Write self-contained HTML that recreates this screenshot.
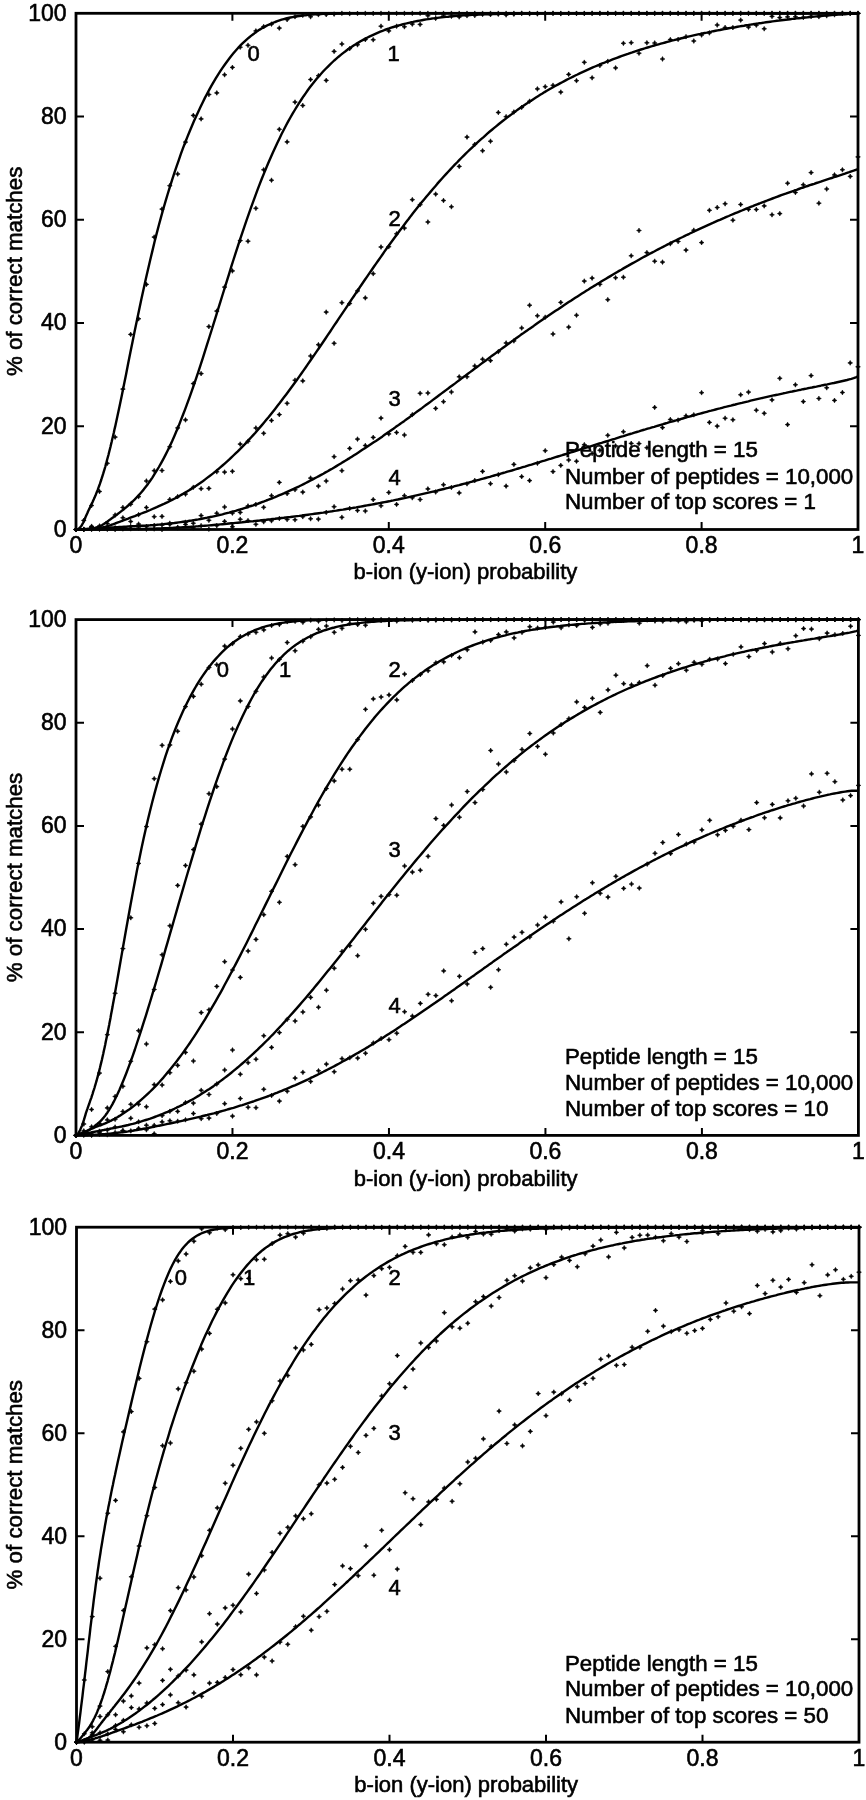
<!DOCTYPE html>
<html><head><meta charset="utf-8"><style>
html,body{margin:0;padding:0;background:#fff;width:866px;height:1800px;overflow:hidden;position:relative}
svg text{font-family:"Liberation Sans", sans-serif;font-size:22px;fill:#000;stroke:#000;stroke-width:0.6px}
svg text.t{font-size:23px}
svg text.l,svg text.r{font-size:22.3px}
</style></head><body>
<svg width="866" height="1800" viewBox="0 0 866 1800" style="position:absolute;left:0;top:0;will-change:transform"><g><rect x="76" y="13.3" width="782.00" height="516.20" fill="none" stroke="#000" stroke-width="2.8"/><path d="M232.40 13.3v7.5M232.40 529.5v-7.5M76 426.26h8M858 426.26h-8M388.80 13.3v7.5M388.80 529.5v-7.5M76 323.02h8M858 323.02h-8M545.20 13.3v7.5M545.20 529.5v-7.5M76 219.78h8M858 219.78h-8M701.60 13.3v7.5M701.60 529.5v-7.5M76 116.54h8M858 116.54h-8" stroke="#000" stroke-width="2" fill="none"/><text class="t" x="66.5" y="536.80" text-anchor="end">0</text><text class="t" x="66.5" y="433.56" text-anchor="end">20</text><text class="t" x="66.5" y="330.32" text-anchor="end">40</text><text class="t" x="66.5" y="227.08" text-anchor="end">60</text><text class="t" x="66.5" y="123.84" text-anchor="end">80</text><text class="t" x="66.5" y="20.60" text-anchor="end">100</text><text class="t" x="76.00" y="553.00" text-anchor="middle">0</text><text class="t" x="232.40" y="553.00" text-anchor="middle">0.2</text><text class="t" x="388.80" y="553.00" text-anchor="middle">0.4</text><text class="t" x="545.20" y="553.00" text-anchor="middle">0.6</text><text class="t" x="701.60" y="553.00" text-anchor="middle">0.8</text><text class="t" x="858.00" y="553.00" text-anchor="middle">1</text><text x="465.50" y="578.50" text-anchor="middle">b-ion (y-ion) probability</text><text class="r" transform="translate(22.4 271.40) rotate(-90)" text-anchor="middle">% of correct matches</text><text class="l" x="565" y="456.80">Peptide length = 15</text><text class="l" x="565" y="483.60">Number of peptides = 10,000</text><text class="l" x="565" y="509.40">Number of top scores = 1</text><path d="M76.0 529.5 L76.7 529.5 L77.3 529.3 L78.0 529.1 L78.7 528.7 L79.3 528.2 L80.0 527.6 L80.6 526.8 L81.3 526.0 L82.0 524.9 L82.6 523.8 L83.3 522.5 L84.0 521.1 L84.6 519.5 L85.3 517.8 L85.9 516.2 L86.6 514.7 L87.3 513.2 L87.9 511.7 L88.6 510.3 L89.3 508.9 L89.9 507.6 L90.6 506.2 L91.2 504.8 L91.9 503.4 L92.6 502.0 L93.2 500.5 L93.9 499.1 L94.6 497.6 L95.2 496.0 L95.9 494.4 L96.5 492.8 L97.2 491.1 L97.9 489.4 L98.5 487.6 L99.2 485.8 L99.9 483.9 L100.5 482.0 L101.2 480.0 L101.8 478.0 L102.5 475.9 L103.2 473.7 L103.8 471.6 L104.5 469.3 L105.2 467.0 L105.8 464.7 L106.5 462.3 L107.1 459.8 L107.8 457.3 L108.5 454.8 L109.1 452.2 L109.8 449.5 L110.5 446.8 L111.1 444.1 L111.8 441.3 L112.4 438.5 L113.1 435.7 L113.8 432.8 L114.4 429.8 L115.1 426.9 L117.3 416.8 L119.5 406.5 L121.7 395.9 L123.9 385.1 L126.1 374.2 L128.2 363.3 L130.4 352.3 L132.6 341.4 L134.8 330.6 L137.0 319.9 L139.2 309.4 L141.4 299.1 L143.6 289.0 L145.8 279.1 L148.0 269.4 L150.2 260.0 L152.4 250.9 L154.5 242.0 L156.7 233.4 L158.9 225.0 L161.1 216.9 L163.3 209.0 L165.5 201.4 L167.7 194.0 L169.9 186.8 L172.1 179.9 L174.3 173.1 L176.5 166.6 L178.7 160.3 L180.8 154.2 L183.0 148.2 L185.2 142.5 L187.4 136.9 L189.6 131.5 L191.8 126.2 L194.0 121.1 L196.2 116.2 L198.4 111.4 L200.6 106.7 L202.8 102.2 L204.9 97.9 L207.1 93.7 L209.3 89.6 L211.5 85.7 L213.7 81.8 L215.9 78.2 L218.1 74.6 L220.3 71.2 L222.5 67.9 L224.7 64.7 L226.9 61.7 L229.1 58.8 L231.2 56.0 L233.4 53.3 L235.6 50.7 L237.8 48.3 L240.0 45.9 L242.2 43.7 L244.4 41.6 L246.6 39.6 L248.8 37.7 L251.0 35.9 L253.2 34.2 L255.4 32.6 L257.5 31.1 L259.7 29.6 L261.9 28.3 L264.1 27.1 L266.3 25.9 L268.5 24.8 L270.7 23.8 L272.9 22.9 L275.1 22.0 L277.3 21.2 L279.5 20.4 L281.6 19.7 L283.8 19.1 L286.0 18.5 L288.2 18.0 L290.4 17.5 L292.6 17.1 L294.8 16.7 L297.0 16.3 L299.2 16.0 L301.4 15.7 L303.6 15.4 L305.8 15.2 L307.9 14.9 L310.1 14.7 L312.3 14.6 L314.5 14.4 L316.7 14.3 L318.9 14.1 L321.1 14.0 L323.3 13.9 L325.5 13.9 L327.7 13.8 L329.9 13.7 L332.1 13.7 L334.2 13.6 L336.4 13.6 L338.6 13.5 L340.8 13.5 L343.0 13.5 L345.2 13.4 L347.4 13.4 L349.6 13.4 L351.8 13.4 L354.0 13.4 L356.2 13.4 L358.4 13.3 L360.5 13.3 L362.7 13.3 L364.9 13.3 L367.1 13.3 L369.3 13.3 L371.5 13.3 L373.7 13.3 L375.9 13.3 L378.1 13.3 L380.3 13.3 L382.5 13.3 L384.6 13.3 L386.8 13.3 L389.0 13.3 L391.2 13.3 L393.4 13.3 L395.6 13.3 L397.8 13.3 L400.0 13.3 L402.2 13.3 L404.4 13.3 L406.6 13.3 L408.8 13.3 L410.9 13.3 L413.1 13.3 L415.3 13.3 L417.5 13.3 L419.7 13.3 L421.9 13.3 L424.1 13.3 L426.3 13.3 L428.5 13.3 L430.7 13.3 L432.9 13.3 L435.1 13.3 L437.2 13.3 L439.4 13.3 L441.6 13.3 L443.8 13.3 L446.0 13.3 L448.2 13.3 L450.4 13.3 L452.6 13.3 L454.8 13.3 L457.0 13.3 L459.2 13.3 L461.3 13.3 L463.5 13.3 L465.7 13.3 L467.9 13.3 L470.1 13.3 L472.3 13.3 L474.5 13.3 L476.7 13.3 L478.9 13.3 L481.1 13.3 L483.3 13.3 L485.5 13.3 L487.6 13.3 L489.8 13.3 L492.0 13.3 L494.2 13.3 L496.4 13.3 L498.6 13.3 L500.8 13.3 L503.0 13.3 L505.2 13.3 L507.4 13.3 L509.6 13.3 L511.8 13.3 L513.9 13.3 L516.1 13.3 L518.3 13.3 L520.5 13.3 L522.7 13.3 L524.9 13.3 L527.1 13.3 L529.3 13.3 L531.5 13.3 L533.7 13.3 L535.9 13.3 L538.0 13.3 L540.2 13.3 L542.4 13.3 L544.6 13.3 L546.8 13.3 L549.0 13.3 L551.2 13.3 L553.4 13.3 L555.6 13.3 L557.8 13.3 L560.0 13.3 L562.2 13.3 L564.3 13.3 L566.5 13.3 L568.7 13.3 L570.9 13.3 L573.1 13.3 L575.3 13.3 L577.5 13.3 L579.7 13.3 L581.9 13.3 L584.1 13.3 L586.3 13.3 L588.5 13.3 L590.6 13.3 L592.8 13.3 L595.0 13.3 L597.2 13.3 L599.4 13.3 L601.6 13.3 L603.8 13.3 L606.0 13.3 L608.2 13.3 L610.4 13.3 L612.6 13.3 L614.7 13.3 L616.9 13.3 L619.1 13.3 L621.3 13.3 L623.5 13.3 L625.7 13.3 L627.9 13.3 L630.1 13.3 L632.3 13.3 L634.5 13.3 L636.7 13.3 L638.9 13.3 L641.0 13.3 L643.2 13.3 L645.4 13.3 L647.6 13.3 L649.8 13.3 L652.0 13.3 L654.2 13.3 L656.4 13.3 L658.6 13.3 L660.8 13.3 L663.0 13.3 L665.2 13.3 L667.3 13.3 L669.5 13.3 L671.7 13.3 L673.9 13.3 L676.1 13.3 L678.3 13.3 L680.5 13.3 L682.7 13.3 L684.9 13.3 L687.1 13.3 L689.3 13.3 L691.5 13.3 L693.6 13.3 L695.8 13.3 L698.0 13.3 L700.2 13.3 L702.4 13.3 L704.6 13.3 L706.8 13.3 L709.0 13.3 L711.2 13.3 L713.4 13.3 L715.6 13.3 L717.7 13.3 L719.9 13.3 L722.1 13.3 L724.3 13.3 L726.5 13.3 L728.7 13.3 L730.9 13.3 L733.1 13.3 L735.3 13.3 L737.5 13.3 L739.7 13.3 L741.9 13.3 L744.0 13.3 L746.2 13.3 L748.4 13.3 L750.6 13.3 L752.8 13.3 L755.0 13.3 L757.2 13.3 L759.4 13.3 L761.6 13.3 L763.8 13.3 L766.0 13.3 L768.2 13.3 L770.3 13.3 L772.5 13.3 L774.7 13.3 L776.9 13.3 L779.1 13.3 L781.3 13.3 L783.5 13.3 L785.7 13.3 L787.9 13.3 L790.1 13.3 L792.3 13.3 L794.4 13.3 L796.6 13.3 L798.8 13.3 L801.0 13.3 L803.2 13.3 L805.4 13.3 L807.6 13.3 L809.8 13.3 L812.0 13.3 L814.2 13.3 L816.4 13.3 L818.6 13.3 L820.7 13.3 L822.9 13.3 L825.1 13.3 L827.3 13.3 L829.5 13.3 L831.7 13.3 L833.9 13.3 L836.1 13.3 L838.3 13.3 L840.5 13.3 L842.7 13.3 L844.9 13.3 L847.0 13.3 L849.2 13.3 L851.4 13.3 L853.6 13.3 L855.8 13.3 L858.0 13.3" fill="none" stroke="#000" stroke-width="2.4" stroke-linejoin="round"/><path d="M76.0 529.5 L76.7 529.5 L77.3 529.5 L78.0 529.5 L78.7 529.5 L79.3 529.5 L80.0 529.5 L80.6 529.5 L81.3 529.5 L82.0 529.5 L82.6 529.4 L83.3 529.4 L84.0 529.4 L84.6 529.4 L85.3 529.3 L85.9 529.3 L86.6 529.3 L87.3 529.2 L87.9 529.2 L88.6 529.1 L89.3 529.0 L89.9 528.9 L90.6 528.8 L91.2 528.7 L91.9 528.6 L92.6 528.5 L93.2 528.3 L93.9 528.2 L94.6 528.0 L95.2 527.8 L95.9 527.7 L96.5 527.4 L97.2 527.2 L97.9 527.0 L98.5 526.7 L99.2 526.5 L99.9 526.2 L100.5 525.9 L101.2 525.5 L101.8 525.2 L102.5 524.8 L103.2 524.4 L103.8 524.0 L104.5 523.5 L105.2 523.1 L105.8 522.6 L106.5 522.1 L107.1 521.7 L107.8 521.2 L108.5 520.7 L109.1 520.2 L109.8 519.8 L110.5 519.3 L111.1 518.8 L111.8 518.3 L112.4 517.8 L113.1 517.4 L113.8 516.9 L114.4 516.4 L115.1 515.9 L117.3 514.3 L119.5 512.6 L121.7 510.9 L123.9 509.2 L126.1 507.3 L128.2 505.5 L130.4 503.5 L132.6 501.5 L134.8 499.3 L137.0 497.0 L139.2 494.7 L141.4 492.2 L143.6 489.6 L145.8 486.8 L148.0 483.9 L150.2 480.8 L152.4 477.6 L154.5 474.2 L156.7 470.7 L158.9 467.0 L161.1 463.1 L163.3 459.1 L165.5 454.9 L167.7 450.5 L169.9 445.9 L172.1 441.2 L174.3 436.2 L176.5 431.1 L178.7 425.9 L180.8 420.4 L183.0 414.8 L185.2 409.1 L187.4 403.2 L189.6 397.1 L191.8 390.9 L194.0 384.6 L196.2 378.1 L198.4 371.6 L200.6 364.9 L202.8 358.2 L204.9 351.3 L207.1 344.4 L209.3 337.5 L211.5 330.5 L213.7 323.4 L215.9 316.3 L218.1 309.2 L220.3 302.1 L222.5 295.0 L224.7 288.0 L226.9 280.9 L229.1 273.9 L231.2 266.9 L233.4 260.0 L235.6 253.2 L237.8 246.4 L240.0 239.7 L242.2 233.1 L244.4 226.6 L246.6 220.2 L248.8 213.9 L251.0 207.7 L253.2 201.7 L255.4 195.7 L257.5 189.9 L259.7 184.1 L261.9 178.5 L264.1 173.1 L266.3 167.7 L268.5 162.5 L270.7 157.4 L272.9 152.5 L275.1 147.7 L277.3 143.0 L279.5 138.4 L281.6 134.0 L283.8 129.7 L286.0 125.5 L288.2 121.4 L290.4 117.5 L292.6 113.7 L294.8 110.0 L297.0 106.4 L299.2 102.9 L301.4 99.5 L303.6 96.2 L305.8 93.1 L307.9 90.0 L310.1 87.1 L312.3 84.2 L314.5 81.5 L316.7 78.8 L318.9 76.2 L321.1 73.7 L323.3 71.3 L325.5 69.0 L327.7 66.8 L329.9 64.6 L332.1 62.5 L334.2 60.5 L336.4 58.6 L338.6 56.7 L340.8 54.9 L343.0 53.1 L345.2 51.5 L347.4 49.8 L349.6 48.3 L351.8 46.8 L354.0 45.3 L356.2 43.9 L358.4 42.6 L360.5 41.3 L362.7 40.1 L364.9 38.9 L367.1 37.7 L369.3 36.6 L371.5 35.6 L373.7 34.6 L375.9 33.6 L378.1 32.6 L380.3 31.7 L382.5 30.9 L384.6 30.0 L386.8 29.2 L389.0 28.5 L391.2 27.7 L393.4 27.0 L395.6 26.3 L397.8 25.7 L400.0 25.1 L402.2 24.5 L404.4 23.9 L406.6 23.4 L408.8 22.8 L410.9 22.3 L413.1 21.9 L415.3 21.4 L417.5 21.0 L419.7 20.6 L421.9 20.2 L424.1 19.8 L426.3 19.4 L428.5 19.1 L430.7 18.8 L432.9 18.4 L435.1 18.2 L437.2 17.9 L439.4 17.6 L441.6 17.3 L443.8 17.1 L446.0 16.9 L448.2 16.7 L450.4 16.4 L452.6 16.3 L454.8 16.1 L457.0 15.9 L459.2 15.7 L461.3 15.6 L463.5 15.4 L465.7 15.3 L467.9 15.1 L470.1 15.0 L472.3 14.9 L474.5 14.8 L476.7 14.7 L478.9 14.6 L481.1 14.5 L483.3 14.4 L485.5 14.3 L487.6 14.3 L489.8 14.2 L492.0 14.1 L494.2 14.1 L496.4 14.0 L498.6 13.9 L500.8 13.9 L503.0 13.8 L505.2 13.8 L507.4 13.8 L509.6 13.7 L511.8 13.7 L513.9 13.7 L516.1 13.6 L518.3 13.6 L520.5 13.6 L522.7 13.5 L524.9 13.5 L527.1 13.5 L529.3 13.5 L531.5 13.5 L533.7 13.5 L535.9 13.4 L538.0 13.4 L540.2 13.4 L542.4 13.4 L544.6 13.4 L546.8 13.4 L549.0 13.4 L551.2 13.4 L553.4 13.4 L555.6 13.4 L557.8 13.3 L560.0 13.3 L562.2 13.3 L564.3 13.3 L566.5 13.3 L568.7 13.3 L570.9 13.3 L573.1 13.3 L575.3 13.3 L577.5 13.3 L579.7 13.3 L581.9 13.3 L584.1 13.3 L586.3 13.3 L588.5 13.3 L590.6 13.3 L592.8 13.3 L595.0 13.3 L597.2 13.3 L599.4 13.3 L601.6 13.3 L603.8 13.3 L606.0 13.3 L608.2 13.3 L610.4 13.3 L612.6 13.3 L614.7 13.3 L616.9 13.3 L619.1 13.3 L621.3 13.3 L623.5 13.3 L625.7 13.3 L627.9 13.3 L630.1 13.3 L632.3 13.3 L634.5 13.3 L636.7 13.3 L638.9 13.3 L641.0 13.3 L643.2 13.3 L645.4 13.3 L647.6 13.3 L649.8 13.3 L652.0 13.3 L654.2 13.3 L656.4 13.3 L658.6 13.3 L660.8 13.3 L663.0 13.3 L665.2 13.3 L667.3 13.3 L669.5 13.3 L671.7 13.3 L673.9 13.3 L676.1 13.3 L678.3 13.3 L680.5 13.3 L682.7 13.3 L684.9 13.3 L687.1 13.3 L689.3 13.3 L691.5 13.3 L693.6 13.3 L695.8 13.3 L698.0 13.3 L700.2 13.3 L702.4 13.3 L704.6 13.3 L706.8 13.3 L709.0 13.3 L711.2 13.3 L713.4 13.3 L715.6 13.3 L717.7 13.3 L719.9 13.3 L722.1 13.3 L724.3 13.3 L726.5 13.3 L728.7 13.3 L730.9 13.3 L733.1 13.3 L735.3 13.3 L737.5 13.3 L739.7 13.3 L741.9 13.3 L744.0 13.3 L746.2 13.3 L748.4 13.3 L750.6 13.3 L752.8 13.3 L755.0 13.3 L757.2 13.3 L759.4 13.3 L761.6 13.3 L763.8 13.3 L766.0 13.3 L768.2 13.3 L770.3 13.3 L772.5 13.3 L774.7 13.3 L776.9 13.3 L779.1 13.3 L781.3 13.3 L783.5 13.3 L785.7 13.3 L787.9 13.3 L790.1 13.3 L792.3 13.3 L794.4 13.3 L796.6 13.3 L798.8 13.3 L801.0 13.3 L803.2 13.3 L805.4 13.3 L807.6 13.3 L809.8 13.3 L812.0 13.3 L814.2 13.3 L816.4 13.3 L818.6 13.3 L820.7 13.3 L822.9 13.3 L825.1 13.3 L827.3 13.3 L829.5 13.3 L831.7 13.3 L833.9 13.3 L836.1 13.3 L838.3 13.3 L840.5 13.3 L842.7 13.3 L844.9 13.3 L847.0 13.3 L849.2 13.3 L851.4 13.3 L853.6 13.3 L855.8 13.3 L858.0 13.3" fill="none" stroke="#000" stroke-width="2.4" stroke-linejoin="round"/><path d="M76.0 529.5 L76.7 529.5 L77.3 529.5 L78.0 529.5 L78.7 529.5 L79.3 529.5 L80.0 529.5 L80.6 529.5 L81.3 529.5 L82.0 529.5 L82.6 529.5 L83.3 529.4 L84.0 529.4 L84.6 529.4 L85.3 529.4 L85.9 529.4 L86.6 529.3 L87.3 529.3 L87.9 529.3 L88.6 529.2 L89.3 529.2 L89.9 529.1 L90.6 529.1 L91.2 529.0 L91.9 529.0 L92.6 528.9 L93.2 528.9 L93.9 528.8 L94.6 528.7 L95.2 528.6 L95.9 528.6 L96.5 528.5 L97.2 528.4 L97.9 528.3 L98.5 528.2 L99.2 528.1 L99.9 527.9 L100.5 527.8 L101.2 527.7 L101.8 527.6 L102.5 527.4 L103.2 527.3 L103.8 527.1 L104.5 527.0 L105.2 526.8 L105.8 526.6 L106.5 526.4 L107.1 526.3 L107.8 526.1 L108.5 525.9 L109.1 525.7 L109.8 525.4 L110.5 525.2 L111.1 525.0 L111.8 524.7 L112.4 524.5 L113.1 524.3 L113.8 524.0 L114.4 523.8 L115.1 523.5 L117.3 522.7 L119.5 521.9 L121.7 521.0 L123.9 520.2 L126.1 519.4 L128.2 518.6 L130.4 517.7 L132.6 516.9 L134.8 516.1 L137.0 515.2 L139.2 514.4 L141.4 513.5 L143.6 512.6 L145.8 511.8 L148.0 510.9 L150.2 510.0 L152.4 509.0 L154.5 508.1 L156.7 507.2 L158.9 506.2 L161.1 505.2 L163.3 504.2 L165.5 503.1 L167.7 502.1 L169.9 501.0 L172.1 499.9 L174.3 498.7 L176.5 497.6 L178.7 496.4 L180.8 495.1 L183.0 493.9 L185.2 492.6 L187.4 491.3 L189.6 489.9 L191.8 488.6 L194.0 487.1 L196.2 485.7 L198.4 484.2 L200.6 482.7 L202.8 481.2 L204.9 479.6 L207.1 477.9 L209.3 476.3 L211.5 474.6 L213.7 472.9 L215.9 471.1 L218.1 469.3 L220.3 467.4 L222.5 465.5 L224.7 463.6 L226.9 461.7 L229.1 459.7 L231.2 457.6 L233.4 455.5 L235.6 453.4 L237.8 451.3 L240.0 449.1 L242.2 446.8 L244.4 444.6 L246.6 442.3 L248.8 439.9 L251.0 437.5 L253.2 435.1 L255.4 432.7 L257.5 430.2 L259.7 427.6 L261.9 425.1 L264.1 422.5 L266.3 419.8 L268.5 417.2 L270.7 414.4 L272.9 411.7 L275.1 408.9 L277.3 406.1 L279.5 403.3 L281.6 400.5 L283.8 397.6 L286.0 394.7 L288.2 391.7 L290.4 388.7 L292.6 385.7 L294.8 382.7 L297.0 379.7 L299.2 376.6 L301.4 373.5 L303.6 370.4 L305.8 367.3 L307.9 364.2 L310.1 361.0 L312.3 357.8 L314.5 354.6 L316.7 351.4 L318.9 348.2 L321.1 345.0 L323.3 341.8 L325.5 338.5 L327.7 335.2 L329.9 332.0 L332.1 328.7 L334.2 325.4 L336.4 322.2 L338.6 318.9 L340.8 315.6 L343.0 312.3 L345.2 309.1 L347.4 305.8 L349.6 302.5 L351.8 299.2 L354.0 296.0 L356.2 292.7 L358.4 289.5 L360.5 286.2 L362.7 283.0 L364.9 279.8 L367.1 276.6 L369.3 273.4 L371.5 270.2 L373.7 267.0 L375.9 263.9 L378.1 260.7 L380.3 257.6 L382.5 254.5 L384.6 251.4 L386.8 248.3 L389.0 245.3 L391.2 242.3 L393.4 239.2 L395.6 236.2 L397.8 233.3 L400.0 230.3 L402.2 227.4 L404.4 224.5 L406.6 221.6 L408.8 218.8 L410.9 215.9 L413.1 213.1 L415.3 210.3 L417.5 207.6 L419.7 204.8 L421.9 202.1 L424.1 199.5 L426.3 196.8 L428.5 194.2 L430.7 191.6 L432.9 189.0 L435.1 186.5 L437.2 183.9 L439.4 181.4 L441.6 179.0 L443.8 176.5 L446.0 174.1 L448.2 171.7 L450.4 169.4 L452.6 167.0 L454.8 164.7 L457.0 162.5 L459.2 160.2 L461.3 158.0 L463.5 155.8 L465.7 153.6 L467.9 151.5 L470.1 149.4 L472.3 147.3 L474.5 145.2 L476.7 143.2 L478.9 141.2 L481.1 139.2 L483.3 137.3 L485.5 135.3 L487.6 133.4 L489.8 131.5 L492.0 129.7 L494.2 127.9 L496.4 126.1 L498.6 124.3 L500.8 122.5 L503.0 120.8 L505.2 119.1 L507.4 117.4 L509.6 115.7 L511.8 114.1 L513.9 112.5 L516.1 110.9 L518.3 109.3 L520.5 107.8 L522.7 106.2 L524.9 104.7 L527.1 103.3 L529.3 101.8 L531.5 100.4 L533.7 98.9 L535.9 97.5 L538.0 96.2 L540.2 94.8 L542.4 93.5 L544.6 92.1 L546.8 90.8 L549.0 89.5 L551.2 88.3 L553.4 87.0 L555.6 85.8 L557.8 84.6 L560.0 83.4 L562.2 82.2 L564.3 81.1 L566.5 79.9 L568.7 78.8 L570.9 77.7 L573.1 76.6 L575.3 75.5 L577.5 74.5 L579.7 73.4 L581.9 72.4 L584.1 71.4 L586.3 70.4 L588.5 69.4 L590.6 68.4 L592.8 67.4 L595.0 66.5 L597.2 65.6 L599.4 64.7 L601.6 63.7 L603.8 62.9 L606.0 62.0 L608.2 61.1 L610.4 60.3 L612.6 59.4 L614.7 58.6 L616.9 57.8 L619.1 57.0 L621.3 56.2 L623.5 55.4 L625.7 54.6 L627.9 53.9 L630.1 53.1 L632.3 52.4 L634.5 51.6 L636.7 50.9 L638.9 50.2 L641.0 49.5 L643.2 48.8 L645.4 48.2 L647.6 47.5 L649.8 46.8 L652.0 46.2 L654.2 45.5 L656.4 44.9 L658.6 44.3 L660.8 43.7 L663.0 43.1 L665.2 42.5 L667.3 41.9 L669.5 41.3 L671.7 40.7 L673.9 40.2 L676.1 39.6 L678.3 39.1 L680.5 38.5 L682.7 38.0 L684.9 37.5 L687.1 36.9 L689.3 36.4 L691.5 35.9 L693.6 35.4 L695.8 34.9 L698.0 34.4 L700.2 34.0 L702.4 33.5 L704.6 33.0 L706.8 32.6 L709.0 32.1 L711.2 31.7 L713.4 31.2 L715.6 30.8 L717.7 30.4 L719.9 30.0 L722.1 29.5 L724.3 29.1 L726.5 28.7 L728.7 28.3 L730.9 27.9 L733.1 27.5 L735.3 27.2 L737.5 26.8 L739.7 26.4 L741.9 26.0 L744.0 25.7 L746.2 25.3 L748.4 25.0 L750.6 24.6 L752.8 24.3 L755.0 23.9 L757.2 23.6 L759.4 23.3 L761.6 23.0 L763.8 22.6 L766.0 22.3 L768.2 22.0 L770.3 21.7 L772.5 21.4 L774.7 21.1 L776.9 20.8 L779.1 20.6 L781.3 20.3 L783.5 20.0 L785.7 19.7 L787.9 19.5 L790.1 19.2 L792.3 18.9 L794.4 18.7 L796.6 18.4 L798.8 18.2 L801.0 18.0 L803.2 17.7 L805.4 17.5 L807.6 17.3 L809.8 17.0 L812.0 16.8 L814.2 16.6 L816.4 16.4 L818.6 16.2 L820.7 16.0 L822.9 15.8 L825.1 15.6 L827.3 15.4 L829.5 15.3 L831.7 15.1 L833.9 14.9 L836.1 14.8 L838.3 14.6 L840.5 14.5 L842.7 14.3 L844.9 14.2 L847.0 14.0 L849.2 13.9 L851.4 13.8 L853.6 13.7 L855.8 13.6 L858.0 13.5" fill="none" stroke="#000" stroke-width="2.4" stroke-linejoin="round"/><path d="M76.0 529.5 L76.7 529.5 L77.3 529.4 L78.0 529.4 L78.7 529.3 L79.3 529.3 L80.0 529.3 L80.6 529.2 L81.3 529.2 L82.0 529.2 L82.6 529.1 L83.3 529.1 L84.0 529.0 L84.6 529.0 L85.3 529.0 L85.9 528.9 L86.6 528.9 L87.3 528.9 L87.9 528.8 L88.6 528.8 L89.3 528.7 L89.9 528.7 L90.6 528.7 L91.2 528.6 L91.9 528.6 L92.6 528.6 L93.2 528.5 L93.9 528.5 L94.6 528.4 L95.2 528.4 L95.9 528.4 L96.5 528.3 L97.2 528.3 L97.9 528.3 L98.5 528.2 L99.2 528.2 L99.9 528.1 L100.5 528.1 L101.2 528.1 L101.8 528.0 L102.5 528.0 L103.2 528.0 L103.8 527.9 L104.5 527.9 L105.2 527.8 L105.8 527.8 L106.5 527.8 L107.1 527.7 L107.8 527.7 L108.5 527.7 L109.1 527.6 L109.8 527.6 L110.5 527.5 L111.1 527.5 L111.8 527.5 L112.4 527.4 L113.1 527.4 L113.8 527.4 L114.4 527.3 L115.1 527.3 L117.3 527.2 L119.5 527.0 L121.7 526.9 L123.9 526.8 L126.1 526.7 L128.2 526.5 L130.4 526.4 L132.6 526.3 L134.8 526.2 L137.0 526.0 L139.2 525.9 L141.4 525.8 L143.6 525.7 L145.8 525.6 L148.0 525.4 L150.2 525.3 L152.4 525.1 L154.5 524.9 L156.7 524.8 L158.9 524.6 L161.1 524.4 L163.3 524.2 L165.5 523.9 L167.7 523.7 L169.9 523.5 L172.1 523.2 L174.3 523.0 L176.5 522.7 L178.7 522.4 L180.8 522.1 L183.0 521.8 L185.2 521.5 L187.4 521.2 L189.6 520.8 L191.8 520.5 L194.0 520.1 L196.2 519.7 L198.4 519.4 L200.6 519.0 L202.8 518.5 L204.9 518.1 L207.1 517.7 L209.3 517.2 L211.5 516.8 L213.7 516.3 L215.9 515.8 L218.1 515.3 L220.3 514.8 L222.5 514.3 L224.7 513.7 L226.9 513.1 L229.1 512.6 L231.2 512.0 L233.4 511.4 L235.6 510.8 L237.8 510.1 L240.0 509.5 L242.2 508.8 L244.4 508.1 L246.6 507.5 L248.8 506.7 L251.0 506.0 L253.2 505.3 L255.4 504.5 L257.5 503.8 L259.7 503.0 L261.9 502.2 L264.1 501.4 L266.3 500.5 L268.5 499.7 L270.7 498.8 L272.9 498.0 L275.1 497.1 L277.3 496.2 L279.5 495.2 L281.6 494.3 L283.8 493.4 L286.0 492.4 L288.2 491.4 L290.4 490.4 L292.6 489.4 L294.8 488.4 L297.0 487.3 L299.2 486.3 L301.4 485.2 L303.6 484.1 L305.8 483.0 L307.9 481.9 L310.1 480.7 L312.3 479.6 L314.5 478.4 L316.7 477.3 L318.9 476.1 L321.1 474.9 L323.3 473.7 L325.5 472.4 L327.7 471.2 L329.9 469.9 L332.1 468.7 L334.2 467.4 L336.4 466.1 L338.6 464.8 L340.8 463.5 L343.0 462.1 L345.2 460.8 L347.4 459.4 L349.6 458.1 L351.8 456.7 L354.0 455.3 L356.2 453.9 L358.4 452.5 L360.5 451.1 L362.7 449.6 L364.9 448.2 L367.1 446.8 L369.3 445.3 L371.5 443.8 L373.7 442.3 L375.9 440.9 L378.1 439.4 L380.3 437.9 L382.5 436.4 L384.6 434.8 L386.8 433.3 L389.0 431.8 L391.2 430.2 L393.4 428.7 L395.6 427.1 L397.8 425.6 L400.0 424.0 L402.2 422.4 L404.4 420.9 L406.6 419.3 L408.8 417.7 L410.9 416.1 L413.1 414.5 L415.3 412.9 L417.5 411.3 L419.7 409.7 L421.9 408.1 L424.1 406.4 L426.3 404.8 L428.5 403.2 L430.7 401.6 L432.9 399.9 L435.1 398.3 L437.2 396.7 L439.4 395.0 L441.6 393.4 L443.8 391.8 L446.0 390.1 L448.2 388.5 L450.4 386.8 L452.6 385.2 L454.8 383.6 L457.0 381.9 L459.2 380.3 L461.3 378.6 L463.5 377.0 L465.7 375.4 L467.9 373.7 L470.1 372.1 L472.3 370.5 L474.5 368.8 L476.7 367.2 L478.9 365.6 L481.1 363.9 L483.3 362.3 L485.5 360.7 L487.6 359.1 L489.8 357.4 L492.0 355.8 L494.2 354.2 L496.4 352.6 L498.6 351.0 L500.8 349.4 L503.0 347.8 L505.2 346.2 L507.4 344.6 L509.6 343.0 L511.8 341.4 L513.9 339.9 L516.1 338.3 L518.3 336.7 L520.5 335.1 L522.7 333.6 L524.9 332.0 L527.1 330.5 L529.3 328.9 L531.5 327.4 L533.7 325.9 L535.9 324.3 L538.0 322.8 L540.2 321.3 L542.4 319.8 L544.6 318.3 L546.8 316.8 L549.0 315.3 L551.2 313.8 L553.4 312.3 L555.6 310.8 L557.8 309.4 L560.0 307.9 L562.2 306.4 L564.3 305.0 L566.5 303.5 L568.7 302.1 L570.9 300.7 L573.1 299.2 L575.3 297.8 L577.5 296.4 L579.7 295.0 L581.9 293.6 L584.1 292.2 L586.3 290.8 L588.5 289.5 L590.6 288.1 L592.8 286.7 L595.0 285.4 L597.2 284.0 L599.4 282.7 L601.6 281.3 L603.8 280.0 L606.0 278.7 L608.2 277.4 L610.4 276.1 L612.6 274.8 L614.7 273.5 L616.9 272.2 L619.1 270.9 L621.3 269.7 L623.5 268.4 L625.7 267.1 L627.9 265.9 L630.1 264.6 L632.3 263.4 L634.5 262.2 L636.7 261.0 L638.9 259.7 L641.0 258.5 L643.2 257.3 L645.4 256.1 L647.6 255.0 L649.8 253.8 L652.0 252.6 L654.2 251.5 L656.4 250.3 L658.6 249.1 L660.8 248.0 L663.0 246.9 L665.2 245.7 L667.3 244.6 L669.5 243.5 L671.7 242.4 L673.9 241.3 L676.1 240.2 L678.3 239.1 L680.5 238.0 L682.7 237.0 L684.9 235.9 L687.1 234.8 L689.3 233.8 L691.5 232.7 L693.6 231.7 L695.8 230.7 L698.0 229.6 L700.2 228.6 L702.4 227.6 L704.6 226.6 L706.8 225.6 L709.0 224.6 L711.2 223.6 L713.4 222.7 L715.6 221.7 L717.7 220.7 L719.9 219.8 L722.1 218.8 L724.3 217.9 L726.5 216.9 L728.7 216.0 L730.9 215.0 L733.1 214.1 L735.3 213.2 L737.5 212.3 L739.7 211.4 L741.9 210.5 L744.0 209.6 L746.2 208.7 L748.4 207.8 L750.6 206.9 L752.8 206.1 L755.0 205.2 L757.2 204.3 L759.4 203.5 L761.6 202.6 L763.8 201.8 L766.0 201.0 L768.2 200.1 L770.3 199.3 L772.5 198.5 L774.7 197.7 L776.9 196.8 L779.1 196.0 L781.3 195.2 L783.5 194.4 L785.7 193.7 L787.9 192.9 L790.1 192.1 L792.3 191.3 L794.4 190.5 L796.6 189.8 L798.8 189.0 L801.0 188.2 L803.2 187.5 L805.4 186.7 L807.6 186.0 L809.8 185.2 L812.0 184.5 L814.2 183.8 L816.4 183.0 L818.6 182.3 L820.7 181.6 L822.9 180.8 L825.1 180.1 L827.3 179.4 L829.5 178.7 L831.7 178.0 L833.9 177.2 L836.1 176.5 L838.3 175.8 L840.5 175.1 L842.7 174.4 L844.9 173.7 L847.0 172.9 L849.2 172.2 L851.4 171.4 L853.6 170.7 L855.8 169.9 L858.0 169.1" fill="none" stroke="#000" stroke-width="2.4" stroke-linejoin="round"/><path d="M76.0 529.5 L76.7 529.5 L77.3 529.5 L78.0 529.5 L78.7 529.5 L79.3 529.5 L80.0 529.5 L80.6 529.5 L81.3 529.5 L82.0 529.5 L82.6 529.5 L83.3 529.5 L84.0 529.5 L84.6 529.5 L85.3 529.5 L85.9 529.5 L86.6 529.5 L87.3 529.5 L87.9 529.5 L88.6 529.5 L89.3 529.5 L89.9 529.5 L90.6 529.5 L91.2 529.5 L91.9 529.5 L92.6 529.5 L93.2 529.5 L93.9 529.5 L94.6 529.5 L95.2 529.5 L95.9 529.5 L96.5 529.5 L97.2 529.5 L97.9 529.5 L98.5 529.5 L99.2 529.5 L99.9 529.5 L100.5 529.5 L101.2 529.5 L101.8 529.5 L102.5 529.5 L103.2 529.5 L103.8 529.5 L104.5 529.5 L105.2 529.4 L105.8 529.4 L106.5 529.4 L107.1 529.4 L107.8 529.4 L108.5 529.4 L109.1 529.4 L109.8 529.4 L110.5 529.4 L111.1 529.4 L111.8 529.4 L112.4 529.4 L113.1 529.4 L113.8 529.4 L114.4 529.4 L115.1 529.4 L117.3 529.4 L119.5 529.3 L121.7 529.3 L123.9 529.3 L126.1 529.2 L128.2 529.2 L130.4 529.2 L132.6 529.1 L134.8 529.1 L137.0 529.1 L139.2 529.0 L141.4 529.0 L143.6 528.9 L145.8 528.9 L148.0 528.8 L150.2 528.7 L152.4 528.7 L154.5 528.6 L156.7 528.5 L158.9 528.4 L161.1 528.4 L163.3 528.3 L165.5 528.2 L167.7 528.1 L169.9 528.0 L172.1 527.9 L174.3 527.8 L176.5 527.7 L178.7 527.5 L180.8 527.4 L183.0 527.3 L185.2 527.2 L187.4 527.0 L189.6 526.9 L191.8 526.7 L194.0 526.6 L196.2 526.4 L198.4 526.3 L200.6 526.1 L202.8 525.9 L204.9 525.7 L207.1 525.6 L209.3 525.4 L211.5 525.2 L213.7 525.0 L215.9 524.8 L218.1 524.6 L220.3 524.4 L222.5 524.2 L224.7 524.0 L226.9 523.8 L229.1 523.5 L231.2 523.3 L233.4 523.1 L235.6 522.9 L237.8 522.7 L240.0 522.5 L242.2 522.3 L244.4 522.0 L246.6 521.8 L248.8 521.6 L251.0 521.4 L253.2 521.2 L255.4 520.9 L257.5 520.7 L259.7 520.5 L261.9 520.2 L264.1 520.0 L266.3 519.8 L268.5 519.5 L270.7 519.3 L272.9 519.0 L275.1 518.8 L277.3 518.5 L279.5 518.3 L281.6 518.0 L283.8 517.8 L286.0 517.5 L288.2 517.2 L290.4 517.0 L292.6 516.7 L294.8 516.4 L297.0 516.1 L299.2 515.9 L301.4 515.6 L303.6 515.3 L305.8 515.0 L307.9 514.7 L310.1 514.4 L312.3 514.1 L314.5 513.8 L316.7 513.5 L318.9 513.2 L321.1 512.9 L323.3 512.6 L325.5 512.2 L327.7 511.9 L329.9 511.6 L332.1 511.3 L334.2 510.9 L336.4 510.6 L338.6 510.2 L340.8 509.9 L343.0 509.6 L345.2 509.2 L347.4 508.8 L349.6 508.5 L351.8 508.1 L354.0 507.7 L356.2 507.4 L358.4 507.0 L360.5 506.6 L362.7 506.2 L364.9 505.8 L367.1 505.4 L369.3 505.0 L371.5 504.6 L373.7 504.2 L375.9 503.8 L378.1 503.4 L380.3 503.0 L382.5 502.5 L384.6 502.1 L386.8 501.7 L389.0 501.3 L391.2 500.8 L393.4 500.4 L395.6 499.9 L397.8 499.5 L400.0 499.0 L402.2 498.5 L404.4 498.1 L406.6 497.6 L408.8 497.1 L410.9 496.6 L413.1 496.2 L415.3 495.7 L417.5 495.2 L419.7 494.7 L421.9 494.2 L424.1 493.7 L426.3 493.2 L428.5 492.7 L430.7 492.1 L432.9 491.6 L435.1 491.1 L437.2 490.6 L439.4 490.0 L441.6 489.5 L443.8 489.0 L446.0 488.4 L448.2 487.9 L450.4 487.3 L452.6 486.8 L454.8 486.2 L457.0 485.6 L459.2 485.1 L461.3 484.5 L463.5 483.9 L465.7 483.3 L467.9 482.8 L470.1 482.2 L472.3 481.6 L474.5 481.0 L476.7 480.4 L478.9 479.8 L481.1 479.2 L483.3 478.6 L485.5 478.0 L487.6 477.4 L489.8 476.8 L492.0 476.1 L494.2 475.5 L496.4 474.9 L498.6 474.3 L500.8 473.6 L503.0 473.0 L505.2 472.4 L507.4 471.7 L509.6 471.1 L511.8 470.5 L513.9 469.8 L516.1 469.2 L518.3 468.5 L520.5 467.9 L522.7 467.2 L524.9 466.6 L527.1 465.9 L529.3 465.2 L531.5 464.6 L533.7 463.9 L535.9 463.2 L538.0 462.6 L540.2 461.9 L542.4 461.2 L544.6 460.6 L546.8 459.9 L549.0 459.2 L551.2 458.6 L553.4 457.9 L555.6 457.2 L557.8 456.5 L560.0 455.8 L562.2 455.2 L564.3 454.5 L566.5 453.8 L568.7 453.1 L570.9 452.4 L573.1 451.8 L575.3 451.1 L577.5 450.4 L579.7 449.7 L581.9 449.0 L584.1 448.3 L586.3 447.6 L588.5 447.0 L590.6 446.3 L592.8 445.6 L595.0 444.9 L597.2 444.2 L599.4 443.5 L601.6 442.9 L603.8 442.2 L606.0 441.5 L608.2 440.8 L610.4 440.1 L612.6 439.4 L614.7 438.8 L616.9 438.1 L619.1 437.4 L621.3 436.7 L623.5 436.1 L625.7 435.4 L627.9 434.7 L630.1 434.0 L632.3 433.4 L634.5 432.7 L636.7 432.0 L638.9 431.4 L641.0 430.7 L643.2 430.0 L645.4 429.4 L647.6 428.7 L649.8 428.1 L652.0 427.4 L654.2 426.8 L656.4 426.1 L658.6 425.5 L660.8 424.8 L663.0 424.2 L665.2 423.5 L667.3 422.9 L669.5 422.2 L671.7 421.6 L673.9 421.0 L676.1 420.4 L678.3 419.7 L680.5 419.1 L682.7 418.5 L684.9 417.9 L687.1 417.2 L689.3 416.6 L691.5 416.0 L693.6 415.4 L695.8 414.8 L698.0 414.2 L700.2 413.6 L702.4 413.0 L704.6 412.4 L706.8 411.8 L709.0 411.2 L711.2 410.7 L713.4 410.1 L715.6 409.5 L717.7 408.9 L719.9 408.4 L722.1 407.8 L724.3 407.2 L726.5 406.7 L728.7 406.1 L730.9 405.6 L733.1 405.0 L735.3 404.5 L737.5 403.9 L739.7 403.4 L741.9 402.9 L744.0 402.3 L746.2 401.8 L748.4 401.3 L750.6 400.7 L752.8 400.2 L755.0 399.7 L757.2 399.2 L759.4 398.7 L761.6 398.2 L763.8 397.7 L766.0 397.2 L768.2 396.7 L770.3 396.2 L772.5 395.7 L774.7 395.2 L776.9 394.8 L779.1 394.3 L781.3 393.8 L783.5 393.3 L785.7 392.9 L787.9 392.4 L790.1 391.9 L792.3 391.5 L794.4 391.0 L796.6 390.6 L798.8 390.1 L801.0 389.7 L803.2 389.2 L805.4 388.8 L807.6 388.3 L809.8 387.9 L812.0 387.5 L814.2 387.0 L816.4 386.6 L818.6 386.1 L820.7 385.7 L822.9 385.2 L825.1 384.8 L827.3 384.4 L829.5 383.9 L831.7 383.4 L833.9 383.0 L836.1 382.5 L838.3 382.0 L840.5 381.5 L842.7 381.0 L844.9 380.5 L847.0 380.0 L849.2 379.4 L851.4 378.8 L853.6 378.1 L855.8 377.3 L858.0 376.4" fill="none" stroke="#000" stroke-width="2.4" stroke-linejoin="round"/><path d="M73.6 529.5L75.2 528.7L76.0 527.1L76.8 528.7L78.4 529.5L76.8 530.3L76.0 531.9L75.2 530.3ZM81.4 520.4L83.0 519.6L83.8 518.0L84.6 519.6L86.2 520.4L84.6 521.2L83.8 522.8L83.0 521.2ZM89.2 505.5L90.8 504.7L91.6 503.1L92.4 504.7L94.0 505.5L92.4 506.3L91.6 507.9L90.8 506.3ZM97.1 491.5L98.7 490.7L99.5 489.1L100.3 490.7L101.9 491.5L100.3 492.3L99.5 493.9L98.7 492.3ZM104.9 463.3L106.5 462.5L107.3 460.9L108.1 462.5L109.7 463.3L108.1 464.1L107.3 465.7L106.5 464.1ZM112.7 437.1L114.3 436.3L115.1 434.7L115.9 436.3L117.5 437.1L115.9 437.9L115.1 439.5L114.3 437.9ZM120.5 389.1L122.1 388.3L122.9 386.7L123.7 388.3L125.3 389.1L123.7 389.9L122.9 391.5L122.1 389.9ZM128.3 334.4L129.9 333.6L130.7 332.0L131.5 333.6L133.1 334.4L131.5 335.2L130.7 336.8L129.9 335.2ZM136.2 318.8L137.8 318.0L138.6 316.4L139.4 318.0L141.0 318.8L139.4 319.6L138.6 321.2L137.8 319.6ZM144.0 284.4L145.6 283.6L146.4 282.0L147.2 283.6L148.8 284.4L147.2 285.2L146.4 286.8L145.6 285.2ZM151.8 237.1L153.4 236.3L154.2 234.7L155.0 236.3L156.6 237.1L155.0 237.9L154.2 239.5L153.4 237.9ZM159.6 209.1L161.2 208.3L162.0 206.7L162.8 208.3L164.4 209.1L162.8 209.9L162.0 211.5L161.2 209.9ZM167.4 185.7L169.0 184.9L169.8 183.3L170.6 184.9L172.2 185.7L170.6 186.5L169.8 188.1L169.0 186.5ZM175.3 174.0L176.9 173.2L177.7 171.6L178.5 173.2L180.1 174.0L178.5 174.8L177.7 176.4L176.9 174.8ZM183.1 142.1L184.7 141.3L185.5 139.7L186.3 141.3L187.9 142.1L186.3 142.9L185.5 144.5L184.7 142.9ZM190.9 115.4L192.5 114.6L193.3 113.0L194.1 114.6L195.7 115.4L194.1 116.2L193.3 117.8L192.5 116.2ZM198.7 118.9L200.3 118.1L201.1 116.5L201.9 118.1L203.5 118.9L201.9 119.7L201.1 121.3L200.3 119.7ZM206.5 94.5L208.1 93.7L208.9 92.1L209.7 93.7L211.3 94.5L209.7 95.3L208.9 96.9L208.1 95.3ZM214.4 92.9L216.0 92.1L216.8 90.5L217.6 92.1L219.2 92.9L217.6 93.7L216.8 95.3L216.0 93.7ZM222.2 74.8L223.8 74.0L224.6 72.4L225.4 74.0L227.0 74.8L225.4 75.6L224.6 77.2L223.8 75.6ZM230.0 67.4L231.6 66.6L232.4 65.0L233.2 66.6L234.8 67.4L233.2 68.2L232.4 69.8L231.6 68.2ZM237.8 47.2L239.4 46.4L240.2 44.8L241.0 46.4L242.6 47.2L241.0 48.0L240.2 49.6L239.4 48.0ZM245.6 45.3L247.2 44.5L248.0 42.9L248.8 44.5L250.4 45.3L248.8 46.1L248.0 47.7L247.2 46.1ZM253.5 30.9L255.1 30.1L255.9 28.5L256.7 30.1L258.3 30.9L256.7 31.7L255.9 33.3L255.1 31.7ZM261.3 26.6L262.9 25.8L263.7 24.2L264.5 25.8L266.1 26.6L264.5 27.4L263.7 29.0L262.9 27.4ZM269.1 24.1L270.7 23.3L271.5 21.7L272.3 23.3L273.9 24.1L272.3 24.9L271.5 26.5L270.7 24.9ZM276.9 28.1L278.5 27.3L279.3 25.7L280.1 27.3L281.7 28.1L280.1 28.9L279.3 30.5L278.5 28.9ZM284.7 19.6L286.3 18.8L287.1 17.2L287.9 18.8L289.5 19.6L287.9 20.4L287.1 22.0L286.3 20.4ZM292.6 16.7L294.2 15.9L295.0 14.3L295.8 15.9L297.4 16.7L295.8 17.5L295.0 19.1L294.2 17.5ZM300.4 15.3L302.0 14.5L302.8 12.9L303.6 14.5L305.2 15.3L303.6 16.1L302.8 17.7L302.0 16.1ZM308.2 16.8L309.8 16.0L310.6 14.4L311.4 16.0L313.0 16.8L311.4 17.6L310.6 19.2L309.8 17.6ZM316.0 14.7L317.6 13.9L318.4 12.3L319.2 13.9L320.8 14.7L319.2 15.5L318.4 17.1L317.6 15.5ZM323.8 14.6L325.4 13.8L326.2 12.2L327.0 13.8L328.6 14.6L327.0 15.4L326.2 17.0L325.4 15.4ZM331.7 14.1L333.3 13.3L334.1 11.7L334.9 13.3L336.5 14.1L334.9 14.9L334.1 16.5L333.3 14.9ZM339.5 13.3L341.1 12.5L341.9 10.9L342.7 12.5L344.3 13.3L342.7 14.1L341.9 15.7L341.1 14.1ZM347.3 13.7L348.9 12.9L349.7 11.3L350.5 12.9L352.1 13.7L350.5 14.5L349.7 16.1L348.9 14.5ZM355.1 13.4L356.7 12.6L357.5 11.0L358.3 12.6L359.9 13.4L358.3 14.2L357.5 15.8L356.7 14.2ZM362.9 13.3L364.5 12.5L365.3 10.9L366.1 12.5L367.7 13.3L366.1 14.1L365.3 15.7L364.5 14.1ZM370.8 13.4L372.4 12.6L373.2 11.0L374.0 12.6L375.6 13.4L374.0 14.2L373.2 15.8L372.4 14.2ZM378.6 13.3L380.2 12.5L381.0 10.9L381.8 12.5L383.4 13.3L381.8 14.1L381.0 15.7L380.2 14.1ZM386.4 13.3L388.0 12.5L388.8 10.9L389.6 12.5L391.2 13.3L389.6 14.1L388.8 15.7L388.0 14.1ZM394.2 13.3L395.8 12.5L396.6 10.9L397.4 12.5L399.0 13.3L397.4 14.1L396.6 15.7L395.8 14.1ZM402.0 13.3L403.6 12.5L404.4 10.9L405.2 12.5L406.8 13.3L405.2 14.1L404.4 15.7L403.6 14.1ZM409.9 13.3L411.5 12.5L412.3 10.9L413.1 12.5L414.7 13.3L413.1 14.1L412.3 15.7L411.5 14.1ZM417.7 13.3L419.3 12.5L420.1 10.9L420.9 12.5L422.5 13.3L420.9 14.1L420.1 15.7L419.3 14.1ZM425.5 13.3L427.1 12.5L427.9 10.9L428.7 12.5L430.3 13.3L428.7 14.1L427.9 15.7L427.1 14.1ZM433.3 13.3L434.9 12.5L435.7 10.9L436.5 12.5L438.1 13.3L436.5 14.1L435.7 15.7L434.9 14.1ZM441.1 13.3L442.7 12.5L443.5 10.9L444.3 12.5L445.9 13.3L444.3 14.1L443.5 15.7L442.7 14.1ZM449.0 13.3L450.6 12.5L451.4 10.9L452.2 12.5L453.8 13.3L452.2 14.1L451.4 15.7L450.6 14.1ZM456.8 13.3L458.4 12.5L459.2 10.9L460.0 12.5L461.6 13.3L460.0 14.1L459.2 15.7L458.4 14.1ZM464.6 13.3L466.2 12.5L467.0 10.9L467.8 12.5L469.4 13.3L467.8 14.1L467.0 15.7L466.2 14.1ZM472.4 13.3L474.0 12.5L474.8 10.9L475.6 12.5L477.2 13.3L475.6 14.1L474.8 15.7L474.0 14.1ZM480.2 13.3L481.8 12.5L482.6 10.9L483.4 12.5L485.0 13.3L483.4 14.1L482.6 15.7L481.8 14.1ZM488.1 13.3L489.7 12.5L490.5 10.9L491.3 12.5L492.9 13.3L491.3 14.1L490.5 15.7L489.7 14.1ZM495.9 13.3L497.5 12.5L498.3 10.9L499.1 12.5L500.7 13.3L499.1 14.1L498.3 15.7L497.5 14.1ZM503.7 13.3L505.3 12.5L506.1 10.9L506.9 12.5L508.5 13.3L506.9 14.1L506.1 15.7L505.3 14.1ZM511.5 13.3L513.1 12.5L513.9 10.9L514.7 12.5L516.3 13.3L514.7 14.1L513.9 15.7L513.1 14.1ZM519.3 13.3L520.9 12.5L521.7 10.9L522.5 12.5L524.1 13.3L522.5 14.1L521.7 15.7L520.9 14.1ZM527.2 13.3L528.8 12.5L529.6 10.9L530.4 12.5L532.0 13.3L530.4 14.1L529.6 15.7L528.8 14.1ZM535.0 13.3L536.6 12.5L537.4 10.9L538.2 12.5L539.8 13.3L538.2 14.1L537.4 15.7L536.6 14.1ZM542.8 13.3L544.4 12.5L545.2 10.9L546.0 12.5L547.6 13.3L546.0 14.1L545.2 15.7L544.4 14.1ZM550.6 13.3L552.2 12.5L553.0 10.9L553.8 12.5L555.4 13.3L553.8 14.1L553.0 15.7L552.2 14.1ZM558.4 13.3L560.0 12.5L560.8 10.9L561.6 12.5L563.2 13.3L561.6 14.1L560.8 15.7L560.0 14.1ZM566.3 13.3L567.9 12.5L568.7 10.9L569.5 12.5L571.1 13.3L569.5 14.1L568.7 15.7L567.9 14.1ZM574.1 13.3L575.7 12.5L576.5 10.9L577.3 12.5L578.9 13.3L577.3 14.1L576.5 15.7L575.7 14.1ZM581.9 13.3L583.5 12.5L584.3 10.9L585.1 12.5L586.7 13.3L585.1 14.1L584.3 15.7L583.5 14.1ZM589.7 13.3L591.3 12.5L592.1 10.9L592.9 12.5L594.5 13.3L592.9 14.1L592.1 15.7L591.3 14.1ZM597.5 13.3L599.1 12.5L599.9 10.9L600.7 12.5L602.3 13.3L600.7 14.1L599.9 15.7L599.1 14.1ZM605.4 13.3L607.0 12.5L607.8 10.9L608.6 12.5L610.2 13.3L608.6 14.1L607.8 15.7L607.0 14.1ZM613.2 13.3L614.8 12.5L615.6 10.9L616.4 12.5L618.0 13.3L616.4 14.1L615.6 15.7L614.8 14.1ZM621.0 13.3L622.6 12.5L623.4 10.9L624.2 12.5L625.8 13.3L624.2 14.1L623.4 15.7L622.6 14.1ZM628.8 13.3L630.4 12.5L631.2 10.9L632.0 12.5L633.6 13.3L632.0 14.1L631.2 15.7L630.4 14.1ZM636.6 13.3L638.2 12.5L639.0 10.9L639.8 12.5L641.4 13.3L639.8 14.1L639.0 15.7L638.2 14.1ZM644.5 13.3L646.1 12.5L646.9 10.9L647.7 12.5L649.3 13.3L647.7 14.1L646.9 15.7L646.1 14.1ZM652.3 13.3L653.9 12.5L654.7 10.9L655.5 12.5L657.1 13.3L655.5 14.1L654.7 15.7L653.9 14.1ZM660.1 13.3L661.7 12.5L662.5 10.9L663.3 12.5L664.9 13.3L663.3 14.1L662.5 15.7L661.7 14.1ZM667.9 13.3L669.5 12.5L670.3 10.9L671.1 12.5L672.7 13.3L671.1 14.1L670.3 15.7L669.5 14.1ZM675.7 13.3L677.3 12.5L678.1 10.9L678.9 12.5L680.5 13.3L678.9 14.1L678.1 15.7L677.3 14.1ZM683.6 13.3L685.2 12.5L686.0 10.9L686.8 12.5L688.4 13.3L686.8 14.1L686.0 15.7L685.2 14.1ZM691.4 13.3L693.0 12.5L693.8 10.9L694.6 12.5L696.2 13.3L694.6 14.1L693.8 15.7L693.0 14.1ZM699.2 13.3L700.8 12.5L701.6 10.9L702.4 12.5L704.0 13.3L702.4 14.1L701.6 15.7L700.8 14.1ZM707.0 13.3L708.6 12.5L709.4 10.9L710.2 12.5L711.8 13.3L710.2 14.1L709.4 15.7L708.6 14.1ZM714.8 13.3L716.4 12.5L717.2 10.9L718.0 12.5L719.6 13.3L718.0 14.1L717.2 15.7L716.4 14.1ZM722.7 13.3L724.3 12.5L725.1 10.9L725.9 12.5L727.5 13.3L725.9 14.1L725.1 15.7L724.3 14.1ZM730.5 13.3L732.1 12.5L732.9 10.9L733.7 12.5L735.3 13.3L733.7 14.1L732.9 15.7L732.1 14.1ZM738.3 13.3L739.9 12.5L740.7 10.9L741.5 12.5L743.1 13.3L741.5 14.1L740.7 15.7L739.9 14.1ZM746.1 13.3L747.7 12.5L748.5 10.9L749.3 12.5L750.9 13.3L749.3 14.1L748.5 15.7L747.7 14.1ZM753.9 13.3L755.5 12.5L756.3 10.9L757.1 12.5L758.7 13.3L757.1 14.1L756.3 15.7L755.5 14.1ZM761.8 13.3L763.4 12.5L764.2 10.9L765.0 12.5L766.6 13.3L765.0 14.1L764.2 15.7L763.4 14.1ZM769.6 13.3L771.2 12.5L772.0 10.9L772.8 12.5L774.4 13.3L772.8 14.1L772.0 15.7L771.2 14.1ZM777.4 13.3L779.0 12.5L779.8 10.9L780.6 12.5L782.2 13.3L780.6 14.1L779.8 15.7L779.0 14.1ZM785.2 13.3L786.8 12.5L787.6 10.9L788.4 12.5L790.0 13.3L788.4 14.1L787.6 15.7L786.8 14.1ZM793.0 13.3L794.6 12.5L795.4 10.9L796.2 12.5L797.8 13.3L796.2 14.1L795.4 15.7L794.6 14.1ZM800.9 13.3L802.5 12.5L803.3 10.9L804.1 12.5L805.7 13.3L804.1 14.1L803.3 15.7L802.5 14.1ZM808.7 13.3L810.3 12.5L811.1 10.9L811.9 12.5L813.5 13.3L811.9 14.1L811.1 15.7L810.3 14.1ZM816.5 13.3L818.1 12.5L818.9 10.9L819.7 12.5L821.3 13.3L819.7 14.1L818.9 15.7L818.1 14.1ZM824.3 13.3L825.9 12.5L826.7 10.9L827.5 12.5L829.1 13.3L827.5 14.1L826.7 15.7L825.9 14.1ZM832.1 13.3L833.7 12.5L834.5 10.9L835.3 12.5L836.9 13.3L835.3 14.1L834.5 15.7L833.7 14.1ZM840.0 13.3L841.6 12.5L842.4 10.9L843.2 12.5L844.8 13.3L843.2 14.1L842.4 15.7L841.6 14.1ZM847.8 13.3L849.4 12.5L850.2 10.9L851.0 12.5L852.6 13.3L851.0 14.1L850.2 15.7L849.4 14.1ZM855.6 13.3L857.2 12.5L858.0 10.9L858.8 12.5L860.4 13.3L858.8 14.1L858.0 15.7L857.2 14.1ZM73.6 529.5L75.2 528.7L76.0 527.1L76.8 528.7L78.4 529.5L76.8 530.3L76.0 531.9L75.2 530.3ZM81.4 529.4L83.0 528.6L83.8 527.0L84.6 528.6L86.2 529.4L84.6 530.2L83.8 531.8L83.0 530.2ZM89.2 526.3L90.8 525.5L91.6 523.9L92.4 525.5L94.0 526.3L92.4 527.1L91.6 528.7L90.8 527.1ZM97.1 528.0L98.7 527.2L99.5 525.6L100.3 527.2L101.9 528.0L100.3 528.8L99.5 530.4L98.7 528.8ZM104.9 523.5L106.5 522.7L107.3 521.1L108.1 522.7L109.7 523.5L108.1 524.3L107.3 525.9L106.5 524.3ZM112.7 515.0L114.3 514.2L115.1 512.6L115.9 514.2L117.5 515.0L115.9 515.8L115.1 517.4L114.3 515.8ZM120.5 507.5L122.1 506.7L122.9 505.1L123.7 506.7L125.3 507.5L123.7 508.3L122.9 509.9L122.1 508.3ZM128.3 504.2L129.9 503.4L130.7 501.8L131.5 503.4L133.1 504.2L131.5 505.0L130.7 506.6L129.9 505.0ZM136.2 496.7L137.8 495.9L138.6 494.3L139.4 495.9L141.0 496.7L139.4 497.5L138.6 499.1L137.8 497.5ZM144.0 481.0L145.6 480.2L146.4 478.6L147.2 480.2L148.8 481.0L147.2 481.8L146.4 483.4L145.6 481.8ZM151.8 470.7L153.4 469.9L154.2 468.3L155.0 469.9L156.6 470.7L155.0 471.5L154.2 473.1L153.4 471.5ZM159.6 470.5L161.2 469.7L162.0 468.1L162.8 469.7L164.4 470.5L162.8 471.3L162.0 472.9L161.2 471.3ZM167.4 446.8L169.0 446.0L169.8 444.4L170.6 446.0L172.2 446.8L170.6 447.6L169.8 449.2L169.0 447.6ZM175.3 427.9L176.9 427.1L177.7 425.5L178.5 427.1L180.1 427.9L178.5 428.7L177.7 430.3L176.9 428.7ZM183.1 419.9L184.7 419.1L185.5 417.5L186.3 419.1L187.9 419.9L186.3 420.7L185.5 422.3L184.7 420.7ZM190.9 383.6L192.5 382.8L193.3 381.2L194.1 382.8L195.7 383.6L194.1 384.4L193.3 386.0L192.5 384.4ZM198.7 373.6L200.3 372.8L201.1 371.2L201.9 372.8L203.5 373.6L201.9 374.4L201.1 376.0L200.3 374.4ZM206.5 326.6L208.1 325.8L208.9 324.2L209.7 325.8L211.3 326.6L209.7 327.4L208.9 329.0L208.1 327.4ZM214.4 311.1L216.0 310.3L216.8 308.7L217.6 310.3L219.2 311.1L217.6 311.9L216.8 313.5L216.0 311.9ZM222.2 287.1L223.8 286.3L224.6 284.7L225.4 286.3L227.0 287.1L225.4 287.9L224.6 289.5L223.8 287.9ZM230.0 270.9L231.6 270.1L232.4 268.5L233.2 270.1L234.8 270.9L233.2 271.7L232.4 273.3L231.6 271.7ZM237.8 240.6L239.4 239.8L240.2 238.2L241.0 239.8L242.6 240.6L241.0 241.4L240.2 243.0L239.4 241.4ZM245.6 241.2L247.2 240.4L248.0 238.8L248.8 240.4L250.4 241.2L248.8 242.0L248.0 243.6L247.2 242.0ZM253.5 208.3L255.1 207.5L255.9 205.9L256.7 207.5L258.3 208.3L256.7 209.1L255.9 210.7L255.1 209.1ZM261.3 169.8L262.9 169.0L263.7 167.4L264.5 169.0L266.1 169.8L264.5 170.6L263.7 172.2L262.9 170.6ZM269.1 180.2L270.7 179.4L271.5 177.8L272.3 179.4L273.9 180.2L272.3 181.0L271.5 182.6L270.7 181.0ZM276.9 129.3L278.5 128.5L279.3 126.9L280.1 128.5L281.7 129.3L280.1 130.1L279.3 131.7L278.5 130.1ZM284.7 141.9L286.3 141.1L287.1 139.5L287.9 141.1L289.5 141.9L287.9 142.7L287.1 144.3L286.3 142.7ZM292.6 102.1L294.2 101.3L295.0 99.7L295.8 101.3L297.4 102.1L295.8 102.9L295.0 104.5L294.2 102.9ZM300.4 105.5L302.0 104.7L302.8 103.1L303.6 104.7L305.2 105.5L303.6 106.3L302.8 107.9L302.0 106.3ZM308.2 79.5L309.8 78.7L310.6 77.1L311.4 78.7L313.0 79.5L311.4 80.3L310.6 81.9L309.8 80.3ZM316.0 75.7L317.6 74.9L318.4 73.3L319.2 74.9L320.8 75.7L319.2 76.5L318.4 78.1L317.6 76.5ZM323.8 80.4L325.4 79.6L326.2 78.0L327.0 79.6L328.6 80.4L327.0 81.2L326.2 82.8L325.4 81.2ZM331.7 51.4L333.3 50.6L334.1 49.0L334.9 50.6L336.5 51.4L334.9 52.2L334.1 53.8L333.3 52.2ZM339.5 44.0L341.1 43.2L341.9 41.6L342.7 43.2L344.3 44.0L342.7 44.8L341.9 46.4L341.1 44.8ZM347.3 48.6L348.9 47.8L349.7 46.2L350.5 47.8L352.1 48.6L350.5 49.4L349.7 51.0L348.9 49.4ZM355.1 44.8L356.7 44.0L357.5 42.4L358.3 44.0L359.9 44.8L358.3 45.6L357.5 47.2L356.7 45.6ZM362.9 39.6L364.5 38.8L365.3 37.2L366.1 38.8L367.7 39.6L366.1 40.4L365.3 42.0L364.5 40.4ZM370.8 39.8L372.4 39.0L373.2 37.4L374.0 39.0L375.6 39.8L374.0 40.6L373.2 42.2L372.4 40.6ZM378.6 26.2L380.2 25.4L381.0 23.8L381.8 25.4L383.4 26.2L381.8 27.0L381.0 28.6L380.2 27.0ZM386.4 30.9L388.0 30.1L388.8 28.5L389.6 30.1L391.2 30.9L389.6 31.7L388.8 33.3L388.0 31.7ZM394.2 26.2L395.8 25.4L396.6 23.8L397.4 25.4L399.0 26.2L397.4 27.0L396.6 28.6L395.8 27.0ZM402.0 26.8L403.6 26.0L404.4 24.4L405.2 26.0L406.8 26.8L405.2 27.6L404.4 29.2L403.6 27.6ZM409.9 24.1L411.5 23.3L412.3 21.7L413.1 23.3L414.7 24.1L413.1 24.9L412.3 26.5L411.5 24.9ZM417.7 24.4L419.3 23.6L420.1 22.0L420.9 23.6L422.5 24.4L420.9 25.2L420.1 26.8L419.3 25.2ZM425.5 15.7L427.1 14.9L427.9 13.3L428.7 14.9L430.3 15.7L428.7 16.5L427.9 18.1L427.1 16.5ZM433.3 18.4L434.9 17.6L435.7 16.0L436.5 17.6L438.1 18.4L436.5 19.2L435.7 20.8L434.9 19.2ZM441.1 15.0L442.7 14.2L443.5 12.6L444.3 14.2L445.9 15.0L444.3 15.8L443.5 17.4L442.7 15.8ZM449.0 16.3L450.6 15.5L451.4 13.9L452.2 15.5L453.8 16.3L452.2 17.1L451.4 18.7L450.6 17.1ZM456.8 16.9L458.4 16.1L459.2 14.5L460.0 16.1L461.6 16.9L460.0 17.7L459.2 19.3L458.4 17.7ZM464.6 15.7L466.2 14.9L467.0 13.3L467.8 14.9L469.4 15.7L467.8 16.5L467.0 18.1L466.2 16.5ZM472.4 15.5L474.0 14.7L474.8 13.1L475.6 14.7L477.2 15.5L475.6 16.3L474.8 17.9L474.0 16.3ZM480.2 14.4L481.8 13.6L482.6 12.0L483.4 13.6L485.0 14.4L483.4 15.2L482.6 16.8L481.8 15.2ZM488.1 14.6L489.7 13.8L490.5 12.2L491.3 13.8L492.9 14.6L491.3 15.4L490.5 17.0L489.7 15.4ZM495.9 14.2L497.5 13.4L498.3 11.8L499.1 13.4L500.7 14.2L499.1 15.0L498.3 16.6L497.5 15.0ZM503.7 14.9L505.3 14.1L506.1 12.5L506.9 14.1L508.5 14.9L506.9 15.7L506.1 17.3L505.3 15.7ZM511.5 14.2L513.1 13.4L513.9 11.8L514.7 13.4L516.3 14.2L514.7 15.0L513.9 16.6L513.1 15.0ZM519.3 13.3L520.9 12.5L521.7 10.9L522.5 12.5L524.1 13.3L522.5 14.1L521.7 15.7L520.9 14.1ZM527.2 13.8L528.8 13.0L529.6 11.4L530.4 13.0L532.0 13.8L530.4 14.6L529.6 16.2L528.8 14.6ZM535.0 13.9L536.6 13.1L537.4 11.5L538.2 13.1L539.8 13.9L538.2 14.7L537.4 16.3L536.6 14.7ZM542.8 13.3L544.4 12.5L545.2 10.9L546.0 12.5L547.6 13.3L546.0 14.1L545.2 15.7L544.4 14.1ZM550.6 13.3L552.2 12.5L553.0 10.9L553.8 12.5L555.4 13.3L553.8 14.1L553.0 15.7L552.2 14.1ZM558.4 13.7L560.0 12.9L560.8 11.3L561.6 12.9L563.2 13.7L561.6 14.5L560.8 16.1L560.0 14.5ZM566.3 13.4L567.9 12.6L568.7 11.0L569.5 12.6L571.1 13.4L569.5 14.2L568.7 15.8L567.9 14.2ZM574.1 13.4L575.7 12.6L576.5 11.0L577.3 12.6L578.9 13.4L577.3 14.2L576.5 15.8L575.7 14.2ZM581.9 13.5L583.5 12.7L584.3 11.1L585.1 12.7L586.7 13.5L585.1 14.3L584.3 15.9L583.5 14.3ZM589.7 13.3L591.3 12.5L592.1 10.9L592.9 12.5L594.5 13.3L592.9 14.1L592.1 15.7L591.3 14.1ZM597.5 13.3L599.1 12.5L599.9 10.9L600.7 12.5L602.3 13.3L600.7 14.1L599.9 15.7L599.1 14.1ZM605.4 13.3L607.0 12.5L607.8 10.9L608.6 12.5L610.2 13.3L608.6 14.1L607.8 15.7L607.0 14.1ZM613.2 13.3L614.8 12.5L615.6 10.9L616.4 12.5L618.0 13.3L616.4 14.1L615.6 15.7L614.8 14.1ZM621.0 13.3L622.6 12.5L623.4 10.9L624.2 12.5L625.8 13.3L624.2 14.1L623.4 15.7L622.6 14.1ZM628.8 13.3L630.4 12.5L631.2 10.9L632.0 12.5L633.6 13.3L632.0 14.1L631.2 15.7L630.4 14.1ZM636.6 13.3L638.2 12.5L639.0 10.9L639.8 12.5L641.4 13.3L639.8 14.1L639.0 15.7L638.2 14.1ZM644.5 13.3L646.1 12.5L646.9 10.9L647.7 12.5L649.3 13.3L647.7 14.1L646.9 15.7L646.1 14.1ZM652.3 13.3L653.9 12.5L654.7 10.9L655.5 12.5L657.1 13.3L655.5 14.1L654.7 15.7L653.9 14.1ZM660.1 13.3L661.7 12.5L662.5 10.9L663.3 12.5L664.9 13.3L663.3 14.1L662.5 15.7L661.7 14.1ZM667.9 13.3L669.5 12.5L670.3 10.9L671.1 12.5L672.7 13.3L671.1 14.1L670.3 15.7L669.5 14.1ZM675.7 13.3L677.3 12.5L678.1 10.9L678.9 12.5L680.5 13.3L678.9 14.1L678.1 15.7L677.3 14.1ZM683.6 13.3L685.2 12.5L686.0 10.9L686.8 12.5L688.4 13.3L686.8 14.1L686.0 15.7L685.2 14.1ZM691.4 13.3L693.0 12.5L693.8 10.9L694.6 12.5L696.2 13.3L694.6 14.1L693.8 15.7L693.0 14.1ZM699.2 13.3L700.8 12.5L701.6 10.9L702.4 12.5L704.0 13.3L702.4 14.1L701.6 15.7L700.8 14.1ZM707.0 13.3L708.6 12.5L709.4 10.9L710.2 12.5L711.8 13.3L710.2 14.1L709.4 15.7L708.6 14.1ZM714.8 13.3L716.4 12.5L717.2 10.9L718.0 12.5L719.6 13.3L718.0 14.1L717.2 15.7L716.4 14.1ZM722.7 13.3L724.3 12.5L725.1 10.9L725.9 12.5L727.5 13.3L725.9 14.1L725.1 15.7L724.3 14.1ZM730.5 13.3L732.1 12.5L732.9 10.9L733.7 12.5L735.3 13.3L733.7 14.1L732.9 15.7L732.1 14.1ZM738.3 13.3L739.9 12.5L740.7 10.9L741.5 12.5L743.1 13.3L741.5 14.1L740.7 15.7L739.9 14.1ZM746.1 13.3L747.7 12.5L748.5 10.9L749.3 12.5L750.9 13.3L749.3 14.1L748.5 15.7L747.7 14.1ZM753.9 13.3L755.5 12.5L756.3 10.9L757.1 12.5L758.7 13.3L757.1 14.1L756.3 15.7L755.5 14.1ZM761.8 13.3L763.4 12.5L764.2 10.9L765.0 12.5L766.6 13.3L765.0 14.1L764.2 15.7L763.4 14.1ZM769.6 13.3L771.2 12.5L772.0 10.9L772.8 12.5L774.4 13.3L772.8 14.1L772.0 15.7L771.2 14.1ZM777.4 13.3L779.0 12.5L779.8 10.9L780.6 12.5L782.2 13.3L780.6 14.1L779.8 15.7L779.0 14.1ZM785.2 13.3L786.8 12.5L787.6 10.9L788.4 12.5L790.0 13.3L788.4 14.1L787.6 15.7L786.8 14.1ZM793.0 13.3L794.6 12.5L795.4 10.9L796.2 12.5L797.8 13.3L796.2 14.1L795.4 15.7L794.6 14.1ZM800.9 13.3L802.5 12.5L803.3 10.9L804.1 12.5L805.7 13.3L804.1 14.1L803.3 15.7L802.5 14.1ZM808.7 13.3L810.3 12.5L811.1 10.9L811.9 12.5L813.5 13.3L811.9 14.1L811.1 15.7L810.3 14.1ZM816.5 13.3L818.1 12.5L818.9 10.9L819.7 12.5L821.3 13.3L819.7 14.1L818.9 15.7L818.1 14.1ZM824.3 13.3L825.9 12.5L826.7 10.9L827.5 12.5L829.1 13.3L827.5 14.1L826.7 15.7L825.9 14.1ZM832.1 13.3L833.7 12.5L834.5 10.9L835.3 12.5L836.9 13.3L835.3 14.1L834.5 15.7L833.7 14.1ZM840.0 13.3L841.6 12.5L842.4 10.9L843.2 12.5L844.8 13.3L843.2 14.1L842.4 15.7L841.6 14.1ZM847.8 13.3L849.4 12.5L850.2 10.9L851.0 12.5L852.6 13.3L851.0 14.1L850.2 15.7L849.4 14.1ZM855.6 13.3L857.2 12.5L858.0 10.9L858.8 12.5L860.4 13.3L858.8 14.1L858.0 15.7L857.2 14.1ZM73.6 529.5L75.2 528.7L76.0 527.1L76.8 528.7L78.4 529.5L76.8 530.3L76.0 531.9L75.2 530.3ZM81.4 529.2L83.0 528.4L83.8 526.8L84.6 528.4L86.2 529.2L84.6 530.0L83.8 531.6L83.0 530.0ZM89.2 527.5L90.8 526.7L91.6 525.1L92.4 526.7L94.0 527.5L92.4 528.3L91.6 529.9L90.8 528.3ZM97.1 526.0L98.7 525.2L99.5 523.6L100.3 525.2L101.9 526.0L100.3 526.8L99.5 528.4L98.7 526.8ZM104.9 528.6L106.5 527.8L107.3 526.2L108.1 527.8L109.7 528.6L108.1 529.4L107.3 531.0L106.5 529.4ZM112.7 528.2L114.3 527.4L115.1 525.8L115.9 527.4L117.5 528.2L115.9 529.0L115.1 530.6L114.3 529.0ZM120.5 517.8L122.1 517.0L122.9 515.4L123.7 517.0L125.3 517.8L123.7 518.6L122.9 520.2L122.1 518.6ZM128.3 521.5L129.9 520.7L130.7 519.1L131.5 520.7L133.1 521.5L131.5 522.3L130.7 523.9L129.9 522.3ZM136.2 514.7L137.8 513.9L138.6 512.3L139.4 513.9L141.0 514.7L139.4 515.5L138.6 517.1L137.8 515.5ZM144.0 507.5L145.6 506.7L146.4 505.1L147.2 506.7L148.8 507.5L147.2 508.3L146.4 509.9L145.6 508.3ZM151.8 516.7L153.4 515.9L154.2 514.3L155.0 515.9L156.6 516.7L155.0 517.5L154.2 519.1L153.4 517.5ZM159.6 516.4L161.2 515.6L162.0 514.0L162.8 515.6L164.4 516.4L162.8 517.2L162.0 518.8L161.2 517.2ZM167.4 499.5L169.0 498.7L169.8 497.1L170.6 498.7L172.2 499.5L170.6 500.3L169.8 501.9L169.0 500.3ZM175.3 496.6L176.9 495.8L177.7 494.2L178.5 495.8L180.1 496.6L178.5 497.4L177.7 499.0L176.9 497.4ZM183.1 494.1L184.7 493.3L185.5 491.7L186.3 493.3L187.9 494.1L186.3 494.9L185.5 496.5L184.7 494.9ZM190.9 487.3L192.5 486.5L193.3 484.9L194.1 486.5L195.7 487.3L194.1 488.1L193.3 489.7L192.5 488.1ZM198.7 488.7L200.3 487.9L201.1 486.3L201.9 487.9L203.5 488.7L201.9 489.5L201.1 491.1L200.3 489.5ZM206.5 488.4L208.1 487.6L208.9 486.0L209.7 487.6L211.3 488.4L209.7 489.2L208.9 490.8L208.1 489.2ZM214.4 471.8L216.0 471.0L216.8 469.4L217.6 471.0L219.2 471.8L217.6 472.6L216.8 474.2L216.0 472.6ZM222.2 472.1L223.8 471.3L224.6 469.7L225.4 471.3L227.0 472.1L225.4 472.9L224.6 474.5L223.8 472.9ZM230.0 471.3L231.6 470.5L232.4 468.9L233.2 470.5L234.8 471.3L233.2 472.1L232.4 473.7L231.6 472.1ZM237.8 444.1L239.4 443.3L240.2 441.7L241.0 443.3L242.6 444.1L241.0 444.9L240.2 446.5L239.4 444.9ZM245.6 441.3L247.2 440.5L248.0 438.9L248.8 440.5L250.4 441.3L248.8 442.1L248.0 443.7L247.2 442.1ZM253.5 428.0L255.1 427.2L255.9 425.6L256.7 427.2L258.3 428.0L256.7 428.8L255.9 430.4L255.1 428.8ZM261.3 433.3L262.9 432.5L263.7 430.9L264.5 432.5L266.1 433.3L264.5 434.1L263.7 435.7L262.9 434.1ZM269.1 420.5L270.7 419.7L271.5 418.1L272.3 419.7L273.9 420.5L272.3 421.3L271.5 422.9L270.7 421.3ZM276.9 414.6L278.5 413.8L279.3 412.2L280.1 413.8L281.7 414.6L280.1 415.4L279.3 417.0L278.5 415.4ZM284.7 403.3L286.3 402.5L287.1 400.9L287.9 402.5L289.5 403.3L287.9 404.1L287.1 405.7L286.3 404.1ZM292.6 380.2L294.2 379.4L295.0 377.8L295.8 379.4L297.4 380.2L295.8 381.0L295.0 382.6L294.2 381.0ZM300.4 380.9L302.0 380.1L302.8 378.5L303.6 380.1L305.2 380.9L303.6 381.7L302.8 383.3L302.0 381.7ZM308.2 356.0L309.8 355.2L310.6 353.6L311.4 355.2L313.0 356.0L311.4 356.8L310.6 358.4L309.8 356.8ZM316.0 344.7L317.6 343.9L318.4 342.3L319.2 343.9L320.8 344.7L319.2 345.5L318.4 347.1L317.6 345.5ZM323.8 312.1L325.4 311.3L326.2 309.7L327.0 311.3L328.6 312.1L327.0 312.9L326.2 314.5L325.4 312.9ZM331.7 343.3L333.3 342.5L334.1 340.9L334.9 342.5L336.5 343.3L334.9 344.1L334.1 345.7L333.3 344.1ZM339.5 302.7L341.1 301.9L341.9 300.3L342.7 301.9L344.3 302.7L342.7 303.5L341.9 305.1L341.1 303.5ZM347.3 303.5L348.9 302.7L349.7 301.1L350.5 302.7L352.1 303.5L350.5 304.3L349.7 305.9L348.9 304.3ZM355.1 290.9L356.7 290.1L357.5 288.5L358.3 290.1L359.9 290.9L358.3 291.7L357.5 293.3L356.7 291.7ZM362.9 297.9L364.5 297.1L365.3 295.5L366.1 297.1L367.7 297.9L366.1 298.7L365.3 300.3L364.5 298.7ZM370.8 273.7L372.4 272.9L373.2 271.3L374.0 272.9L375.6 273.7L374.0 274.5L373.2 276.1L372.4 274.5ZM378.6 247.0L380.2 246.2L381.0 244.6L381.8 246.2L383.4 247.0L381.8 247.8L381.0 249.4L380.2 247.8ZM386.4 246.7L388.0 245.9L388.8 244.3L389.6 245.9L391.2 246.7L389.6 247.5L388.8 249.1L388.0 247.5ZM394.2 233.8L395.8 233.0L396.6 231.4L397.4 233.0L399.0 233.8L397.4 234.6L396.6 236.2L395.8 234.6ZM402.0 228.1L403.6 227.3L404.4 225.7L405.2 227.3L406.8 228.1L405.2 228.9L404.4 230.5L403.6 228.9ZM409.9 199.7L411.5 198.9L412.3 197.3L413.1 198.9L414.7 199.7L413.1 200.5L412.3 202.1L411.5 200.5ZM417.7 204.7L419.3 203.9L420.1 202.3L420.9 203.9L422.5 204.7L420.9 205.5L420.1 207.1L419.3 205.5ZM425.5 222.0L427.1 221.2L427.9 219.6L428.7 221.2L430.3 222.0L428.7 222.8L427.9 224.4L427.1 222.8ZM433.3 194.1L434.9 193.3L435.7 191.7L436.5 193.3L438.1 194.1L436.5 194.9L435.7 196.5L434.9 194.9ZM441.1 200.5L442.7 199.7L443.5 198.1L444.3 199.7L445.9 200.5L444.3 201.3L443.5 202.9L442.7 201.3ZM449.0 206.8L450.6 206.0L451.4 204.4L452.2 206.0L453.8 206.8L452.2 207.6L451.4 209.2L450.6 207.6ZM456.8 166.4L458.4 165.6L459.2 164.0L460.0 165.6L461.6 166.4L460.0 167.2L459.2 168.8L458.4 167.2ZM464.6 137.1L466.2 136.3L467.0 134.7L467.8 136.3L469.4 137.1L467.8 137.9L467.0 139.5L466.2 137.9ZM472.4 144.4L474.0 143.6L474.8 142.0L475.6 143.6L477.2 144.4L475.6 145.2L474.8 146.8L474.0 145.2ZM480.2 150.8L481.8 150.0L482.6 148.4L483.4 150.0L485.0 150.8L483.4 151.6L482.6 153.2L481.8 151.6ZM488.1 141.2L489.7 140.4L490.5 138.8L491.3 140.4L492.9 141.2L491.3 142.0L490.5 143.6L489.7 142.0ZM495.9 112.5L497.5 111.7L498.3 110.1L499.1 111.7L500.7 112.5L499.1 113.3L498.3 114.9L497.5 113.3ZM503.7 116.7L505.3 115.9L506.1 114.3L506.9 115.9L508.5 116.7L506.9 117.5L506.1 119.1L505.3 117.5ZM511.5 112.0L513.1 111.2L513.9 109.6L514.7 111.2L516.3 112.0L514.7 112.8L513.9 114.4L513.1 112.8ZM519.3 107.4L520.9 106.6L521.7 105.0L522.5 106.6L524.1 107.4L522.5 108.2L521.7 109.8L520.9 108.2ZM527.2 101.2L528.8 100.4L529.6 98.8L530.4 100.4L532.0 101.2L530.4 102.0L529.6 103.6L528.8 102.0ZM535.0 88.9L536.6 88.1L537.4 86.5L538.2 88.1L539.8 88.9L538.2 89.7L537.4 91.3L536.6 89.7ZM542.8 86.7L544.4 85.9L545.2 84.3L546.0 85.9L547.6 86.7L546.0 87.5L545.2 89.1L544.4 87.5ZM550.6 85.3L552.2 84.5L553.0 82.9L553.8 84.5L555.4 85.3L553.8 86.1L553.0 87.7L552.2 86.1ZM558.4 92.1L560.0 91.3L560.8 89.7L561.6 91.3L563.2 92.1L561.6 92.9L560.8 94.5L560.0 92.9ZM566.3 74.4L567.9 73.6L568.7 72.0L569.5 73.6L571.1 74.4L569.5 75.2L568.7 76.8L567.9 75.2ZM574.1 80.7L575.7 79.9L576.5 78.3L577.3 79.9L578.9 80.7L577.3 81.5L576.5 83.1L575.7 81.5ZM581.9 62.3L583.5 61.5L584.3 59.9L585.1 61.5L586.7 62.3L585.1 63.1L584.3 64.7L583.5 63.1ZM589.7 77.8L591.3 77.0L592.1 75.4L592.9 77.0L594.5 77.8L592.9 78.6L592.1 80.2L591.3 78.6ZM597.5 65.5L599.1 64.7L599.9 63.1L600.7 64.7L602.3 65.5L600.7 66.3L599.9 67.9L599.1 66.3ZM605.4 61.3L607.0 60.5L607.8 58.9L608.6 60.5L610.2 61.3L608.6 62.1L607.8 63.7L607.0 62.1ZM613.2 67.9L614.8 67.1L615.6 65.5L616.4 67.1L618.0 67.9L616.4 68.7L615.6 70.3L614.8 68.7ZM621.0 43.3L622.6 42.5L623.4 40.9L624.2 42.5L625.8 43.3L624.2 44.1L623.4 45.7L622.6 44.1ZM628.8 42.7L630.4 41.9L631.2 40.3L632.0 41.9L633.6 42.7L632.0 43.5L631.2 45.1L630.4 43.5ZM636.6 53.2L638.2 52.4L639.0 50.8L639.8 52.4L641.4 53.2L639.8 54.0L639.0 55.6L638.2 54.0ZM644.5 42.8L646.1 42.0L646.9 40.4L647.7 42.0L649.3 42.8L647.7 43.6L646.9 45.2L646.1 43.6ZM652.3 43.0L653.9 42.2L654.7 40.6L655.5 42.2L657.1 43.0L655.5 43.8L654.7 45.4L653.9 43.8ZM660.1 59.0L661.7 58.2L662.5 56.6L663.3 58.2L664.9 59.0L663.3 59.8L662.5 61.4L661.7 59.8ZM667.9 39.6L669.5 38.8L670.3 37.2L671.1 38.8L672.7 39.6L671.1 40.4L670.3 42.0L669.5 40.4ZM675.7 39.4L677.3 38.6L678.1 37.0L678.9 38.6L680.5 39.4L678.9 40.2L678.1 41.8L677.3 40.2ZM683.6 36.7L685.2 35.9L686.0 34.3L686.8 35.9L688.4 36.7L686.8 37.5L686.0 39.1L685.2 37.5ZM691.4 41.0L693.0 40.2L693.8 38.6L694.6 40.2L696.2 41.0L694.6 41.8L693.8 43.4L693.0 41.8ZM699.2 35.0L700.8 34.2L701.6 32.6L702.4 34.2L704.0 35.0L702.4 35.8L701.6 37.4L700.8 35.8ZM707.0 32.9L708.6 32.1L709.4 30.5L710.2 32.1L711.8 32.9L710.2 33.7L709.4 35.3L708.6 33.7ZM714.8 25.0L716.4 24.2L717.2 22.6L718.0 24.2L719.6 25.0L718.0 25.8L717.2 27.4L716.4 25.8ZM722.7 27.5L724.3 26.7L725.1 25.1L725.9 26.7L727.5 27.5L725.9 28.3L725.1 29.9L724.3 28.3ZM730.5 27.6L732.1 26.8L732.9 25.2L733.7 26.8L735.3 27.6L733.7 28.4L732.9 30.0L732.1 28.4ZM738.3 20.1L739.9 19.3L740.7 17.7L741.5 19.3L743.1 20.1L741.5 20.9L740.7 22.5L739.9 20.9ZM746.1 27.1L747.7 26.3L748.5 24.7L749.3 26.3L750.9 27.1L749.3 27.9L748.5 29.5L747.7 27.9ZM753.9 25.2L755.5 24.4L756.3 22.8L757.1 24.4L758.7 25.2L757.1 26.0L756.3 27.6L755.5 26.0ZM761.8 28.8L763.4 28.0L764.2 26.4L765.0 28.0L766.6 28.8L765.0 29.6L764.2 31.2L763.4 29.6ZM769.6 16.4L771.2 15.6L772.0 14.0L772.8 15.6L774.4 16.4L772.8 17.2L772.0 18.8L771.2 17.2ZM777.4 17.6L779.0 16.8L779.8 15.2L780.6 16.8L782.2 17.6L780.6 18.4L779.8 20.0L779.0 18.4ZM785.2 16.9L786.8 16.1L787.6 14.5L788.4 16.1L790.0 16.9L788.4 17.7L787.6 19.3L786.8 17.7ZM793.0 16.8L794.6 16.0L795.4 14.4L796.2 16.0L797.8 16.8L796.2 17.6L795.4 19.2L794.6 17.6ZM800.9 17.5L802.5 16.7L803.3 15.1L804.1 16.7L805.7 17.5L804.1 18.3L803.3 19.9L802.5 18.3ZM808.7 16.5L810.3 15.7L811.1 14.1L811.9 15.7L813.5 16.5L811.9 17.3L811.1 18.9L810.3 17.3ZM816.5 16.7L818.1 15.9L818.9 14.3L819.7 15.9L821.3 16.7L819.7 17.5L818.9 19.1L818.1 17.5ZM824.3 15.8L825.9 15.0L826.7 13.4L827.5 15.0L829.1 15.8L827.5 16.6L826.7 18.2L825.9 16.6ZM832.1 14.8L833.7 14.0L834.5 12.4L835.3 14.0L836.9 14.8L835.3 15.6L834.5 17.2L833.7 15.6ZM840.0 13.3L841.6 12.5L842.4 10.9L843.2 12.5L844.8 13.3L843.2 14.1L842.4 15.7L841.6 14.1ZM847.8 13.4L849.4 12.6L850.2 11.0L851.0 12.6L852.6 13.4L851.0 14.2L850.2 15.8L849.4 14.2ZM855.6 13.5L857.2 12.7L858.0 11.1L858.8 12.7L860.4 13.5L858.8 14.3L858.0 15.9L857.2 14.3ZM73.6 529.5L75.2 528.7L76.0 527.1L76.8 528.7L78.4 529.5L76.8 530.3L76.0 531.9L75.2 530.3ZM81.4 529.5L83.0 528.7L83.8 527.1L84.6 528.7L86.2 529.5L84.6 530.3L83.8 531.9L83.0 530.3ZM89.2 526.9L90.8 526.1L91.6 524.5L92.4 526.1L94.0 526.9L92.4 527.7L91.6 529.3L90.8 527.7ZM97.1 527.5L98.7 526.7L99.5 525.1L100.3 526.7L101.9 527.5L100.3 528.3L99.5 529.9L98.7 528.3ZM104.9 527.6L106.5 526.8L107.3 525.2L108.1 526.8L109.7 527.6L108.1 528.4L107.3 530.0L106.5 528.4ZM112.7 527.9L114.3 527.1L115.1 525.5L115.9 527.1L117.5 527.9L115.9 528.7L115.1 530.3L114.3 528.7ZM120.5 528.9L122.1 528.1L122.9 526.5L123.7 528.1L125.3 528.9L123.7 529.7L122.9 531.3L122.1 529.7ZM128.3 526.5L129.9 525.7L130.7 524.1L131.5 525.7L133.1 526.5L131.5 527.3L130.7 528.9L129.9 527.3ZM136.2 524.1L137.8 523.3L138.6 521.7L139.4 523.3L141.0 524.1L139.4 524.9L138.6 526.5L137.8 524.9ZM144.0 526.4L145.6 525.6L146.4 524.0L147.2 525.6L148.8 526.4L147.2 527.2L146.4 528.8L145.6 527.2ZM151.8 525.5L153.4 524.7L154.2 523.1L155.0 524.7L156.6 525.5L155.0 526.3L154.2 527.9L153.4 526.3ZM159.6 524.9L161.2 524.1L162.0 522.5L162.8 524.1L164.4 524.9L162.8 525.7L162.0 527.3L161.2 525.7ZM167.4 523.2L169.0 522.4L169.8 520.8L170.6 522.4L172.2 523.2L170.6 524.0L169.8 525.6L169.0 524.0ZM175.3 527.3L176.9 526.5L177.7 524.9L178.5 526.5L180.1 527.3L178.5 528.1L177.7 529.7L176.9 528.1ZM183.1 522.2L184.7 521.4L185.5 519.8L186.3 521.4L187.9 522.2L186.3 523.0L185.5 524.6L184.7 523.0ZM190.9 523.2L192.5 522.4L193.3 520.8L194.1 522.4L195.7 523.2L194.1 524.0L193.3 525.6L192.5 524.0ZM198.7 515.6L200.3 514.8L201.1 513.2L201.9 514.8L203.5 515.6L201.9 516.4L201.1 518.0L200.3 516.4ZM206.5 520.3L208.1 519.5L208.9 517.9L209.7 519.5L211.3 520.3L209.7 521.1L208.9 522.7L208.1 521.1ZM214.4 513.2L216.0 512.4L216.8 510.8L217.6 512.4L219.2 513.2L217.6 514.0L216.8 515.6L216.0 514.0ZM222.2 507.0L223.8 506.2L224.6 504.6L225.4 506.2L227.0 507.0L225.4 507.8L224.6 509.4L223.8 507.8ZM230.0 513.1L231.6 512.3L232.4 510.7L233.2 512.3L234.8 513.1L233.2 513.9L232.4 515.5L231.6 513.9ZM237.8 512.4L239.4 511.6L240.2 510.0L241.0 511.6L242.6 512.4L241.0 513.2L240.2 514.8L239.4 513.2ZM245.6 506.0L247.2 505.2L248.0 503.6L248.8 505.2L250.4 506.0L248.8 506.8L248.0 508.4L247.2 506.8ZM253.5 504.4L255.1 503.6L255.9 502.0L256.7 503.6L258.3 504.4L256.7 505.2L255.9 506.8L255.1 505.2ZM261.3 507.3L262.9 506.5L263.7 504.9L264.5 506.5L266.1 507.3L264.5 508.1L263.7 509.7L262.9 508.1ZM269.1 495.7L270.7 494.9L271.5 493.3L272.3 494.9L273.9 495.7L272.3 496.5L271.5 498.1L270.7 496.5ZM276.9 482.4L278.5 481.6L279.3 480.0L280.1 481.6L281.7 482.4L280.1 483.2L279.3 484.8L278.5 483.2ZM284.7 493.6L286.3 492.8L287.1 491.2L287.9 492.8L289.5 493.6L287.9 494.4L287.1 496.0L286.3 494.4ZM292.6 489.7L294.2 488.9L295.0 487.3L295.8 488.9L297.4 489.7L295.8 490.5L295.0 492.1L294.2 490.5ZM300.4 492.1L302.0 491.3L302.8 489.7L303.6 491.3L305.2 492.1L303.6 492.9L302.8 494.5L302.0 492.9ZM308.2 478.1L309.8 477.3L310.6 475.7L311.4 477.3L313.0 478.1L311.4 478.9L310.6 480.5L309.8 478.9ZM316.0 486.1L317.6 485.3L318.4 483.7L319.2 485.3L320.8 486.1L319.2 486.9L318.4 488.5L317.6 486.9ZM323.8 481.0L325.4 480.2L326.2 478.6L327.0 480.2L328.6 481.0L327.0 481.8L326.2 483.4L325.4 481.8ZM331.7 456.7L333.3 455.9L334.1 454.3L334.9 455.9L336.5 456.7L334.9 457.5L334.1 459.1L333.3 457.5ZM339.5 470.7L341.1 469.9L341.9 468.3L342.7 469.9L344.3 470.7L342.7 471.5L341.9 473.1L341.1 471.5ZM347.3 448.4L348.9 447.6L349.7 446.0L350.5 447.6L352.1 448.4L350.5 449.2L349.7 450.8L348.9 449.2ZM355.1 439.1L356.7 438.3L357.5 436.7L358.3 438.3L359.9 439.1L358.3 439.9L357.5 441.5L356.7 439.9ZM362.9 445.5L364.5 444.7L365.3 443.1L366.1 444.7L367.7 445.5L366.1 446.3L365.3 447.9L364.5 446.3ZM370.8 437.4L372.4 436.6L373.2 435.0L374.0 436.6L375.6 437.4L374.0 438.2L373.2 439.8L372.4 438.2ZM378.6 418.1L380.2 417.3L381.0 415.7L381.8 417.3L383.4 418.1L381.8 418.9L381.0 420.5L380.2 418.9ZM386.4 433.9L388.0 433.1L388.8 431.5L389.6 433.1L391.2 433.9L389.6 434.7L388.8 436.3L388.0 434.7ZM394.2 432.5L395.8 431.7L396.6 430.1L397.4 431.7L399.0 432.5L397.4 433.3L396.6 434.9L395.8 433.3ZM402.0 435.0L403.6 434.2L404.4 432.6L405.2 434.2L406.8 435.0L405.2 435.8L404.4 437.4L403.6 435.8ZM409.9 414.7L411.5 413.9L412.3 412.3L413.1 413.9L414.7 414.7L413.1 415.5L412.3 417.1L411.5 415.5ZM417.7 393.3L419.3 392.5L420.1 390.9L420.9 392.5L422.5 393.3L420.9 394.1L420.1 395.7L419.3 394.1ZM425.5 393.0L427.1 392.2L427.9 390.6L428.7 392.2L430.3 393.0L428.7 393.8L427.9 395.4L427.1 393.8ZM433.3 408.4L434.9 407.6L435.7 406.0L436.5 407.6L438.1 408.4L436.5 409.2L435.7 410.8L434.9 409.2ZM441.1 401.7L442.7 400.9L443.5 399.3L444.3 400.9L445.9 401.7L444.3 402.5L443.5 404.1L442.7 402.5ZM449.0 392.0L450.6 391.2L451.4 389.6L452.2 391.2L453.8 392.0L452.2 392.8L451.4 394.4L450.6 392.8ZM456.8 376.8L458.4 376.0L459.2 374.4L460.0 376.0L461.6 376.8L460.0 377.6L459.2 379.2L458.4 377.6ZM464.6 376.8L466.2 376.0L467.0 374.4L467.8 376.0L469.4 376.8L467.8 377.6L467.0 379.2L466.2 377.6ZM472.4 366.0L474.0 365.2L474.8 363.6L475.6 365.2L477.2 366.0L475.6 366.8L474.8 368.4L474.0 366.8ZM480.2 359.2L481.8 358.4L482.6 356.8L483.4 358.4L485.0 359.2L483.4 360.0L482.6 361.6L481.8 360.0ZM488.1 360.6L489.7 359.8L490.5 358.2L491.3 359.8L492.9 360.6L491.3 361.4L490.5 363.0L489.7 361.4ZM495.9 351.7L497.5 350.9L498.3 349.3L499.1 350.9L500.7 351.7L499.1 352.5L498.3 354.1L497.5 352.5ZM503.7 343.0L505.3 342.2L506.1 340.6L506.9 342.2L508.5 343.0L506.9 343.8L506.1 345.4L505.3 343.8ZM511.5 340.9L513.1 340.1L513.9 338.5L514.7 340.1L516.3 340.9L514.7 341.7L513.9 343.3L513.1 341.7ZM519.3 328.0L520.9 327.2L521.7 325.6L522.5 327.2L524.1 328.0L522.5 328.8L521.7 330.4L520.9 328.8ZM527.2 305.2L528.8 304.4L529.6 302.8L530.4 304.4L532.0 305.2L530.4 306.0L529.6 307.6L528.8 306.0ZM535.0 315.8L536.6 315.0L537.4 313.4L538.2 315.0L539.8 315.8L538.2 316.6L537.4 318.2L536.6 316.6ZM542.8 317.2L544.4 316.4L545.2 314.8L546.0 316.4L547.6 317.2L546.0 318.0L545.2 319.6L544.4 318.0ZM550.6 334.0L552.2 333.2L553.0 331.6L553.8 333.2L555.4 334.0L553.8 334.8L553.0 336.4L552.2 334.8ZM558.4 302.4L560.0 301.6L560.8 300.0L561.6 301.6L563.2 302.4L561.6 303.2L560.8 304.8L560.0 303.2ZM566.3 327.1L567.9 326.3L568.7 324.7L569.5 326.3L571.1 327.1L569.5 327.9L568.7 329.5L567.9 327.9ZM574.1 315.2L575.7 314.4L576.5 312.8L577.3 314.4L578.9 315.2L577.3 316.0L576.5 317.6L575.7 316.0ZM581.9 281.1L583.5 280.3L584.3 278.7L585.1 280.3L586.7 281.1L585.1 281.9L584.3 283.5L583.5 281.9ZM589.7 278.1L591.3 277.3L592.1 275.7L592.9 277.3L594.5 278.1L592.9 278.9L592.1 280.5L591.3 278.9ZM597.5 284.3L599.1 283.5L599.9 281.9L600.7 283.5L602.3 284.3L600.7 285.1L599.9 286.7L599.1 285.1ZM605.4 299.7L607.0 298.9L607.8 297.3L608.6 298.9L610.2 299.7L608.6 300.5L607.8 302.1L607.0 300.5ZM613.2 277.8L614.8 277.0L615.6 275.4L616.4 277.0L618.0 277.8L616.4 278.6L615.6 280.2L614.8 278.6ZM621.0 277.2L622.6 276.4L623.4 274.8L624.2 276.4L625.8 277.2L624.2 278.0L623.4 279.6L622.6 278.0ZM628.8 255.8L630.4 255.0L631.2 253.4L632.0 255.0L633.6 255.8L632.0 256.6L631.2 258.2L630.4 256.6ZM636.6 230.5L638.2 229.7L639.0 228.1L639.8 229.7L641.4 230.5L639.8 231.3L639.0 232.9L638.2 231.3ZM644.5 252.6L646.1 251.8L646.9 250.2L647.7 251.8L649.3 252.6L647.7 253.4L646.9 255.0L646.1 253.4ZM652.3 261.2L653.9 260.4L654.7 258.8L655.5 260.4L657.1 261.2L655.5 262.0L654.7 263.6L653.9 262.0ZM660.1 262.1L661.7 261.3L662.5 259.7L663.3 261.3L664.9 262.1L663.3 262.9L662.5 264.5L661.7 262.9ZM667.9 243.8L669.5 243.0L670.3 241.4L671.1 243.0L672.7 243.8L671.1 244.6L670.3 246.2L669.5 244.6ZM675.7 241.5L677.3 240.7L678.1 239.1L678.9 240.7L680.5 241.5L678.9 242.3L678.1 243.9L677.3 242.3ZM683.6 250.1L685.2 249.3L686.0 247.7L686.8 249.3L688.4 250.1L686.8 250.9L686.0 252.5L685.2 250.9ZM691.4 230.2L693.0 229.4L693.8 227.8L694.6 229.4L696.2 230.2L694.6 231.0L693.8 232.6L693.0 231.0ZM699.2 242.6L700.8 241.8L701.6 240.2L702.4 241.8L704.0 242.6L702.4 243.4L701.6 245.0L700.8 243.4ZM707.0 210.3L708.6 209.5L709.4 207.9L710.2 209.5L711.8 210.3L710.2 211.1L709.4 212.7L708.6 211.1ZM714.8 207.5L716.4 206.7L717.2 205.1L718.0 206.7L719.6 207.5L718.0 208.3L717.2 209.9L716.4 208.3ZM722.7 203.8L724.3 203.0L725.1 201.4L725.9 203.0L727.5 203.8L725.9 204.6L725.1 206.2L724.3 204.6ZM730.5 220.2L732.1 219.4L732.9 217.8L733.7 219.4L735.3 220.2L733.7 221.0L732.9 222.6L732.1 221.0ZM738.3 204.5L739.9 203.7L740.7 202.1L741.5 203.7L743.1 204.5L741.5 205.3L740.7 206.9L739.9 205.3ZM746.1 209.4L747.7 208.6L748.5 207.0L749.3 208.6L750.9 209.4L749.3 210.2L748.5 211.8L747.7 210.2ZM753.9 209.5L755.5 208.7L756.3 207.1L757.1 208.7L758.7 209.5L757.1 210.3L756.3 211.9L755.5 210.3ZM761.8 205.9L763.4 205.1L764.2 203.5L765.0 205.1L766.6 205.9L765.0 206.7L764.2 208.3L763.4 206.7ZM769.6 214.8L771.2 214.0L772.0 212.4L772.8 214.0L774.4 214.8L772.8 215.6L772.0 217.2L771.2 215.6ZM777.4 213.6L779.0 212.8L779.8 211.2L780.6 212.8L782.2 213.6L780.6 214.4L779.8 216.0L779.0 214.4ZM785.2 183.2L786.8 182.4L787.6 180.8L788.4 182.4L790.0 183.2L788.4 184.0L787.6 185.6L786.8 184.0ZM793.0 192.5L794.6 191.7L795.4 190.1L796.2 191.7L797.8 192.5L796.2 193.3L795.4 194.9L794.6 193.3ZM800.9 184.8L802.5 184.0L803.3 182.4L804.1 184.0L805.7 184.8L804.1 185.6L803.3 187.2L802.5 185.6ZM808.7 172.6L810.3 171.8L811.1 170.2L811.9 171.8L813.5 172.6L811.9 173.4L811.1 175.0L810.3 173.4ZM816.5 203.2L818.1 202.4L818.9 200.8L819.7 202.4L821.3 203.2L819.7 204.0L818.9 205.6L818.1 204.0ZM824.3 189.0L825.9 188.2L826.7 186.6L827.5 188.2L829.1 189.0L827.5 189.8L826.7 191.4L825.9 189.8ZM832.1 174.9L833.7 174.1L834.5 172.5L835.3 174.1L836.9 174.9L835.3 175.7L834.5 177.3L833.7 175.7ZM840.0 169.8L841.6 169.0L842.4 167.4L843.2 169.0L844.8 169.8L843.2 170.6L842.4 172.2L841.6 170.6ZM847.8 176.4L849.4 175.6L850.2 174.0L851.0 175.6L852.6 176.4L851.0 177.2L850.2 178.8L849.4 177.2ZM855.6 156.9L857.2 156.1L858.0 154.5L858.8 156.1L860.4 156.9L858.8 157.7L858.0 159.3L857.2 157.7ZM73.6 529.5L75.2 528.7L76.0 527.1L76.8 528.7L78.4 529.5L76.8 530.3L76.0 531.9L75.2 530.3ZM81.4 529.5L83.0 528.7L83.8 527.1L84.6 528.7L86.2 529.5L84.6 530.3L83.8 531.9L83.0 530.3ZM89.2 529.5L90.8 528.7L91.6 527.1L92.4 528.7L94.0 529.5L92.4 530.3L91.6 531.9L90.8 530.3ZM97.1 529.3L98.7 528.5L99.5 526.9L100.3 528.5L101.9 529.3L100.3 530.1L99.5 531.7L98.7 530.1ZM104.9 529.3L106.5 528.5L107.3 526.9L108.1 528.5L109.7 529.3L108.1 530.1L107.3 531.7L106.5 530.1ZM112.7 529.5L114.3 528.7L115.1 527.1L115.9 528.7L117.5 529.5L115.9 530.3L115.1 531.9L114.3 530.3ZM120.5 528.6L122.1 527.8L122.9 526.2L123.7 527.8L125.3 528.6L123.7 529.4L122.9 531.0L122.1 529.4ZM128.3 528.8L129.9 528.0L130.7 526.4L131.5 528.0L133.1 528.8L131.5 529.6L130.7 531.2L129.9 529.6ZM136.2 528.0L137.8 527.2L138.6 525.6L139.4 527.2L141.0 528.0L139.4 528.8L138.6 530.4L137.8 528.8ZM144.0 529.2L145.6 528.4L146.4 526.8L147.2 528.4L148.8 529.2L147.2 530.0L146.4 531.6L145.6 530.0ZM151.8 528.9L153.4 528.1L154.2 526.5L155.0 528.1L156.6 528.9L155.0 529.7L154.2 531.3L153.4 529.7ZM159.6 529.5L161.2 528.7L162.0 527.1L162.8 528.7L164.4 529.5L162.8 530.3L162.0 531.9L161.2 530.3ZM167.4 524.4L169.0 523.6L169.8 522.0L170.6 523.6L172.2 524.4L170.6 525.2L169.8 526.8L169.0 525.2ZM175.3 527.9L176.9 527.1L177.7 525.5L178.5 527.1L180.1 527.9L178.5 528.7L177.7 530.3L176.9 528.7ZM183.1 524.4L184.7 523.6L185.5 522.0L186.3 523.6L187.9 524.4L186.3 525.2L185.5 526.8L184.7 525.2ZM190.9 527.9L192.5 527.1L193.3 525.5L194.1 527.1L195.7 527.9L194.1 528.7L193.3 530.3L192.5 528.7ZM198.7 525.7L200.3 524.9L201.1 523.3L201.9 524.9L203.5 525.7L201.9 526.5L201.1 528.1L200.3 526.5ZM206.5 529.2L208.1 528.4L208.9 526.8L209.7 528.4L211.3 529.2L209.7 530.0L208.9 531.6L208.1 530.0ZM214.4 525.6L216.0 524.8L216.8 523.2L217.6 524.8L219.2 525.6L217.6 526.4L216.8 528.0L216.0 526.4ZM222.2 521.4L223.8 520.6L224.6 519.0L225.4 520.6L227.0 521.4L225.4 522.2L224.6 523.8L223.8 522.2ZM230.0 526.8L231.6 526.0L232.4 524.4L233.2 526.0L234.8 526.8L233.2 527.6L232.4 529.2L231.6 527.6ZM237.8 519.3L239.4 518.5L240.2 516.9L241.0 518.5L242.6 519.3L241.0 520.1L240.2 521.7L239.4 520.1ZM245.6 520.6L247.2 519.8L248.0 518.2L248.8 519.8L250.4 520.6L248.8 521.4L248.0 523.0L247.2 521.4ZM253.5 524.3L255.1 523.5L255.9 521.9L256.7 523.5L258.3 524.3L256.7 525.1L255.9 526.7L255.1 525.1ZM261.3 521.8L262.9 521.0L263.7 519.4L264.5 521.0L266.1 521.8L264.5 522.6L263.7 524.2L262.9 522.6ZM269.1 520.8L270.7 520.0L271.5 518.4L272.3 520.0L273.9 520.8L272.3 521.6L271.5 523.2L270.7 521.6ZM276.9 518.5L278.5 517.7L279.3 516.1L280.1 517.7L281.7 518.5L280.1 519.3L279.3 520.9L278.5 519.3ZM284.7 519.5L286.3 518.7L287.1 517.1L287.9 518.7L289.5 519.5L287.9 520.3L287.1 521.9L286.3 520.3ZM292.6 519.8L294.2 519.0L295.0 517.4L295.8 519.0L297.4 519.8L295.8 520.6L295.0 522.2L294.2 520.6ZM300.4 516.7L302.0 515.9L302.8 514.3L303.6 515.9L305.2 516.7L303.6 517.5L302.8 519.1L302.0 517.5ZM308.2 518.8L309.8 518.0L310.6 516.4L311.4 518.0L313.0 518.8L311.4 519.6L310.6 521.2L309.8 519.6ZM316.0 519.1L317.6 518.3L318.4 516.7L319.2 518.3L320.8 519.1L319.2 519.9L318.4 521.5L317.6 519.9ZM323.8 512.4L325.4 511.6L326.2 510.0L327.0 511.6L328.6 512.4L327.0 513.2L326.2 514.8L325.4 513.2ZM331.7 506.7L333.3 505.9L334.1 504.3L334.9 505.9L336.5 506.7L334.9 507.5L334.1 509.1L333.3 507.5ZM339.5 517.3L341.1 516.5L341.9 514.9L342.7 516.5L344.3 517.3L342.7 518.1L341.9 519.7L341.1 518.1ZM347.3 508.4L348.9 507.6L349.7 506.0L350.5 507.6L352.1 508.4L350.5 509.2L349.7 510.8L348.9 509.2ZM355.1 510.5L356.7 509.7L357.5 508.1L358.3 509.7L359.9 510.5L358.3 511.3L357.5 512.9L356.7 511.3ZM362.9 511.0L364.5 510.2L365.3 508.6L366.1 510.2L367.7 511.0L366.1 511.8L365.3 513.4L364.5 511.8ZM370.8 499.6L372.4 498.8L373.2 497.2L374.0 498.8L375.6 499.6L374.0 500.4L373.2 502.0L372.4 500.4ZM378.6 505.8L380.2 505.0L381.0 503.4L381.8 505.0L383.4 505.8L381.8 506.6L381.0 508.2L380.2 506.6ZM386.4 492.5L388.0 491.7L388.8 490.1L389.6 491.7L391.2 492.5L389.6 493.3L388.8 494.9L388.0 493.3ZM394.2 504.4L395.8 503.6L396.6 502.0L397.4 503.6L399.0 504.4L397.4 505.2L396.6 506.8L395.8 505.2ZM402.0 495.7L403.6 494.9L404.4 493.3L405.2 494.9L406.8 495.7L405.2 496.5L404.4 498.1L403.6 496.5ZM409.9 497.8L411.5 497.0L412.3 495.4L413.1 497.0L414.7 497.8L413.1 498.6L412.3 500.2L411.5 498.6ZM417.7 499.5L419.3 498.7L420.1 497.1L420.9 498.7L422.5 499.5L420.9 500.3L420.1 501.9L419.3 500.3ZM425.5 488.9L427.1 488.1L427.9 486.5L428.7 488.1L430.3 488.9L428.7 489.7L427.9 491.3L427.1 489.7ZM433.3 492.0L434.9 491.2L435.7 489.6L436.5 491.2L438.1 492.0L436.5 492.8L435.7 494.4L434.9 492.8ZM441.1 484.8L442.7 484.0L443.5 482.4L444.3 484.0L445.9 484.8L444.3 485.6L443.5 487.2L442.7 485.6ZM449.0 487.4L450.6 486.6L451.4 485.0L452.2 486.6L453.8 487.4L452.2 488.2L451.4 489.8L450.6 488.2ZM456.8 492.9L458.4 492.1L459.2 490.5L460.0 492.1L461.6 492.9L460.0 493.7L459.2 495.3L458.4 493.7ZM464.6 483.8L466.2 483.0L467.0 481.4L467.8 483.0L469.4 483.8L467.8 484.6L467.0 486.2L466.2 484.6ZM472.4 480.5L474.0 479.7L474.8 478.1L475.6 479.7L477.2 480.5L475.6 481.3L474.8 482.9L474.0 481.3ZM480.2 471.4L481.8 470.6L482.6 469.0L483.4 470.6L485.0 471.4L483.4 472.2L482.6 473.8L481.8 472.2ZM488.1 483.7L489.7 482.9L490.5 481.3L491.3 482.9L492.9 483.7L491.3 484.5L490.5 486.1L489.7 484.5ZM495.9 474.7L497.5 473.9L498.3 472.3L499.1 473.9L500.7 474.7L499.1 475.5L498.3 477.1L497.5 475.5ZM503.7 486.1L505.3 485.3L506.1 483.7L506.9 485.3L508.5 486.1L506.9 486.9L506.1 488.5L505.3 486.9ZM511.5 464.4L513.1 463.6L513.9 462.0L514.7 463.6L516.3 464.4L514.7 465.2L513.9 466.8L513.1 465.2ZM519.3 476.6L520.9 475.8L521.7 474.2L522.5 475.8L524.1 476.6L522.5 477.4L521.7 479.0L520.9 477.4ZM527.2 480.6L528.8 479.8L529.6 478.2L530.4 479.8L532.0 480.6L530.4 481.4L529.6 483.0L528.8 481.4ZM535.0 463.3L536.6 462.5L537.4 460.9L538.2 462.5L539.8 463.3L538.2 464.1L537.4 465.7L536.6 464.1ZM542.8 450.7L544.4 449.9L545.2 448.3L546.0 449.9L547.6 450.7L546.0 451.5L545.2 453.1L544.4 451.5ZM550.6 471.6L552.2 470.8L553.0 469.2L553.8 470.8L555.4 471.6L553.8 472.4L553.0 474.0L552.2 472.4ZM558.4 465.4L560.0 464.6L560.8 463.0L561.6 464.6L563.2 465.4L561.6 466.2L560.8 467.8L560.0 466.2ZM566.3 460.0L567.9 459.2L568.7 457.6L569.5 459.2L571.1 460.0L569.5 460.8L568.7 462.4L567.9 460.8ZM574.1 461.2L575.7 460.4L576.5 458.8L577.3 460.4L578.9 461.2L577.3 462.0L576.5 463.6L575.7 462.0ZM581.9 444.7L583.5 443.9L584.3 442.3L585.1 443.9L586.7 444.7L585.1 445.5L584.3 447.1L583.5 445.5ZM589.7 453.5L591.3 452.7L592.1 451.1L592.9 452.7L594.5 453.5L592.9 454.3L592.1 455.9L591.3 454.3ZM597.5 450.3L599.1 449.5L599.9 447.9L600.7 449.5L602.3 450.3L600.7 451.1L599.9 452.7L599.1 451.1ZM605.4 435.3L607.0 434.5L607.8 432.9L608.6 434.5L610.2 435.3L608.6 436.1L607.8 437.7L607.0 436.1ZM613.2 445.9L614.8 445.1L615.6 443.5L616.4 445.1L618.0 445.9L616.4 446.7L615.6 448.3L614.8 446.7ZM621.0 431.8L622.6 431.0L623.4 429.4L624.2 431.0L625.8 431.8L624.2 432.6L623.4 434.2L622.6 432.6ZM628.8 443.4L630.4 442.6L631.2 441.0L632.0 442.6L633.6 443.4L632.0 444.2L631.2 445.8L630.4 444.2ZM636.6 443.6L638.2 442.8L639.0 441.2L639.8 442.8L641.4 443.6L639.8 444.4L639.0 446.0L638.2 444.4ZM644.5 447.7L646.1 446.9L646.9 445.3L647.7 446.9L649.3 447.7L647.7 448.5L646.9 450.1L646.1 448.5ZM652.3 407.4L653.9 406.6L654.7 405.0L655.5 406.6L657.1 407.4L655.5 408.2L654.7 409.8L653.9 408.2ZM660.1 427.6L661.7 426.8L662.5 425.2L663.3 426.8L664.9 427.6L663.3 428.4L662.5 430.0L661.7 428.4ZM667.9 419.5L669.5 418.7L670.3 417.1L671.1 418.7L672.7 419.5L671.1 420.3L670.3 421.9L669.5 420.3ZM675.7 420.1L677.3 419.3L678.1 417.7L678.9 419.3L680.5 420.1L678.9 420.9L678.1 422.5L677.3 420.9ZM683.6 415.9L685.2 415.1L686.0 413.5L686.8 415.1L688.4 415.9L686.8 416.7L686.0 418.3L685.2 416.7ZM691.4 414.8L693.0 414.0L693.8 412.4L694.6 414.0L696.2 414.8L694.6 415.6L693.8 417.2L693.0 415.6ZM699.2 392.7L700.8 391.9L701.6 390.3L702.4 391.9L704.0 392.7L702.4 393.5L701.6 395.1L700.8 393.5ZM707.0 422.4L708.6 421.6L709.4 420.0L710.2 421.6L711.8 422.4L710.2 423.2L709.4 424.8L708.6 423.2ZM714.8 426.1L716.4 425.3L717.2 423.7L718.0 425.3L719.6 426.1L718.0 426.9L717.2 428.5L716.4 426.9ZM722.7 418.2L724.3 417.4L725.1 415.8L725.9 417.4L727.5 418.2L725.9 419.0L725.1 420.6L724.3 419.0ZM730.5 419.8L732.1 419.0L732.9 417.4L733.7 419.0L735.3 419.8L733.7 420.6L732.9 422.2L732.1 420.6ZM738.3 394.8L739.9 394.0L740.7 392.4L741.5 394.0L743.1 394.8L741.5 395.6L740.7 397.2L739.9 395.6ZM746.1 392.1L747.7 391.3L748.5 389.7L749.3 391.3L750.9 392.1L749.3 392.9L748.5 394.5L747.7 392.9ZM753.9 410.2L755.5 409.4L756.3 407.8L757.1 409.4L758.7 410.2L757.1 411.0L756.3 412.6L755.5 411.0ZM761.8 413.3L763.4 412.5L764.2 410.9L765.0 412.5L766.6 413.3L765.0 414.1L764.2 415.7L763.4 414.1ZM769.6 399.9L771.2 399.1L772.0 397.5L772.8 399.1L774.4 399.9L772.8 400.7L772.0 402.3L771.2 400.7ZM777.4 378.3L779.0 377.5L779.8 375.9L780.6 377.5L782.2 378.3L780.6 379.1L779.8 380.7L779.0 379.1ZM785.2 424.6L786.8 423.8L787.6 422.2L788.4 423.8L790.0 424.6L788.4 425.4L787.6 427.0L786.8 425.4ZM793.0 384.8L794.6 384.0L795.4 382.4L796.2 384.0L797.8 384.8L796.2 385.6L795.4 387.2L794.6 385.6ZM800.9 401.6L802.5 400.8L803.3 399.2L804.1 400.8L805.7 401.6L804.1 402.4L803.3 404.0L802.5 402.4ZM808.7 375.6L810.3 374.8L811.1 373.2L811.9 374.8L813.5 375.6L811.9 376.4L811.1 378.0L810.3 376.4ZM816.5 398.5L818.1 397.7L818.9 396.1L819.7 397.7L821.3 398.5L819.7 399.3L818.9 400.9L818.1 399.3ZM824.3 387.8L825.9 387.0L826.7 385.4L827.5 387.0L829.1 387.8L827.5 388.6L826.7 390.2L825.9 388.6ZM832.1 400.4L833.7 399.6L834.5 398.0L835.3 399.6L836.9 400.4L835.3 401.2L834.5 402.8L833.7 401.2ZM840.0 392.5L841.6 391.7L842.4 390.1L843.2 391.7L844.8 392.5L843.2 393.3L842.4 394.9L841.6 393.3ZM847.8 362.9L849.4 362.1L850.2 360.5L851.0 362.1L852.6 362.9L851.0 363.7L850.2 365.3L849.4 363.7ZM855.6 366.8L857.2 366.0L858.0 364.4L858.8 366.0L860.4 366.8L858.8 367.6L858.0 369.2L857.2 367.6Z" stroke="#000" stroke-width="0.6" fill="#000"/><text x="253.6" y="60.6" text-anchor="middle">0</text><text x="393.6" y="60.6" text-anchor="middle">1</text><text x="394.7" y="225.8" text-anchor="middle">2</text><text x="394.7" y="406.1" text-anchor="middle">3</text><text x="394.7" y="484.6" text-anchor="middle">4</text></g><g><rect x="76" y="619.6" width="782.40" height="515.80" fill="none" stroke="#000" stroke-width="2.8"/><path d="M232.48 619.6v7.5M232.48 1135.4v-7.5M76 1032.24h8M858.4 1032.24h-8M388.96 619.6v7.5M388.96 1135.4v-7.5M76 929.08h8M858.4 929.08h-8M545.44 619.6v7.5M545.44 1135.4v-7.5M76 825.92h8M858.4 825.92h-8M701.92 619.6v7.5M701.92 1135.4v-7.5M76 722.76h8M858.4 722.76h-8" stroke="#000" stroke-width="2" fill="none"/><text class="t" x="66.5" y="1142.70" text-anchor="end">0</text><text class="t" x="66.5" y="1039.54" text-anchor="end">20</text><text class="t" x="66.5" y="936.38" text-anchor="end">40</text><text class="t" x="66.5" y="833.22" text-anchor="end">60</text><text class="t" x="66.5" y="730.06" text-anchor="end">80</text><text class="t" x="66.5" y="626.90" text-anchor="end">100</text><text class="t" x="76.00" y="1158.90" text-anchor="middle">0</text><text class="t" x="232.48" y="1158.90" text-anchor="middle">0.2</text><text class="t" x="388.96" y="1158.90" text-anchor="middle">0.4</text><text class="t" x="545.44" y="1158.90" text-anchor="middle">0.6</text><text class="t" x="701.92" y="1158.90" text-anchor="middle">0.8</text><text class="t" x="858.40" y="1158.90" text-anchor="middle">1</text><text x="465.70" y="1185.50" text-anchor="middle">b-ion (y-ion) probability</text><text class="r" transform="translate(22.4 877.50) rotate(-90)" text-anchor="middle">% of correct matches</text><text class="l" x="565" y="1063.90">Peptide length = 15</text><text class="l" x="565" y="1089.90">Number of peptides = 10,000</text><text class="l" x="565" y="1115.50">Number of top scores = 10</text><path d="M76.0 1135.4 L76.7 1135.1 L77.3 1134.6 L78.0 1133.8 L78.7 1132.8 L79.3 1131.6 L80.0 1130.3 L80.6 1128.9 L81.3 1127.3 L82.0 1125.6 L82.6 1123.8 L83.3 1121.8 L84.0 1119.7 L84.6 1117.6 L85.3 1115.3 L85.9 1113.2 L86.6 1111.2 L87.3 1109.2 L87.9 1107.3 L88.6 1105.4 L89.3 1103.5 L89.9 1101.6 L90.6 1099.7 L91.3 1097.8 L91.9 1095.8 L92.6 1093.8 L93.2 1091.7 L93.9 1089.7 L94.6 1087.5 L95.2 1085.3 L95.9 1083.0 L96.6 1080.7 L97.2 1078.3 L97.9 1075.9 L98.5 1073.3 L99.2 1070.8 L99.9 1068.1 L100.5 1065.4 L101.2 1062.6 L101.9 1059.8 L102.5 1056.9 L103.2 1053.9 L103.8 1050.9 L104.5 1047.9 L105.2 1044.7 L105.8 1041.5 L106.5 1038.3 L107.2 1035.0 L107.8 1031.7 L108.5 1028.3 L109.2 1024.8 L109.8 1021.4 L110.5 1017.9 L111.1 1014.3 L111.8 1010.7 L112.5 1007.1 L113.1 1003.4 L113.8 999.8 L114.5 996.1 L115.1 992.3 L117.3 979.9 L119.5 967.3 L121.7 954.6 L123.9 942.0 L126.1 929.5 L128.3 917.2 L130.5 905.0 L132.7 893.1 L134.9 881.5 L137.0 870.3 L139.2 859.4 L141.4 848.8 L143.6 838.6 L145.8 828.8 L148.0 819.3 L150.2 810.2 L152.4 801.5 L154.6 793.1 L156.8 785.1 L159.0 777.4 L161.2 770.0 L163.4 762.9 L165.5 756.1 L167.7 749.6 L169.9 743.4 L172.1 737.4 L174.3 731.7 L176.5 726.2 L178.7 721.0 L180.9 715.9 L183.1 711.1 L185.3 706.5 L187.5 702.0 L189.7 697.7 L191.9 693.7 L194.1 689.7 L196.2 686.0 L198.4 682.4 L200.6 678.9 L202.8 675.6 L205.0 672.5 L207.2 669.4 L209.4 666.5 L211.6 663.8 L213.8 661.1 L216.0 658.6 L218.2 656.2 L220.4 653.9 L222.6 651.7 L224.7 649.6 L226.9 647.7 L229.1 645.8 L231.3 644.0 L233.5 642.3 L235.7 640.7 L237.9 639.2 L240.1 637.8 L242.3 636.5 L244.5 635.2 L246.7 634.0 L248.9 632.9 L251.1 631.8 L253.3 630.9 L255.4 629.9 L257.6 629.1 L259.8 628.3 L262.0 627.5 L264.2 626.8 L266.4 626.2 L268.6 625.6 L270.8 625.1 L273.0 624.6 L275.2 624.1 L277.4 623.7 L279.6 623.3 L281.8 622.9 L283.9 622.6 L286.1 622.3 L288.3 622.0 L290.5 621.7 L292.7 621.5 L294.9 621.3 L297.1 621.1 L299.3 620.9 L301.5 620.8 L303.7 620.7 L305.9 620.5 L308.1 620.4 L310.3 620.3 L312.5 620.2 L314.6 620.2 L316.8 620.1 L319.0 620.0 L321.2 620.0 L323.4 619.9 L325.6 619.9 L327.8 619.8 L330.0 619.8 L332.2 619.8 L334.4 619.8 L336.6 619.7 L338.8 619.7 L341.0 619.7 L343.1 619.7 L345.3 619.7 L347.5 619.7 L349.7 619.7 L351.9 619.6 L354.1 619.6 L356.3 619.6 L358.5 619.6 L360.7 619.6 L362.9 619.6 L365.1 619.6 L367.3 619.6 L369.5 619.6 L371.7 619.6 L373.8 619.6 L376.0 619.6 L378.2 619.6 L380.4 619.6 L382.6 619.6 L384.8 619.6 L387.0 619.6 L389.2 619.6 L391.4 619.6 L393.6 619.6 L395.8 619.6 L398.0 619.6 L400.2 619.6 L402.3 619.6 L404.5 619.6 L406.7 619.6 L408.9 619.6 L411.1 619.6 L413.3 619.6 L415.5 619.6 L417.7 619.6 L419.9 619.6 L422.1 619.6 L424.3 619.6 L426.5 619.6 L428.7 619.6 L430.8 619.6 L433.0 619.6 L435.2 619.6 L437.4 619.6 L439.6 619.6 L441.8 619.6 L444.0 619.6 L446.2 619.6 L448.4 619.6 L450.6 619.6 L452.8 619.6 L455.0 619.6 L457.2 619.6 L459.4 619.6 L461.5 619.6 L463.7 619.6 L465.9 619.6 L468.1 619.6 L470.3 619.6 L472.5 619.6 L474.7 619.6 L476.9 619.6 L479.1 619.6 L481.3 619.6 L483.5 619.6 L485.7 619.6 L487.9 619.6 L490.0 619.6 L492.2 619.6 L494.4 619.6 L496.6 619.6 L498.8 619.6 L501.0 619.6 L503.2 619.6 L505.4 619.6 L507.6 619.6 L509.8 619.6 L512.0 619.6 L514.2 619.6 L516.4 619.6 L518.6 619.6 L520.7 619.6 L522.9 619.6 L525.1 619.6 L527.3 619.6 L529.5 619.6 L531.7 619.6 L533.9 619.6 L536.1 619.6 L538.3 619.6 L540.5 619.6 L542.7 619.6 L544.9 619.6 L547.1 619.6 L549.2 619.6 L551.4 619.6 L553.6 619.6 L555.8 619.6 L558.0 619.6 L560.2 619.6 L562.4 619.6 L564.6 619.6 L566.8 619.6 L569.0 619.6 L571.2 619.6 L573.4 619.6 L575.6 619.6 L577.8 619.6 L579.9 619.6 L582.1 619.6 L584.3 619.6 L586.5 619.6 L588.7 619.6 L590.9 619.6 L593.1 619.6 L595.3 619.6 L597.5 619.6 L599.7 619.6 L601.9 619.6 L604.1 619.6 L606.3 619.6 L608.4 619.6 L610.6 619.6 L612.8 619.6 L615.0 619.6 L617.2 619.6 L619.4 619.6 L621.6 619.6 L623.8 619.6 L626.0 619.6 L628.2 619.6 L630.4 619.6 L632.6 619.6 L634.8 619.6 L637.0 619.6 L639.1 619.6 L641.3 619.6 L643.5 619.6 L645.7 619.6 L647.9 619.6 L650.1 619.6 L652.3 619.6 L654.5 619.6 L656.7 619.6 L658.9 619.6 L661.1 619.6 L663.3 619.6 L665.5 619.6 L667.6 619.6 L669.8 619.6 L672.0 619.6 L674.2 619.6 L676.4 619.6 L678.6 619.6 L680.8 619.6 L683.0 619.6 L685.2 619.6 L687.4 619.6 L689.6 619.6 L691.8 619.6 L694.0 619.6 L696.2 619.6 L698.3 619.6 L700.5 619.6 L702.7 619.6 L704.9 619.6 L707.1 619.6 L709.3 619.6 L711.5 619.6 L713.7 619.6 L715.9 619.6 L718.1 619.6 L720.3 619.6 L722.5 619.6 L724.7 619.6 L726.8 619.6 L729.0 619.6 L731.2 619.6 L733.4 619.6 L735.6 619.6 L737.8 619.6 L740.0 619.6 L742.2 619.6 L744.4 619.6 L746.6 619.6 L748.8 619.6 L751.0 619.6 L753.2 619.6 L755.3 619.6 L757.5 619.6 L759.7 619.6 L761.9 619.6 L764.1 619.6 L766.3 619.6 L768.5 619.6 L770.7 619.6 L772.9 619.6 L775.1 619.6 L777.3 619.6 L779.5 619.6 L781.7 619.6 L783.9 619.6 L786.0 619.6 L788.2 619.6 L790.4 619.6 L792.6 619.6 L794.8 619.6 L797.0 619.6 L799.2 619.6 L801.4 619.6 L803.6 619.6 L805.8 619.6 L808.0 619.6 L810.2 619.6 L812.4 619.6 L814.5 619.6 L816.7 619.6 L818.9 619.6 L821.1 619.6 L823.3 619.6 L825.5 619.6 L827.7 619.6 L829.9 619.6 L832.1 619.6 L834.3 619.6 L836.5 619.6 L838.7 619.6 L840.9 619.6 L843.1 619.6 L845.2 619.6 L847.4 619.6 L849.6 619.6 L851.8 619.6 L854.0 619.6 L856.2 619.6 L858.4 619.6" fill="none" stroke="#000" stroke-width="2.4" stroke-linejoin="round"/><path d="M76.0 1135.4 L76.7 1135.3 L77.3 1135.2 L78.0 1135.1 L78.7 1135.0 L79.3 1134.8 L80.0 1134.6 L80.6 1134.3 L81.3 1134.1 L82.0 1133.8 L82.6 1133.5 L83.3 1133.2 L84.0 1132.9 L84.6 1132.6 L85.3 1132.2 L85.9 1131.9 L86.6 1131.5 L87.3 1131.1 L87.9 1130.7 L88.6 1130.3 L89.3 1129.9 L89.9 1129.5 L90.6 1129.0 L91.3 1128.6 L91.9 1128.1 L92.6 1127.6 L93.2 1127.2 L93.9 1126.7 L94.6 1126.1 L95.2 1125.6 L95.9 1125.1 L96.6 1124.6 L97.2 1124.0 L97.9 1123.5 L98.5 1122.9 L99.2 1122.3 L99.9 1121.7 L100.5 1121.1 L101.2 1120.4 L101.9 1119.7 L102.5 1118.9 L103.2 1118.2 L103.8 1117.4 L104.5 1116.5 L105.2 1115.7 L105.8 1114.8 L106.5 1113.8 L107.2 1112.9 L107.8 1111.9 L108.5 1110.9 L109.2 1109.8 L109.8 1108.7 L110.5 1107.6 L111.1 1106.5 L111.8 1105.3 L112.5 1104.1 L113.1 1102.9 L113.8 1101.6 L114.5 1100.3 L115.1 1099.0 L117.3 1094.5 L119.5 1089.7 L121.7 1084.6 L123.9 1079.3 L126.1 1073.7 L128.3 1067.9 L130.5 1062.0 L132.7 1055.8 L134.9 1049.5 L137.0 1043.0 L139.2 1036.4 L141.4 1029.6 L143.6 1022.7 L145.8 1015.8 L148.0 1008.7 L150.2 1001.5 L152.4 994.2 L154.6 986.9 L156.8 979.5 L159.0 972.0 L161.2 964.6 L163.4 957.0 L165.5 949.4 L167.7 941.8 L169.9 934.2 L172.1 926.6 L174.3 919.0 L176.5 911.4 L178.7 903.7 L180.9 896.2 L183.1 888.6 L185.3 881.0 L187.5 873.5 L189.7 866.1 L191.9 858.7 L194.1 851.3 L196.2 844.1 L198.4 836.9 L200.6 829.7 L202.8 822.7 L205.0 815.8 L207.2 808.9 L209.4 802.2 L211.6 795.6 L213.8 789.0 L216.0 782.7 L218.2 776.4 L220.4 770.3 L222.6 764.3 L224.7 758.4 L226.9 752.7 L229.1 747.1 L231.3 741.6 L233.5 736.4 L235.7 731.2 L237.9 726.2 L240.1 721.4 L242.3 716.7 L244.5 712.2 L246.7 707.8 L248.9 703.6 L251.1 699.5 L253.3 695.5 L255.4 691.7 L257.6 688.1 L259.8 684.6 L262.0 681.2 L264.2 678.0 L266.4 674.9 L268.6 672.0 L270.8 669.1 L273.0 666.4 L275.2 663.8 L277.4 661.4 L279.6 659.0 L281.8 656.8 L283.9 654.7 L286.1 652.6 L288.3 650.7 L290.5 648.9 L292.7 647.1 L294.9 645.5 L297.1 643.9 L299.3 642.4 L301.5 641.0 L303.7 639.7 L305.9 638.5 L308.1 637.3 L310.3 636.2 L312.5 635.1 L314.6 634.1 L316.8 633.2 L319.0 632.3 L321.2 631.5 L323.4 630.7 L325.6 630.0 L327.8 629.3 L330.0 628.6 L332.2 628.0 L334.4 627.5 L336.6 626.9 L338.8 626.4 L341.0 625.9 L343.1 625.5 L345.3 625.1 L347.5 624.7 L349.7 624.3 L351.9 624.0 L354.1 623.7 L356.3 623.4 L358.5 623.1 L360.7 622.9 L362.9 622.6 L365.1 622.4 L367.3 622.2 L369.5 622.0 L371.7 621.8 L373.8 621.7 L376.0 621.5 L378.2 621.4 L380.4 621.2 L382.6 621.1 L384.8 621.0 L387.0 620.9 L389.2 620.8 L391.4 620.7 L393.6 620.6 L395.8 620.5 L398.0 620.5 L400.2 620.4 L402.3 620.3 L404.5 620.3 L406.7 620.2 L408.9 620.2 L411.1 620.1 L413.3 620.1 L415.5 620.0 L417.7 620.0 L419.9 620.0 L422.1 619.9 L424.3 619.9 L426.5 619.9 L428.7 619.9 L430.8 619.8 L433.0 619.8 L435.2 619.8 L437.4 619.8 L439.6 619.8 L441.8 619.8 L444.0 619.7 L446.2 619.7 L448.4 619.7 L450.6 619.7 L452.8 619.7 L455.0 619.7 L457.2 619.7 L459.4 619.7 L461.5 619.7 L463.7 619.7 L465.9 619.7 L468.1 619.6 L470.3 619.6 L472.5 619.6 L474.7 619.6 L476.9 619.6 L479.1 619.6 L481.3 619.6 L483.5 619.6 L485.7 619.6 L487.9 619.6 L490.0 619.6 L492.2 619.6 L494.4 619.6 L496.6 619.6 L498.8 619.6 L501.0 619.6 L503.2 619.6 L505.4 619.6 L507.6 619.6 L509.8 619.6 L512.0 619.6 L514.2 619.6 L516.4 619.6 L518.6 619.6 L520.7 619.6 L522.9 619.6 L525.1 619.6 L527.3 619.6 L529.5 619.6 L531.7 619.6 L533.9 619.6 L536.1 619.6 L538.3 619.6 L540.5 619.6 L542.7 619.6 L544.9 619.6 L547.1 619.6 L549.2 619.6 L551.4 619.6 L553.6 619.6 L555.8 619.6 L558.0 619.6 L560.2 619.6 L562.4 619.6 L564.6 619.6 L566.8 619.6 L569.0 619.6 L571.2 619.6 L573.4 619.6 L575.6 619.6 L577.8 619.6 L579.9 619.6 L582.1 619.6 L584.3 619.6 L586.5 619.6 L588.7 619.6 L590.9 619.6 L593.1 619.6 L595.3 619.6 L597.5 619.6 L599.7 619.6 L601.9 619.6 L604.1 619.6 L606.3 619.6 L608.4 619.6 L610.6 619.6 L612.8 619.6 L615.0 619.6 L617.2 619.6 L619.4 619.6 L621.6 619.6 L623.8 619.6 L626.0 619.6 L628.2 619.6 L630.4 619.6 L632.6 619.6 L634.8 619.6 L637.0 619.6 L639.1 619.6 L641.3 619.6 L643.5 619.6 L645.7 619.6 L647.9 619.6 L650.1 619.6 L652.3 619.6 L654.5 619.6 L656.7 619.6 L658.9 619.6 L661.1 619.6 L663.3 619.6 L665.5 619.6 L667.6 619.6 L669.8 619.6 L672.0 619.6 L674.2 619.6 L676.4 619.6 L678.6 619.6 L680.8 619.6 L683.0 619.6 L685.2 619.6 L687.4 619.6 L689.6 619.6 L691.8 619.6 L694.0 619.6 L696.2 619.6 L698.3 619.6 L700.5 619.6 L702.7 619.6 L704.9 619.6 L707.1 619.6 L709.3 619.6 L711.5 619.6 L713.7 619.6 L715.9 619.6 L718.1 619.6 L720.3 619.6 L722.5 619.6 L724.7 619.6 L726.8 619.6 L729.0 619.6 L731.2 619.6 L733.4 619.6 L735.6 619.6 L737.8 619.6 L740.0 619.6 L742.2 619.6 L744.4 619.6 L746.6 619.6 L748.8 619.6 L751.0 619.6 L753.2 619.6 L755.3 619.6 L757.5 619.6 L759.7 619.6 L761.9 619.6 L764.1 619.6 L766.3 619.6 L768.5 619.6 L770.7 619.6 L772.9 619.6 L775.1 619.6 L777.3 619.6 L779.5 619.6 L781.7 619.6 L783.9 619.6 L786.0 619.6 L788.2 619.6 L790.4 619.6 L792.6 619.6 L794.8 619.6 L797.0 619.6 L799.2 619.6 L801.4 619.6 L803.6 619.6 L805.8 619.6 L808.0 619.6 L810.2 619.6 L812.4 619.6 L814.5 619.6 L816.7 619.6 L818.9 619.6 L821.1 619.6 L823.3 619.6 L825.5 619.6 L827.7 619.6 L829.9 619.6 L832.1 619.6 L834.3 619.6 L836.5 619.6 L838.7 619.6 L840.9 619.6 L843.1 619.6 L845.2 619.6 L847.4 619.6 L849.6 619.6 L851.8 619.6 L854.0 619.6 L856.2 619.6 L858.4 619.6" fill="none" stroke="#000" stroke-width="2.4" stroke-linejoin="round"/><path d="M76.0 1135.4 L76.7 1135.1 L77.3 1134.8 L78.0 1134.6 L78.7 1134.3 L79.3 1134.0 L80.0 1133.7 L80.6 1133.4 L81.3 1133.1 L82.0 1132.9 L82.6 1132.6 L83.3 1132.3 L84.0 1132.0 L84.6 1131.7 L85.3 1131.5 L85.9 1131.2 L86.6 1130.9 L87.3 1130.6 L87.9 1130.3 L88.6 1130.0 L89.3 1129.8 L89.9 1129.5 L90.6 1129.2 L91.3 1128.9 L91.9 1128.6 L92.6 1128.4 L93.2 1128.1 L93.9 1127.8 L94.6 1127.5 L95.2 1127.2 L95.9 1126.9 L96.6 1126.7 L97.2 1126.4 L97.9 1126.2 L98.5 1125.9 L99.2 1125.7 L99.9 1125.5 L100.5 1125.3 L101.2 1125.0 L101.9 1124.8 L102.5 1124.5 L103.2 1124.2 L103.8 1124.0 L104.5 1123.7 L105.2 1123.4 L105.8 1123.1 L106.5 1122.8 L107.2 1122.5 L107.8 1122.2 L108.5 1121.9 L109.2 1121.6 L109.8 1121.2 L110.5 1120.9 L111.1 1120.6 L111.8 1120.2 L112.5 1119.9 L113.1 1119.5 L113.8 1119.2 L114.5 1118.8 L115.1 1118.4 L117.3 1117.2 L119.5 1115.9 L121.7 1114.5 L123.9 1113.1 L126.1 1111.6 L128.3 1110.1 L130.5 1108.5 L132.7 1106.8 L134.9 1105.1 L137.0 1103.3 L139.2 1101.5 L141.4 1099.6 L143.6 1097.7 L145.8 1095.7 L148.0 1093.6 L150.2 1091.5 L152.4 1089.3 L154.6 1087.1 L156.8 1084.8 L159.0 1082.5 L161.2 1080.0 L163.4 1077.6 L165.5 1075.0 L167.7 1072.4 L169.9 1069.8 L172.1 1067.1 L174.3 1064.3 L176.5 1061.5 L178.7 1058.6 L180.9 1055.6 L183.1 1052.6 L185.3 1049.5 L187.5 1046.4 L189.7 1043.2 L191.9 1039.9 L194.1 1036.6 L196.2 1033.3 L198.4 1029.9 L200.6 1026.4 L202.8 1022.8 L205.0 1019.3 L207.2 1015.6 L209.4 1011.9 L211.6 1008.2 L213.8 1004.4 L216.0 1000.6 L218.2 996.7 L220.4 992.8 L222.6 988.8 L224.7 984.8 L226.9 980.7 L229.1 976.6 L231.3 972.5 L233.5 968.3 L235.7 964.1 L237.9 959.9 L240.1 955.6 L242.3 951.3 L244.5 947.0 L246.7 942.7 L248.9 938.3 L251.1 933.9 L253.3 929.5 L255.4 925.1 L257.6 920.7 L259.8 916.3 L262.0 911.8 L264.2 907.4 L266.4 902.9 L268.6 898.5 L270.8 894.0 L273.0 889.5 L275.2 885.1 L277.4 880.7 L279.6 876.2 L281.8 871.8 L283.9 867.4 L286.1 863.0 L288.3 858.6 L290.5 854.3 L292.7 850.0 L294.9 845.7 L297.1 841.4 L299.3 837.1 L301.5 832.9 L303.7 828.7 L305.9 824.6 L308.1 820.4 L310.3 816.4 L312.5 812.3 L314.6 808.3 L316.8 804.3 L319.0 800.4 L321.2 796.5 L323.4 792.7 L325.6 788.9 L327.8 785.2 L330.0 781.5 L332.2 777.8 L334.4 774.2 L336.6 770.7 L338.8 767.2 L341.0 763.7 L343.1 760.3 L345.3 757.0 L347.5 753.7 L349.7 750.5 L351.9 747.3 L354.1 744.2 L356.3 741.1 L358.5 738.1 L360.7 735.1 L362.9 732.2 L365.1 729.3 L367.3 726.5 L369.5 723.8 L371.7 721.1 L373.8 718.4 L376.0 715.8 L378.2 713.3 L380.4 710.8 L382.6 708.4 L384.8 706.0 L387.0 703.6 L389.2 701.3 L391.4 699.1 L393.6 696.9 L395.8 694.8 L398.0 692.7 L400.2 690.7 L402.3 688.7 L404.5 686.7 L406.7 684.8 L408.9 682.9 L411.1 681.1 L413.3 679.4 L415.5 677.6 L417.7 676.0 L419.9 674.3 L422.1 672.7 L424.3 671.1 L426.5 669.6 L428.7 668.1 L430.8 666.7 L433.0 665.3 L435.2 663.9 L437.4 662.6 L439.6 661.3 L441.8 660.0 L444.0 658.8 L446.2 657.6 L448.4 656.4 L450.6 655.3 L452.8 654.2 L455.0 653.1 L457.2 652.0 L459.4 651.0 L461.5 650.0 L463.7 649.1 L465.9 648.1 L468.1 647.2 L470.3 646.3 L472.5 645.5 L474.7 644.7 L476.9 643.9 L479.1 643.1 L481.3 642.3 L483.5 641.6 L485.7 640.8 L487.9 640.1 L490.0 639.5 L492.2 638.8 L494.4 638.2 L496.6 637.6 L498.8 637.0 L501.0 636.4 L503.2 635.8 L505.4 635.3 L507.6 634.7 L509.8 634.2 L512.0 633.7 L514.2 633.2 L516.4 632.8 L518.6 632.3 L520.7 631.9 L522.9 631.5 L525.1 631.0 L527.3 630.6 L529.5 630.2 L531.7 629.9 L533.9 629.5 L536.1 629.2 L538.3 628.8 L540.5 628.5 L542.7 628.2 L544.9 627.9 L547.1 627.6 L549.2 627.3 L551.4 627.0 L553.6 626.7 L555.8 626.5 L558.0 626.2 L560.2 626.0 L562.4 625.7 L564.6 625.5 L566.8 625.3 L569.0 625.1 L571.2 624.9 L573.4 624.7 L575.6 624.5 L577.8 624.3 L579.9 624.1 L582.1 623.9 L584.3 623.8 L586.5 623.6 L588.7 623.4 L590.9 623.3 L593.1 623.1 L595.3 623.0 L597.5 622.9 L599.7 622.7 L601.9 622.6 L604.1 622.5 L606.3 622.4 L608.4 622.3 L610.6 622.1 L612.8 622.0 L615.0 621.9 L617.2 621.8 L619.4 621.7 L621.6 621.7 L623.8 621.6 L626.0 621.5 L628.2 621.4 L630.4 621.3 L632.6 621.3 L634.8 621.2 L637.0 621.1 L639.1 621.0 L641.3 621.0 L643.5 620.9 L645.7 620.9 L647.9 620.8 L650.1 620.7 L652.3 620.7 L654.5 620.6 L656.7 620.6 L658.9 620.5 L661.1 620.5 L663.3 620.5 L665.5 620.4 L667.6 620.4 L669.8 620.3 L672.0 620.3 L674.2 620.3 L676.4 620.2 L678.6 620.2 L680.8 620.2 L683.0 620.1 L685.2 620.1 L687.4 620.1 L689.6 620.1 L691.8 620.0 L694.0 620.0 L696.2 620.0 L698.3 620.0 L700.5 620.0 L702.7 619.9 L704.9 619.9 L707.1 619.9 L709.3 619.9 L711.5 619.9 L713.7 619.8 L715.9 619.8 L718.1 619.8 L720.3 619.8 L722.5 619.8 L724.7 619.8 L726.8 619.8 L729.0 619.8 L731.2 619.8 L733.4 619.7 L735.6 619.7 L737.8 619.7 L740.0 619.7 L742.2 619.7 L744.4 619.7 L746.6 619.7 L748.8 619.7 L751.0 619.7 L753.2 619.7 L755.3 619.7 L757.5 619.7 L759.7 619.7 L761.9 619.7 L764.1 619.7 L766.3 619.6 L768.5 619.6 L770.7 619.6 L772.9 619.6 L775.1 619.6 L777.3 619.6 L779.5 619.6 L781.7 619.6 L783.9 619.6 L786.0 619.6 L788.2 619.6 L790.4 619.6 L792.6 619.6 L794.8 619.6 L797.0 619.6 L799.2 619.6 L801.4 619.6 L803.6 619.6 L805.8 619.6 L808.0 619.6 L810.2 619.6 L812.4 619.6 L814.5 619.6 L816.7 619.6 L818.9 619.6 L821.1 619.6 L823.3 619.6 L825.5 619.6 L827.7 619.6 L829.9 619.6 L832.1 619.6 L834.3 619.6 L836.5 619.6 L838.7 619.6 L840.9 619.6 L843.1 619.6 L845.2 619.6 L847.4 619.6 L849.6 619.6 L851.8 619.6 L854.0 619.6 L856.2 619.6 L858.4 619.6" fill="none" stroke="#000" stroke-width="2.4" stroke-linejoin="round"/><path d="M76.0 1135.4 L76.7 1135.3 L77.3 1135.1 L78.0 1135.0 L78.7 1134.9 L79.3 1134.8 L80.0 1134.6 L80.6 1134.5 L81.3 1134.4 L82.0 1134.2 L82.6 1134.1 L83.3 1134.0 L84.0 1133.8 L84.6 1133.7 L85.3 1133.6 L85.9 1133.5 L86.6 1133.3 L87.3 1133.2 L87.9 1133.1 L88.6 1132.9 L89.3 1132.8 L89.9 1132.7 L90.6 1132.6 L91.3 1132.4 L91.9 1132.3 L92.6 1132.2 L93.2 1132.0 L93.9 1131.9 L94.6 1131.8 L95.2 1131.6 L95.9 1131.5 L96.6 1131.4 L97.2 1131.3 L97.9 1131.1 L98.5 1131.0 L99.2 1130.9 L99.9 1130.7 L100.5 1130.6 L101.2 1130.5 L101.9 1130.4 L102.5 1130.2 L103.2 1130.1 L103.8 1130.0 L104.5 1129.8 L105.2 1129.7 L105.8 1129.6 L106.5 1129.4 L107.2 1129.3 L107.8 1129.2 L108.5 1129.1 L109.2 1128.9 L109.8 1128.8 L110.5 1128.7 L111.1 1128.5 L111.8 1128.4 L112.5 1128.3 L113.1 1128.2 L113.8 1128.0 L114.5 1127.9 L115.1 1127.8 L117.3 1127.4 L119.5 1126.9 L121.7 1126.5 L123.9 1126.0 L126.1 1125.5 L128.3 1125.0 L130.5 1124.4 L132.7 1123.9 L134.9 1123.3 L137.0 1122.7 L139.2 1122.0 L141.4 1121.4 L143.6 1120.7 L145.8 1120.0 L148.0 1119.3 L150.2 1118.6 L152.4 1117.8 L154.6 1117.0 L156.8 1116.2 L159.0 1115.3 L161.2 1114.5 L163.4 1113.6 L165.5 1112.7 L167.7 1111.8 L169.9 1110.8 L172.1 1109.8 L174.3 1108.8 L176.5 1107.7 L178.7 1106.7 L180.9 1105.6 L183.1 1104.5 L185.3 1103.3 L187.5 1102.1 L189.7 1100.9 L191.9 1099.7 L194.1 1098.5 L196.2 1097.2 L198.4 1095.9 L200.6 1094.5 L202.8 1093.1 L205.0 1091.7 L207.2 1090.3 L209.4 1088.9 L211.6 1087.4 L213.8 1085.9 L216.0 1084.3 L218.2 1082.7 L220.4 1081.1 L222.6 1079.5 L224.7 1077.9 L226.9 1076.2 L229.1 1074.5 L231.3 1072.7 L233.5 1070.9 L235.7 1069.1 L237.9 1067.3 L240.1 1065.4 L242.3 1063.5 L244.5 1061.6 L246.7 1059.7 L248.9 1057.7 L251.1 1055.7 L253.3 1053.7 L255.4 1051.6 L257.6 1049.6 L259.8 1047.4 L262.0 1045.3 L264.2 1043.2 L266.4 1041.0 L268.6 1038.8 L270.8 1036.5 L273.0 1034.3 L275.2 1032.0 L277.4 1029.7 L279.6 1027.3 L281.8 1025.0 L283.9 1022.6 L286.1 1020.2 L288.3 1017.8 L290.5 1015.3 L292.7 1012.9 L294.9 1010.4 L297.1 1007.9 L299.3 1005.4 L301.5 1002.8 L303.7 1000.3 L305.9 997.7 L308.1 995.1 L310.3 992.5 L312.5 989.9 L314.6 987.2 L316.8 984.6 L319.0 981.9 L321.2 979.2 L323.4 976.5 L325.6 973.8 L327.8 971.1 L330.0 968.4 L332.2 965.7 L334.4 962.9 L336.6 960.2 L338.8 957.4 L341.0 954.7 L343.1 951.9 L345.3 949.1 L347.5 946.3 L349.7 943.5 L351.9 940.7 L354.1 937.9 L356.3 935.1 L358.5 932.3 L360.7 929.5 L362.9 926.7 L365.1 923.9 L367.3 921.1 L369.5 918.3 L371.7 915.5 L373.8 912.7 L376.0 910.0 L378.2 907.2 L380.4 904.4 L382.6 901.6 L384.8 898.8 L387.0 896.1 L389.2 893.3 L391.4 890.6 L393.6 887.8 L395.8 885.1 L398.0 882.3 L400.2 879.6 L402.3 876.9 L404.5 874.2 L406.7 871.5 L408.9 868.9 L411.1 866.2 L413.3 863.5 L415.5 860.9 L417.7 858.3 L419.9 855.7 L422.1 853.1 L424.3 850.5 L426.5 847.9 L428.7 845.3 L430.8 842.8 L433.0 840.3 L435.2 837.8 L437.4 835.3 L439.6 832.8 L441.8 830.3 L444.0 827.9 L446.2 825.5 L448.4 823.1 L450.6 820.7 L452.8 818.3 L455.0 815.9 L457.2 813.6 L459.4 811.3 L461.5 809.0 L463.7 806.7 L465.9 804.4 L468.1 802.2 L470.3 799.9 L472.5 797.7 L474.7 795.5 L476.9 793.4 L479.1 791.2 L481.3 789.1 L483.5 787.0 L485.7 784.9 L487.9 782.8 L490.0 780.8 L492.2 778.7 L494.4 776.7 L496.6 774.7 L498.8 772.8 L501.0 770.8 L503.2 768.9 L505.4 767.0 L507.6 765.1 L509.8 763.2 L512.0 761.3 L514.2 759.5 L516.4 757.7 L518.6 755.9 L520.7 754.1 L522.9 752.4 L525.1 750.6 L527.3 748.9 L529.5 747.2 L531.7 745.5 L533.9 743.9 L536.1 742.2 L538.3 740.6 L540.5 739.0 L542.7 737.4 L544.9 735.8 L547.1 734.3 L549.2 732.8 L551.4 731.3 L553.6 729.8 L555.8 728.3 L558.0 726.8 L560.2 725.4 L562.4 723.9 L564.6 722.5 L566.8 721.1 L569.0 719.8 L571.2 718.4 L573.4 717.1 L575.6 715.8 L577.8 714.4 L579.9 713.2 L582.1 711.9 L584.3 710.6 L586.5 709.4 L588.7 708.1 L590.9 706.9 L593.1 705.7 L595.3 704.6 L597.5 703.4 L599.7 702.2 L601.9 701.1 L604.1 700.0 L606.3 698.9 L608.4 697.8 L610.6 696.7 L612.8 695.6 L615.0 694.6 L617.2 693.5 L619.4 692.5 L621.6 691.5 L623.8 690.5 L626.0 689.5 L628.2 688.5 L630.4 687.6 L632.6 686.6 L634.8 685.7 L637.0 684.8 L639.1 683.9 L641.3 683.0 L643.5 682.1 L645.7 681.2 L647.9 680.3 L650.1 679.5 L652.3 678.6 L654.5 677.8 L656.7 677.0 L658.9 676.2 L661.1 675.4 L663.3 674.6 L665.5 673.8 L667.6 673.0 L669.8 672.3 L672.0 671.5 L674.2 670.8 L676.4 670.1 L678.6 669.4 L680.8 668.7 L683.0 668.0 L685.2 667.3 L687.4 666.6 L689.6 665.9 L691.8 665.2 L694.0 664.6 L696.2 663.9 L698.3 663.3 L700.5 662.7 L702.7 662.1 L704.9 661.4 L707.1 660.8 L709.3 660.2 L711.5 659.7 L713.7 659.1 L715.9 658.5 L718.1 657.9 L720.3 657.4 L722.5 656.8 L724.7 656.3 L726.8 655.7 L729.0 655.2 L731.2 654.7 L733.4 654.2 L735.6 653.6 L737.8 653.1 L740.0 652.6 L742.2 652.1 L744.4 651.7 L746.6 651.2 L748.8 650.7 L751.0 650.2 L753.2 649.8 L755.3 649.3 L757.5 648.9 L759.7 648.4 L761.9 648.0 L764.1 647.5 L766.3 647.1 L768.5 646.7 L770.7 646.2 L772.9 645.8 L775.1 645.4 L777.3 645.0 L779.5 644.6 L781.7 644.2 L783.9 643.8 L786.0 643.4 L788.2 643.0 L790.4 642.6 L792.6 642.2 L794.8 641.9 L797.0 641.5 L799.2 641.1 L801.4 640.7 L803.6 640.4 L805.8 640.0 L808.0 639.6 L810.2 639.3 L812.4 638.9 L814.5 638.6 L816.7 638.2 L818.9 637.8 L821.1 637.5 L823.3 637.1 L825.5 636.8 L827.7 636.4 L829.9 636.1 L832.1 635.7 L834.3 635.3 L836.5 635.0 L838.7 634.6 L840.9 634.2 L843.1 633.8 L845.2 633.4 L847.4 633.0 L849.6 632.6 L851.8 632.1 L854.0 631.6 L856.2 631.1 L858.4 630.5" fill="none" stroke="#000" stroke-width="2.4" stroke-linejoin="round"/><path d="M76.0 1135.4 L76.7 1135.4 L77.3 1135.4 L78.0 1135.4 L78.7 1135.4 L79.3 1135.4 L80.0 1135.4 L80.6 1135.4 L81.3 1135.3 L82.0 1135.3 L82.6 1135.3 L83.3 1135.3 L84.0 1135.3 L84.6 1135.3 L85.3 1135.2 L85.9 1135.2 L86.6 1135.2 L87.3 1135.2 L87.9 1135.2 L88.6 1135.1 L89.3 1135.1 L89.9 1135.1 L90.6 1135.0 L91.3 1135.0 L91.9 1135.0 L92.6 1134.9 L93.2 1134.9 L93.9 1134.9 L94.6 1134.8 L95.2 1134.8 L95.9 1134.8 L96.6 1134.7 L97.2 1134.7 L97.9 1134.6 L98.5 1134.6 L99.2 1134.5 L99.9 1134.5 L100.5 1134.4 L101.2 1134.4 L101.9 1134.3 L102.5 1134.3 L103.2 1134.2 L103.8 1134.2 L104.5 1134.1 L105.2 1134.1 L105.8 1134.0 L106.5 1133.9 L107.2 1133.9 L107.8 1133.8 L108.5 1133.8 L109.2 1133.7 L109.8 1133.6 L110.5 1133.6 L111.1 1133.5 L111.8 1133.4 L112.5 1133.4 L113.1 1133.3 L113.8 1133.2 L114.5 1133.1 L115.1 1133.1 L117.3 1132.8 L119.5 1132.5 L121.7 1132.3 L123.9 1132.0 L126.1 1131.7 L128.3 1131.4 L130.5 1131.0 L132.7 1130.7 L134.9 1130.3 L137.0 1130.0 L139.2 1129.6 L141.4 1129.2 L143.6 1128.8 L145.8 1128.4 L148.0 1128.0 L150.2 1127.5 L152.4 1127.1 L154.6 1126.7 L156.8 1126.2 L159.0 1125.7 L161.2 1125.3 L163.4 1124.8 L165.5 1124.4 L167.7 1123.9 L169.9 1123.5 L172.1 1123.0 L174.3 1122.5 L176.5 1122.1 L178.7 1121.6 L180.9 1121.1 L183.1 1120.6 L185.3 1120.1 L187.5 1119.6 L189.7 1119.1 L191.9 1118.6 L194.1 1118.1 L196.2 1117.6 L198.4 1117.1 L200.6 1116.6 L202.8 1116.0 L205.0 1115.5 L207.2 1115.0 L209.4 1114.4 L211.6 1113.8 L213.8 1113.3 L216.0 1112.7 L218.2 1112.1 L220.4 1111.5 L222.6 1110.9 L224.7 1110.3 L226.9 1109.7 L229.1 1109.0 L231.3 1108.4 L233.5 1107.8 L235.7 1107.1 L237.9 1106.4 L240.1 1105.7 L242.3 1105.1 L244.5 1104.4 L246.7 1103.6 L248.9 1102.9 L251.1 1102.2 L253.3 1101.5 L255.4 1100.7 L257.6 1099.9 L259.8 1099.2 L262.0 1098.4 L264.2 1097.6 L266.4 1096.8 L268.6 1096.0 L270.8 1095.1 L273.0 1094.3 L275.2 1093.4 L277.4 1092.6 L279.6 1091.7 L281.8 1090.8 L283.9 1089.9 L286.1 1089.0 L288.3 1088.1 L290.5 1087.2 L292.7 1086.2 L294.9 1085.3 L297.1 1084.3 L299.3 1083.3 L301.5 1082.3 L303.7 1081.3 L305.9 1080.3 L308.1 1079.3 L310.3 1078.2 L312.5 1077.2 L314.6 1076.1 L316.8 1075.1 L319.0 1074.0 L321.2 1072.9 L323.4 1071.8 L325.6 1070.6 L327.8 1069.5 L330.0 1068.4 L332.2 1067.2 L334.4 1066.1 L336.6 1064.9 L338.8 1063.7 L341.0 1062.5 L343.1 1061.3 L345.3 1060.1 L347.5 1058.9 L349.7 1057.6 L351.9 1056.4 L354.1 1055.1 L356.3 1053.8 L358.5 1052.6 L360.7 1051.3 L362.9 1050.0 L365.1 1048.7 L367.3 1047.4 L369.5 1046.0 L371.7 1044.7 L373.8 1043.4 L376.0 1042.0 L378.2 1040.6 L380.4 1039.3 L382.6 1037.9 L384.8 1036.5 L387.0 1035.1 L389.2 1033.7 L391.4 1032.3 L393.6 1030.9 L395.8 1029.5 L398.0 1028.0 L400.2 1026.6 L402.3 1025.1 L404.5 1023.7 L406.7 1022.2 L408.9 1020.8 L411.1 1019.3 L413.3 1017.8 L415.5 1016.3 L417.7 1014.8 L419.9 1013.3 L422.1 1011.8 L424.3 1010.3 L426.5 1008.8 L428.7 1007.3 L430.8 1005.8 L433.0 1004.3 L435.2 1002.8 L437.4 1001.2 L439.6 999.7 L441.8 998.2 L444.0 996.6 L446.2 995.1 L448.4 993.5 L450.6 992.0 L452.8 990.4 L455.0 988.9 L457.2 987.3 L459.4 985.8 L461.5 984.2 L463.7 982.7 L465.9 981.1 L468.1 979.5 L470.3 978.0 L472.5 976.4 L474.7 974.9 L476.9 973.3 L479.1 971.7 L481.3 970.2 L483.5 968.6 L485.7 967.1 L487.9 965.5 L490.0 963.9 L492.2 962.4 L494.4 960.8 L496.6 959.3 L498.8 957.7 L501.0 956.2 L503.2 954.6 L505.4 953.1 L507.6 951.5 L509.8 950.0 L512.0 948.5 L514.2 946.9 L516.4 945.4 L518.6 943.9 L520.7 942.3 L522.9 940.8 L525.1 939.3 L527.3 937.8 L529.5 936.3 L531.7 934.8 L533.9 933.3 L536.1 931.8 L538.3 930.3 L540.5 928.8 L542.7 927.3 L544.9 925.8 L547.1 924.3 L549.2 922.9 L551.4 921.4 L553.6 919.9 L555.8 918.5 L558.0 917.0 L560.2 915.6 L562.4 914.2 L564.6 912.7 L566.8 911.3 L569.0 909.9 L571.2 908.5 L573.4 907.1 L575.6 905.7 L577.8 904.3 L579.9 902.9 L582.1 901.5 L584.3 900.1 L586.5 898.8 L588.7 897.4 L590.9 896.0 L593.1 894.7 L595.3 893.3 L597.5 892.0 L599.7 890.7 L601.9 889.4 L604.1 888.1 L606.3 886.7 L608.4 885.4 L610.6 884.2 L612.8 882.9 L615.0 881.6 L617.2 880.3 L619.4 879.1 L621.6 877.8 L623.8 876.6 L626.0 875.3 L628.2 874.1 L630.4 872.9 L632.6 871.6 L634.8 870.4 L637.0 869.2 L639.1 868.0 L641.3 866.9 L643.5 865.7 L645.7 864.5 L647.9 863.3 L650.1 862.2 L652.3 861.0 L654.5 859.9 L656.7 858.8 L658.9 857.6 L661.1 856.5 L663.3 855.4 L665.5 854.3 L667.6 853.2 L669.8 852.1 L672.0 851.1 L674.2 850.0 L676.4 848.9 L678.6 847.9 L680.8 846.8 L683.0 845.8 L685.2 844.8 L687.4 843.8 L689.6 842.7 L691.8 841.7 L694.0 840.7 L696.2 839.7 L698.3 838.8 L700.5 837.8 L702.7 836.8 L704.9 835.9 L707.1 834.9 L709.3 834.0 L711.5 833.0 L713.7 832.1 L715.9 831.2 L718.1 830.3 L720.3 829.4 L722.5 828.5 L724.7 827.6 L726.8 826.7 L729.0 825.8 L731.2 825.0 L733.4 824.1 L735.6 823.3 L737.8 822.4 L740.0 821.6 L742.2 820.8 L744.4 820.0 L746.6 819.1 L748.8 818.3 L751.0 817.5 L753.2 816.8 L755.3 816.0 L757.5 815.2 L759.7 814.4 L761.9 813.7 L764.1 812.9 L766.3 812.2 L768.5 811.5 L770.7 810.7 L772.9 810.0 L775.1 809.3 L777.3 808.6 L779.5 807.9 L781.7 807.2 L783.9 806.5 L786.0 805.9 L788.2 805.2 L790.4 804.6 L792.6 803.9 L794.8 803.3 L797.0 802.6 L799.2 802.0 L801.4 801.4 L803.6 800.8 L805.8 800.2 L808.0 799.6 L810.2 799.1 L812.4 798.5 L814.5 797.9 L816.7 797.4 L818.9 796.9 L821.1 796.3 L823.3 795.8 L825.5 795.3 L827.7 794.8 L829.9 794.4 L832.1 793.9 L834.3 793.5 L836.5 793.1 L838.7 792.7 L840.9 792.3 L843.1 791.9 L845.2 791.6 L847.4 791.3 L849.6 791.0 L851.8 790.8 L854.0 790.7 L856.2 790.7 L858.4 790.7" fill="none" stroke="#000" stroke-width="2.4" stroke-linejoin="round"/><path d="M73.6 1135.4L75.2 1134.6L76.0 1133.0L76.8 1134.6L78.4 1135.4L76.8 1136.2L76.0 1137.8L75.2 1136.2ZM81.4 1124.0L83.0 1123.2L83.8 1121.6L84.6 1123.2L86.2 1124.0L84.6 1124.8L83.8 1126.4L83.0 1124.8ZM89.2 1109.5L90.8 1108.7L91.6 1107.1L92.4 1108.7L94.0 1109.5L92.4 1110.3L91.6 1111.9L90.8 1110.3ZM97.1 1073.1L98.7 1072.3L99.5 1070.7L100.3 1072.3L101.9 1073.1L100.3 1073.9L99.5 1075.5L98.7 1073.9ZM104.9 1034.7L106.5 1033.9L107.3 1032.3L108.1 1033.9L109.7 1034.7L108.1 1035.5L107.3 1037.1L106.5 1035.5ZM112.7 993.3L114.3 992.5L115.1 990.9L115.9 992.5L117.5 993.3L115.9 994.1L115.1 995.7L114.3 994.1ZM120.5 948.6L122.1 947.8L122.9 946.2L123.7 947.8L125.3 948.6L123.7 949.4L122.9 951.0L122.1 949.4ZM128.4 917.8L130.0 917.0L130.8 915.4L131.6 917.0L133.2 917.8L131.6 918.6L130.8 920.2L130.0 918.6ZM136.2 863.4L137.8 862.6L138.6 861.0L139.4 862.6L141.0 863.4L139.4 864.2L138.6 865.8L137.8 864.2ZM144.0 826.6L145.6 825.8L146.4 824.2L147.2 825.8L148.8 826.6L147.2 827.4L146.4 829.0L145.6 827.4ZM151.8 778.7L153.4 777.9L154.2 776.3L155.0 777.9L156.6 778.7L155.0 779.5L154.2 781.1L153.4 779.5ZM159.7 745.3L161.3 744.5L162.1 742.9L162.9 744.5L164.5 745.3L162.9 746.1L162.1 747.7L161.3 746.1ZM167.5 745.0L169.1 744.2L169.9 742.6L170.7 744.2L172.3 745.0L170.7 745.8L169.9 747.4L169.1 745.8ZM175.3 731.2L176.9 730.4L177.7 728.8L178.5 730.4L180.1 731.2L178.5 732.0L177.7 733.6L176.9 732.0ZM183.1 706.6L184.7 705.8L185.5 704.2L186.3 705.8L187.9 706.6L186.3 707.4L185.5 709.0L184.7 707.4ZM191.0 696.4L192.6 695.6L193.4 694.0L194.2 695.6L195.8 696.4L194.2 697.2L193.4 698.8L192.6 697.2ZM198.8 684.2L200.4 683.4L201.2 681.8L202.0 683.4L203.6 684.2L202.0 685.0L201.2 686.6L200.4 685.0ZM206.6 667.5L208.2 666.7L209.0 665.1L209.8 666.7L211.4 667.5L209.8 668.3L209.0 669.9L208.2 668.3ZM214.4 664.7L216.0 663.9L216.8 662.3L217.6 663.9L219.2 664.7L217.6 665.5L216.8 667.1L216.0 665.5ZM222.3 646.1L223.9 645.3L224.7 643.7L225.5 645.3L227.1 646.1L225.5 646.9L224.7 648.5L223.9 646.9ZM230.1 643.7L231.7 642.9L232.5 641.3L233.3 642.9L234.9 643.7L233.3 644.5L232.5 646.1L231.7 644.5ZM237.9 636.5L239.5 635.7L240.3 634.1L241.1 635.7L242.7 636.5L241.1 637.3L240.3 638.9L239.5 637.3ZM245.7 634.0L247.3 633.2L248.1 631.6L248.9 633.2L250.5 634.0L248.9 634.8L248.1 636.4L247.3 634.8ZM253.6 632.3L255.2 631.5L256.0 629.9L256.8 631.5L258.4 632.3L256.8 633.1L256.0 634.7L255.2 633.1ZM261.4 629.9L263.0 629.1L263.8 627.5L264.6 629.1L266.2 629.9L264.6 630.7L263.8 632.3L263.0 630.7ZM269.2 625.5L270.8 624.7L271.6 623.1L272.4 624.7L274.0 625.5L272.4 626.3L271.6 627.9L270.8 626.3ZM277.0 624.5L278.6 623.7L279.4 622.1L280.2 623.7L281.8 624.5L280.2 625.3L279.4 626.9L278.6 625.3ZM284.8 621.7L286.4 620.9L287.2 619.3L288.0 620.9L289.6 621.7L288.0 622.5L287.2 624.1L286.4 622.5ZM292.7 621.3L294.3 620.5L295.1 618.9L295.9 620.5L297.5 621.3L295.9 622.1L295.1 623.7L294.3 622.1ZM300.5 622.3L302.1 621.5L302.9 619.9L303.7 621.5L305.3 622.3L303.7 623.1L302.9 624.7L302.1 623.1ZM308.3 620.2L309.9 619.4L310.7 617.8L311.5 619.4L313.1 620.2L311.5 621.0L310.7 622.6L309.9 621.0ZM316.1 621.1L317.7 620.3L318.5 618.7L319.3 620.3L320.9 621.1L319.3 621.9L318.5 623.5L317.7 621.9ZM324.0 620.2L325.6 619.4L326.4 617.8L327.2 619.4L328.8 620.2L327.2 621.0L326.4 622.6L325.6 621.0ZM331.8 619.9L333.4 619.1L334.2 617.5L335.0 619.1L336.6 619.9L335.0 620.7L334.2 622.3L333.4 620.7ZM339.6 620.4L341.2 619.6L342.0 618.0L342.8 619.6L344.4 620.4L342.8 621.2L342.0 622.8L341.2 621.2ZM347.4 619.6L349.0 618.8L349.8 617.2L350.6 618.8L352.2 619.6L350.6 620.4L349.8 622.0L349.0 620.4ZM355.3 619.6L356.9 618.8L357.7 617.2L358.5 618.8L360.1 619.6L358.5 620.4L357.7 622.0L356.9 620.4ZM363.1 619.6L364.7 618.8L365.5 617.2L366.3 618.8L367.9 619.6L366.3 620.4L365.5 622.0L364.7 620.4ZM370.9 619.6L372.5 618.8L373.3 617.2L374.1 618.8L375.7 619.6L374.1 620.4L373.3 622.0L372.5 620.4ZM378.7 619.6L380.3 618.8L381.1 617.2L381.9 618.8L383.5 619.6L381.9 620.4L381.1 622.0L380.3 620.4ZM386.6 619.6L388.2 618.8L389.0 617.2L389.8 618.8L391.4 619.6L389.8 620.4L389.0 622.0L388.2 620.4ZM394.4 619.6L396.0 618.8L396.8 617.2L397.6 618.8L399.2 619.6L397.6 620.4L396.8 622.0L396.0 620.4ZM402.2 619.6L403.8 618.8L404.6 617.2L405.4 618.8L407.0 619.6L405.4 620.4L404.6 622.0L403.8 620.4ZM410.0 619.6L411.6 618.8L412.4 617.2L413.2 618.8L414.8 619.6L413.2 620.4L412.4 622.0L411.6 620.4ZM417.9 619.6L419.5 618.8L420.3 617.2L421.1 618.8L422.7 619.6L421.1 620.4L420.3 622.0L419.5 620.4ZM425.7 619.6L427.3 618.8L428.1 617.2L428.9 618.8L430.5 619.6L428.9 620.4L428.1 622.0L427.3 620.4ZM433.5 619.6L435.1 618.8L435.9 617.2L436.7 618.8L438.3 619.6L436.7 620.4L435.9 622.0L435.1 620.4ZM441.3 619.6L442.9 618.8L443.7 617.2L444.5 618.8L446.1 619.6L444.5 620.4L443.7 622.0L442.9 620.4ZM449.2 619.6L450.8 618.8L451.6 617.2L452.4 618.8L454.0 619.6L452.4 620.4L451.6 622.0L450.8 620.4ZM457.0 619.6L458.6 618.8L459.4 617.2L460.2 618.8L461.8 619.6L460.2 620.4L459.4 622.0L458.6 620.4ZM464.8 619.6L466.4 618.8L467.2 617.2L468.0 618.8L469.6 619.6L468.0 620.4L467.2 622.0L466.4 620.4ZM472.6 619.6L474.2 618.8L475.0 617.2L475.8 618.8L477.4 619.6L475.8 620.4L475.0 622.0L474.2 620.4ZM480.4 619.6L482.0 618.8L482.8 617.2L483.6 618.8L485.2 619.6L483.6 620.4L482.8 622.0L482.0 620.4ZM488.3 619.6L489.9 618.8L490.7 617.2L491.5 618.8L493.1 619.6L491.5 620.4L490.7 622.0L489.9 620.4ZM496.1 619.6L497.7 618.8L498.5 617.2L499.3 618.8L500.9 619.6L499.3 620.4L498.5 622.0L497.7 620.4ZM503.9 619.6L505.5 618.8L506.3 617.2L507.1 618.8L508.7 619.6L507.1 620.4L506.3 622.0L505.5 620.4ZM511.7 619.6L513.3 618.8L514.1 617.2L514.9 618.8L516.5 619.6L514.9 620.4L514.1 622.0L513.3 620.4ZM519.6 619.6L521.2 618.8L522.0 617.2L522.8 618.8L524.4 619.6L522.8 620.4L522.0 622.0L521.2 620.4ZM527.4 619.6L529.0 618.8L529.8 617.2L530.6 618.8L532.2 619.6L530.6 620.4L529.8 622.0L529.0 620.4ZM535.2 619.6L536.8 618.8L537.6 617.2L538.4 618.8L540.0 619.6L538.4 620.4L537.6 622.0L536.8 620.4ZM543.0 619.6L544.6 618.8L545.4 617.2L546.2 618.8L547.8 619.6L546.2 620.4L545.4 622.0L544.6 620.4ZM550.9 619.6L552.5 618.8L553.3 617.2L554.1 618.8L555.7 619.6L554.1 620.4L553.3 622.0L552.5 620.4ZM558.7 619.6L560.3 618.8L561.1 617.2L561.9 618.8L563.5 619.6L561.9 620.4L561.1 622.0L560.3 620.4ZM566.5 619.6L568.1 618.8L568.9 617.2L569.7 618.8L571.3 619.6L569.7 620.4L568.9 622.0L568.1 620.4ZM574.3 619.6L575.9 618.8L576.7 617.2L577.5 618.8L579.1 619.6L577.5 620.4L576.7 622.0L575.9 620.4ZM582.2 619.6L583.8 618.8L584.6 617.2L585.4 618.8L587.0 619.6L585.4 620.4L584.6 622.0L583.8 620.4ZM590.0 619.6L591.6 618.8L592.4 617.2L593.2 618.8L594.8 619.6L593.2 620.4L592.4 622.0L591.6 620.4ZM597.8 619.6L599.4 618.8L600.2 617.2L601.0 618.8L602.6 619.6L601.0 620.4L600.2 622.0L599.4 620.4ZM605.6 619.6L607.2 618.8L608.0 617.2L608.8 618.8L610.4 619.6L608.8 620.4L608.0 622.0L607.2 620.4ZM613.5 619.6L615.1 618.8L615.9 617.2L616.7 618.8L618.3 619.6L616.7 620.4L615.9 622.0L615.1 620.4ZM621.3 619.6L622.9 618.8L623.7 617.2L624.5 618.8L626.1 619.6L624.5 620.4L623.7 622.0L622.9 620.4ZM629.1 619.6L630.7 618.8L631.5 617.2L632.3 618.8L633.9 619.6L632.3 620.4L631.5 622.0L630.7 620.4ZM636.9 619.6L638.5 618.8L639.3 617.2L640.1 618.8L641.7 619.6L640.1 620.4L639.3 622.0L638.5 620.4ZM644.8 619.6L646.4 618.8L647.2 617.2L648.0 618.8L649.6 619.6L648.0 620.4L647.2 622.0L646.4 620.4ZM652.6 619.6L654.2 618.8L655.0 617.2L655.8 618.8L657.4 619.6L655.8 620.4L655.0 622.0L654.2 620.4ZM660.4 619.6L662.0 618.8L662.8 617.2L663.6 618.8L665.2 619.6L663.6 620.4L662.8 622.0L662.0 620.4ZM668.2 619.6L669.8 618.8L670.6 617.2L671.4 618.8L673.0 619.6L671.4 620.4L670.6 622.0L669.8 620.4ZM676.0 619.6L677.6 618.8L678.4 617.2L679.2 618.8L680.8 619.6L679.2 620.4L678.4 622.0L677.6 620.4ZM683.9 619.6L685.5 618.8L686.3 617.2L687.1 618.8L688.7 619.6L687.1 620.4L686.3 622.0L685.5 620.4ZM691.7 619.6L693.3 618.8L694.1 617.2L694.9 618.8L696.5 619.6L694.9 620.4L694.1 622.0L693.3 620.4ZM699.5 619.6L701.1 618.8L701.9 617.2L702.7 618.8L704.3 619.6L702.7 620.4L701.9 622.0L701.1 620.4ZM707.3 619.6L708.9 618.8L709.7 617.2L710.5 618.8L712.1 619.6L710.5 620.4L709.7 622.0L708.9 620.4ZM715.2 619.6L716.8 618.8L717.6 617.2L718.4 618.8L720.0 619.6L718.4 620.4L717.6 622.0L716.8 620.4ZM723.0 619.6L724.6 618.8L725.4 617.2L726.2 618.8L727.8 619.6L726.2 620.4L725.4 622.0L724.6 620.4ZM730.8 619.6L732.4 618.8L733.2 617.2L734.0 618.8L735.6 619.6L734.0 620.4L733.2 622.0L732.4 620.4ZM738.6 619.6L740.2 618.8L741.0 617.2L741.8 618.8L743.4 619.6L741.8 620.4L741.0 622.0L740.2 620.4ZM746.5 619.6L748.1 618.8L748.9 617.2L749.7 618.8L751.3 619.6L749.7 620.4L748.9 622.0L748.1 620.4ZM754.3 619.6L755.9 618.8L756.7 617.2L757.5 618.8L759.1 619.6L757.5 620.4L756.7 622.0L755.9 620.4ZM762.1 619.6L763.7 618.8L764.5 617.2L765.3 618.8L766.9 619.6L765.3 620.4L764.5 622.0L763.7 620.4ZM769.9 619.6L771.5 618.8L772.3 617.2L773.1 618.8L774.7 619.6L773.1 620.4L772.3 622.0L771.5 620.4ZM777.8 619.6L779.4 618.8L780.2 617.2L781.0 618.8L782.6 619.6L781.0 620.4L780.2 622.0L779.4 620.4ZM785.6 619.6L787.2 618.8L788.0 617.2L788.8 618.8L790.4 619.6L788.8 620.4L788.0 622.0L787.2 620.4ZM793.4 619.6L795.0 618.8L795.8 617.2L796.6 618.8L798.2 619.6L796.6 620.4L795.8 622.0L795.0 620.4ZM801.2 619.6L802.8 618.8L803.6 617.2L804.4 618.8L806.0 619.6L804.4 620.4L803.6 622.0L802.8 620.4ZM809.1 619.6L810.7 618.8L811.5 617.2L812.3 618.8L813.9 619.6L812.3 620.4L811.5 622.0L810.7 620.4ZM816.9 619.6L818.5 618.8L819.3 617.2L820.1 618.8L821.7 619.6L820.1 620.4L819.3 622.0L818.5 620.4ZM824.7 619.6L826.3 618.8L827.1 617.2L827.9 618.8L829.5 619.6L827.9 620.4L827.1 622.0L826.3 620.4ZM832.5 619.6L834.1 618.8L834.9 617.2L835.7 618.8L837.3 619.6L835.7 620.4L834.9 622.0L834.1 620.4ZM840.4 619.6L842.0 618.8L842.8 617.2L843.6 618.8L845.2 619.6L843.6 620.4L842.8 622.0L842.0 620.4ZM848.2 619.6L849.8 618.8L850.6 617.2L851.4 618.8L853.0 619.6L851.4 620.4L850.6 622.0L849.8 620.4ZM856.0 619.6L857.6 618.8L858.4 617.2L859.2 618.8L860.8 619.6L859.2 620.4L858.4 622.0L857.6 620.4ZM73.6 1135.4L75.2 1134.6L76.0 1133.0L76.8 1134.6L78.4 1135.4L76.8 1136.2L76.0 1137.8L75.2 1136.2ZM81.4 1134.5L83.0 1133.7L83.8 1132.1L84.6 1133.7L86.2 1134.5L84.6 1135.3L83.8 1136.9L83.0 1135.3ZM89.2 1135.1L90.8 1134.3L91.6 1132.7L92.4 1134.3L94.0 1135.1L92.4 1135.9L91.6 1137.5L90.8 1135.9ZM97.1 1123.4L98.7 1122.6L99.5 1121.0L100.3 1122.6L101.9 1123.4L100.3 1124.2L99.5 1125.8L98.7 1124.2ZM104.9 1107.9L106.5 1107.1L107.3 1105.5L108.1 1107.1L109.7 1107.9L108.1 1108.7L107.3 1110.3L106.5 1108.7ZM112.7 1096.5L114.3 1095.7L115.1 1094.1L115.9 1095.7L117.5 1096.5L115.9 1097.3L115.1 1098.9L114.3 1097.3ZM120.5 1086.3L122.1 1085.5L122.9 1083.9L123.7 1085.5L125.3 1086.3L123.7 1087.1L122.9 1088.7L122.1 1087.1ZM128.4 1061.3L130.0 1060.5L130.8 1058.9L131.6 1060.5L133.2 1061.3L131.6 1062.1L130.8 1063.7L130.0 1062.1ZM136.2 1030.7L137.8 1029.9L138.6 1028.3L139.4 1029.9L141.0 1030.7L139.4 1031.5L138.6 1033.1L137.8 1031.5ZM144.0 1044.0L145.6 1043.2L146.4 1041.6L147.2 1043.2L148.8 1044.0L147.2 1044.8L146.4 1046.4L145.6 1044.8ZM151.8 989.5L153.4 988.7L154.2 987.1L155.0 988.7L156.6 989.5L155.0 990.3L154.2 991.9L153.4 990.3ZM159.7 954.8L161.3 954.0L162.1 952.4L162.9 954.0L164.5 954.8L162.9 955.6L162.1 957.2L161.3 955.6ZM167.5 925.8L169.1 925.0L169.9 923.4L170.7 925.0L172.3 925.8L170.7 926.6L169.9 928.2L169.1 926.6ZM175.3 885.4L176.9 884.6L177.7 883.0L178.5 884.6L180.1 885.4L178.5 886.2L177.7 887.8L176.9 886.2ZM183.1 865.5L184.7 864.7L185.5 863.1L186.3 864.7L187.9 865.5L186.3 866.3L185.5 867.9L184.7 866.3ZM191.0 849.6L192.6 848.8L193.4 847.2L194.2 848.8L195.8 849.6L194.2 850.4L193.4 852.0L192.6 850.4ZM198.8 824.1L200.4 823.3L201.2 821.7L202.0 823.3L203.6 824.1L202.0 824.9L201.2 826.5L200.4 824.9ZM206.6 793.7L208.2 792.9L209.0 791.3L209.8 792.9L211.4 793.7L209.8 794.5L209.0 796.1L208.2 794.5ZM214.4 786.6L216.0 785.8L216.8 784.2L217.6 785.8L219.2 786.6L217.6 787.4L216.8 789.0L216.0 787.4ZM222.3 759.1L223.9 758.3L224.7 756.7L225.5 758.3L227.1 759.1L225.5 759.9L224.7 761.5L223.9 759.9ZM230.1 729.0L231.7 728.2L232.5 726.6L233.3 728.2L234.9 729.0L233.3 729.8L232.5 731.4L231.7 729.8ZM237.9 700.9L239.5 700.1L240.3 698.5L241.1 700.1L242.7 700.9L241.1 701.7L240.3 703.3L239.5 701.7ZM245.7 706.5L247.3 705.7L248.1 704.1L248.9 705.7L250.5 706.5L248.9 707.3L248.1 708.9L247.3 707.3ZM253.6 691.3L255.2 690.5L256.0 688.9L256.8 690.5L258.4 691.3L256.8 692.1L256.0 693.7L255.2 692.1ZM261.4 677.0L263.0 676.2L263.8 674.6L264.6 676.2L266.2 677.0L264.6 677.8L263.8 679.4L263.0 677.8ZM269.2 658.0L270.8 657.2L271.6 655.6L272.4 657.2L274.0 658.0L272.4 658.8L271.6 660.4L270.8 658.8ZM277.0 659.4L278.6 658.6L279.4 657.0L280.2 658.6L281.8 659.4L280.2 660.2L279.4 661.8L278.6 660.2ZM284.8 642.5L286.4 641.7L287.2 640.1L288.0 641.7L289.6 642.5L288.0 643.3L287.2 644.9L286.4 643.3ZM292.7 650.8L294.3 650.0L295.1 648.4L295.9 650.0L297.5 650.8L295.9 651.6L295.1 653.2L294.3 651.6ZM300.5 641.1L302.1 640.3L302.9 638.7L303.7 640.3L305.3 641.1L303.7 641.9L302.9 643.5L302.1 641.9ZM308.3 636.8L309.9 636.0L310.7 634.4L311.5 636.0L313.1 636.8L311.5 637.6L310.7 639.2L309.9 637.6ZM316.1 629.3L317.7 628.5L318.5 626.9L319.3 628.5L320.9 629.3L319.3 630.1L318.5 631.7L317.7 630.1ZM324.0 626.0L325.6 625.2L326.4 623.6L327.2 625.2L328.8 626.0L327.2 626.8L326.4 628.4L325.6 626.8ZM331.8 632.3L333.4 631.5L334.2 629.9L335.0 631.5L336.6 632.3L335.0 633.1L334.2 634.7L333.4 633.1ZM339.6 628.3L341.2 627.5L342.0 625.9L342.8 627.5L344.4 628.3L342.8 629.1L342.0 630.7L341.2 629.1ZM347.4 623.5L349.0 622.7L349.8 621.1L350.6 622.7L352.2 623.5L350.6 624.3L349.8 625.9L349.0 624.3ZM355.3 624.6L356.9 623.8L357.7 622.2L358.5 623.8L360.1 624.6L358.5 625.4L357.7 627.0L356.9 625.4ZM363.1 625.2L364.7 624.4L365.5 622.8L366.3 624.4L367.9 625.2L366.3 626.0L365.5 627.6L364.7 626.0ZM370.9 620.0L372.5 619.2L373.3 617.6L374.1 619.2L375.7 620.0L374.1 620.8L373.3 622.4L372.5 620.8ZM378.7 620.5L380.3 619.7L381.1 618.1L381.9 619.7L383.5 620.5L381.9 621.3L381.1 622.9L380.3 621.3ZM386.6 620.2L388.2 619.4L389.0 617.8L389.8 619.4L391.4 620.2L389.8 621.0L389.0 622.6L388.2 621.0ZM394.4 621.0L396.0 620.2L396.8 618.6L397.6 620.2L399.2 621.0L397.6 621.8L396.8 623.4L396.0 621.8ZM402.2 619.6L403.8 618.8L404.6 617.2L405.4 618.8L407.0 619.6L405.4 620.4L404.6 622.0L403.8 620.4ZM410.0 620.3L411.6 619.5L412.4 617.9L413.2 619.5L414.8 620.3L413.2 621.1L412.4 622.7L411.6 621.1ZM417.9 619.6L419.5 618.8L420.3 617.2L421.1 618.8L422.7 619.6L421.1 620.4L420.3 622.0L419.5 620.4ZM425.7 620.4L427.3 619.6L428.1 618.0L428.9 619.6L430.5 620.4L428.9 621.2L428.1 622.8L427.3 621.2ZM433.5 620.2L435.1 619.4L435.9 617.8L436.7 619.4L438.3 620.2L436.7 621.0L435.9 622.6L435.1 621.0ZM441.3 619.7L442.9 618.9L443.7 617.3L444.5 618.9L446.1 619.7L444.5 620.5L443.7 622.1L442.9 620.5ZM449.2 620.0L450.8 619.2L451.6 617.6L452.4 619.2L454.0 620.0L452.4 620.8L451.6 622.4L450.8 620.8ZM457.0 619.6L458.6 618.8L459.4 617.2L460.2 618.8L461.8 619.6L460.2 620.4L459.4 622.0L458.6 620.4ZM464.8 619.6L466.4 618.8L467.2 617.2L468.0 618.8L469.6 619.6L468.0 620.4L467.2 622.0L466.4 620.4ZM472.6 619.8L474.2 619.0L475.0 617.4L475.8 619.0L477.4 619.8L475.8 620.6L475.0 622.2L474.2 620.6ZM480.4 619.6L482.0 618.8L482.8 617.2L483.6 618.8L485.2 619.6L483.6 620.4L482.8 622.0L482.0 620.4ZM488.3 619.7L489.9 618.9L490.7 617.3L491.5 618.9L493.1 619.7L491.5 620.5L490.7 622.1L489.9 620.5ZM496.1 619.6L497.7 618.8L498.5 617.2L499.3 618.8L500.9 619.6L499.3 620.4L498.5 622.0L497.7 620.4ZM503.9 619.7L505.5 618.9L506.3 617.3L507.1 618.9L508.7 619.7L507.1 620.5L506.3 622.1L505.5 620.5ZM511.7 619.6L513.3 618.8L514.1 617.2L514.9 618.8L516.5 619.6L514.9 620.4L514.1 622.0L513.3 620.4ZM519.6 619.6L521.2 618.8L522.0 617.2L522.8 618.8L524.4 619.6L522.8 620.4L522.0 622.0L521.2 620.4ZM527.4 619.6L529.0 618.8L529.8 617.2L530.6 618.8L532.2 619.6L530.6 620.4L529.8 622.0L529.0 620.4ZM535.2 619.6L536.8 618.8L537.6 617.2L538.4 618.8L540.0 619.6L538.4 620.4L537.6 622.0L536.8 620.4ZM543.0 619.6L544.6 618.8L545.4 617.2L546.2 618.8L547.8 619.6L546.2 620.4L545.4 622.0L544.6 620.4ZM550.9 619.6L552.5 618.8L553.3 617.2L554.1 618.8L555.7 619.6L554.1 620.4L553.3 622.0L552.5 620.4ZM558.7 619.6L560.3 618.8L561.1 617.2L561.9 618.8L563.5 619.6L561.9 620.4L561.1 622.0L560.3 620.4ZM566.5 619.6L568.1 618.8L568.9 617.2L569.7 618.8L571.3 619.6L569.7 620.4L568.9 622.0L568.1 620.4ZM574.3 619.6L575.9 618.8L576.7 617.2L577.5 618.8L579.1 619.6L577.5 620.4L576.7 622.0L575.9 620.4ZM582.2 619.6L583.8 618.8L584.6 617.2L585.4 618.8L587.0 619.6L585.4 620.4L584.6 622.0L583.8 620.4ZM590.0 619.6L591.6 618.8L592.4 617.2L593.2 618.8L594.8 619.6L593.2 620.4L592.4 622.0L591.6 620.4ZM597.8 619.6L599.4 618.8L600.2 617.2L601.0 618.8L602.6 619.6L601.0 620.4L600.2 622.0L599.4 620.4ZM605.6 619.6L607.2 618.8L608.0 617.2L608.8 618.8L610.4 619.6L608.8 620.4L608.0 622.0L607.2 620.4ZM613.5 619.6L615.1 618.8L615.9 617.2L616.7 618.8L618.3 619.6L616.7 620.4L615.9 622.0L615.1 620.4ZM621.3 619.6L622.9 618.8L623.7 617.2L624.5 618.8L626.1 619.6L624.5 620.4L623.7 622.0L622.9 620.4ZM629.1 619.6L630.7 618.8L631.5 617.2L632.3 618.8L633.9 619.6L632.3 620.4L631.5 622.0L630.7 620.4ZM636.9 619.6L638.5 618.8L639.3 617.2L640.1 618.8L641.7 619.6L640.1 620.4L639.3 622.0L638.5 620.4ZM644.8 619.6L646.4 618.8L647.2 617.2L648.0 618.8L649.6 619.6L648.0 620.4L647.2 622.0L646.4 620.4ZM652.6 619.6L654.2 618.8L655.0 617.2L655.8 618.8L657.4 619.6L655.8 620.4L655.0 622.0L654.2 620.4ZM660.4 619.6L662.0 618.8L662.8 617.2L663.6 618.8L665.2 619.6L663.6 620.4L662.8 622.0L662.0 620.4ZM668.2 619.6L669.8 618.8L670.6 617.2L671.4 618.8L673.0 619.6L671.4 620.4L670.6 622.0L669.8 620.4ZM676.0 619.6L677.6 618.8L678.4 617.2L679.2 618.8L680.8 619.6L679.2 620.4L678.4 622.0L677.6 620.4ZM683.9 619.6L685.5 618.8L686.3 617.2L687.1 618.8L688.7 619.6L687.1 620.4L686.3 622.0L685.5 620.4ZM691.7 619.6L693.3 618.8L694.1 617.2L694.9 618.8L696.5 619.6L694.9 620.4L694.1 622.0L693.3 620.4ZM699.5 619.6L701.1 618.8L701.9 617.2L702.7 618.8L704.3 619.6L702.7 620.4L701.9 622.0L701.1 620.4ZM707.3 619.6L708.9 618.8L709.7 617.2L710.5 618.8L712.1 619.6L710.5 620.4L709.7 622.0L708.9 620.4ZM715.2 619.6L716.8 618.8L717.6 617.2L718.4 618.8L720.0 619.6L718.4 620.4L717.6 622.0L716.8 620.4ZM723.0 619.6L724.6 618.8L725.4 617.2L726.2 618.8L727.8 619.6L726.2 620.4L725.4 622.0L724.6 620.4ZM730.8 619.6L732.4 618.8L733.2 617.2L734.0 618.8L735.6 619.6L734.0 620.4L733.2 622.0L732.4 620.4ZM738.6 619.6L740.2 618.8L741.0 617.2L741.8 618.8L743.4 619.6L741.8 620.4L741.0 622.0L740.2 620.4ZM746.5 619.6L748.1 618.8L748.9 617.2L749.7 618.8L751.3 619.6L749.7 620.4L748.9 622.0L748.1 620.4ZM754.3 619.6L755.9 618.8L756.7 617.2L757.5 618.8L759.1 619.6L757.5 620.4L756.7 622.0L755.9 620.4ZM762.1 619.6L763.7 618.8L764.5 617.2L765.3 618.8L766.9 619.6L765.3 620.4L764.5 622.0L763.7 620.4ZM769.9 619.6L771.5 618.8L772.3 617.2L773.1 618.8L774.7 619.6L773.1 620.4L772.3 622.0L771.5 620.4ZM777.8 619.6L779.4 618.8L780.2 617.2L781.0 618.8L782.6 619.6L781.0 620.4L780.2 622.0L779.4 620.4ZM785.6 619.6L787.2 618.8L788.0 617.2L788.8 618.8L790.4 619.6L788.8 620.4L788.0 622.0L787.2 620.4ZM793.4 619.6L795.0 618.8L795.8 617.2L796.6 618.8L798.2 619.6L796.6 620.4L795.8 622.0L795.0 620.4ZM801.2 619.6L802.8 618.8L803.6 617.2L804.4 618.8L806.0 619.6L804.4 620.4L803.6 622.0L802.8 620.4ZM809.1 619.6L810.7 618.8L811.5 617.2L812.3 618.8L813.9 619.6L812.3 620.4L811.5 622.0L810.7 620.4ZM816.9 619.6L818.5 618.8L819.3 617.2L820.1 618.8L821.7 619.6L820.1 620.4L819.3 622.0L818.5 620.4ZM824.7 619.6L826.3 618.8L827.1 617.2L827.9 618.8L829.5 619.6L827.9 620.4L827.1 622.0L826.3 620.4ZM832.5 619.6L834.1 618.8L834.9 617.2L835.7 618.8L837.3 619.6L835.7 620.4L834.9 622.0L834.1 620.4ZM840.4 619.6L842.0 618.8L842.8 617.2L843.6 618.8L845.2 619.6L843.6 620.4L842.8 622.0L842.0 620.4ZM848.2 619.6L849.8 618.8L850.6 617.2L851.4 618.8L853.0 619.6L851.4 620.4L850.6 622.0L849.8 620.4ZM856.0 619.6L857.6 618.8L858.4 617.2L859.2 618.8L860.8 619.6L859.2 620.4L858.4 622.0L857.6 620.4ZM73.6 1135.4L75.2 1134.6L76.0 1133.0L76.8 1134.6L78.4 1135.4L76.8 1136.2L76.0 1137.8L75.2 1136.2ZM81.4 1130.9L83.0 1130.1L83.8 1128.5L84.6 1130.1L86.2 1130.9L84.6 1131.7L83.8 1133.3L83.0 1131.7ZM89.2 1126.8L90.8 1126.0L91.6 1124.4L92.4 1126.0L94.0 1126.8L92.4 1127.6L91.6 1129.2L90.8 1127.6ZM97.1 1132.8L98.7 1132.0L99.5 1130.4L100.3 1132.0L101.9 1132.8L100.3 1133.6L99.5 1135.2L98.7 1133.6ZM104.9 1119.9L106.5 1119.1L107.3 1117.5L108.1 1119.1L109.7 1119.9L108.1 1120.7L107.3 1122.3L106.5 1120.7ZM112.7 1119.3L114.3 1118.5L115.1 1116.9L115.9 1118.5L117.5 1119.3L115.9 1120.1L115.1 1121.7L114.3 1120.1ZM120.5 1111.5L122.1 1110.7L122.9 1109.1L123.7 1110.7L125.3 1111.5L123.7 1112.3L122.9 1113.9L122.1 1112.3ZM128.4 1104.3L130.0 1103.5L130.8 1101.9L131.6 1103.5L133.2 1104.3L131.6 1105.1L130.8 1106.7L130.0 1105.1ZM136.2 1104.2L137.8 1103.4L138.6 1101.8L139.4 1103.4L141.0 1104.2L139.4 1105.0L138.6 1106.6L137.8 1105.0ZM144.0 1106.8L145.6 1106.0L146.4 1104.4L147.2 1106.0L148.8 1106.8L147.2 1107.6L146.4 1109.2L145.6 1107.6ZM151.8 1084.7L153.4 1083.9L154.2 1082.3L155.0 1083.9L156.6 1084.7L155.0 1085.5L154.2 1087.1L153.4 1085.5ZM159.7 1085.0L161.3 1084.2L162.1 1082.6L162.9 1084.2L164.5 1085.0L162.9 1085.8L162.1 1087.4L161.3 1085.8ZM167.5 1072.7L169.1 1071.9L169.9 1070.3L170.7 1071.9L172.3 1072.7L170.7 1073.5L169.9 1075.1L169.1 1073.5ZM175.3 1065.4L176.9 1064.6L177.7 1063.0L178.5 1064.6L180.1 1065.4L178.5 1066.2L177.7 1067.8L176.9 1066.2ZM183.1 1052.4L184.7 1051.6L185.5 1050.0L186.3 1051.6L187.9 1052.4L186.3 1053.2L185.5 1054.8L184.7 1053.2ZM191.0 1061.0L192.6 1060.2L193.4 1058.6L194.2 1060.2L195.8 1061.0L194.2 1061.8L193.4 1063.4L192.6 1061.8ZM198.8 1012.6L200.4 1011.8L201.2 1010.2L202.0 1011.8L203.6 1012.6L202.0 1013.4L201.2 1015.0L200.4 1013.4ZM206.6 1009.8L208.2 1009.0L209.0 1007.4L209.8 1009.0L211.4 1009.8L209.8 1010.6L209.0 1012.2L208.2 1010.6ZM214.4 986.4L216.0 985.6L216.8 984.0L217.6 985.6L219.2 986.4L217.6 987.2L216.8 988.8L216.0 987.2ZM222.3 961.7L223.9 960.9L224.7 959.3L225.5 960.9L227.1 961.7L225.5 962.5L224.7 964.1L223.9 962.5ZM230.1 970.0L231.7 969.2L232.5 967.6L233.3 969.2L234.9 970.0L233.3 970.8L232.5 972.4L231.7 970.8ZM237.9 977.4L239.5 976.6L240.3 975.0L241.1 976.6L242.7 977.4L241.1 978.2L240.3 979.8L239.5 978.2ZM245.7 951.0L247.3 950.2L248.1 948.6L248.9 950.2L250.5 951.0L248.9 951.8L248.1 953.4L247.3 951.8ZM253.6 939.4L255.2 938.6L256.0 937.0L256.8 938.6L258.4 939.4L256.8 940.2L256.0 941.8L255.2 940.2ZM261.4 914.7L263.0 913.9L263.8 912.3L264.6 913.9L266.2 914.7L264.6 915.5L263.8 917.1L263.0 915.5ZM269.2 891.3L270.8 890.5L271.6 888.9L272.4 890.5L274.0 891.3L272.4 892.1L271.6 893.7L270.8 892.1ZM277.0 902.3L278.6 901.5L279.4 899.9L280.2 901.5L281.8 902.3L280.2 903.1L279.4 904.7L278.6 903.1ZM284.8 856.4L286.4 855.6L287.2 854.0L288.0 855.6L289.6 856.4L288.0 857.2L287.2 858.8L286.4 857.2ZM292.7 864.7L294.3 863.9L295.1 862.3L295.9 863.9L297.5 864.7L295.9 865.5L295.1 867.1L294.3 865.5ZM300.5 826.4L302.1 825.6L302.9 824.0L303.7 825.6L305.3 826.4L303.7 827.2L302.9 828.8L302.1 827.2ZM308.3 816.9L309.9 816.1L310.7 814.5L311.5 816.1L313.1 816.9L311.5 817.7L310.7 819.3L309.9 817.7ZM316.1 805.1L317.7 804.3L318.5 802.7L319.3 804.3L320.9 805.1L319.3 805.9L318.5 807.5L317.7 805.9ZM324.0 788.5L325.6 787.7L326.4 786.1L327.2 787.7L328.8 788.5L327.2 789.3L326.4 790.9L325.6 789.3ZM331.8 780.9L333.4 780.1L334.2 778.5L335.0 780.1L336.6 780.9L335.0 781.7L334.2 783.3L333.4 781.7ZM339.6 769.2L341.2 768.4L342.0 766.8L342.8 768.4L344.4 769.2L342.8 770.0L342.0 771.6L341.2 770.0ZM347.4 769.2L349.0 768.4L349.8 766.8L350.6 768.4L352.2 769.2L350.6 770.0L349.8 771.6L349.0 770.0ZM355.3 739.5L356.9 738.7L357.7 737.1L358.5 738.7L360.1 739.5L358.5 740.3L357.7 741.9L356.9 740.3ZM363.1 709.3L364.7 708.5L365.5 706.9L366.3 708.5L367.9 709.3L366.3 710.1L365.5 711.7L364.7 710.1ZM370.9 698.9L372.5 698.1L373.3 696.5L374.1 698.1L375.7 698.9L374.1 699.7L373.3 701.3L372.5 699.7ZM378.7 697.0L380.3 696.2L381.1 694.6L381.9 696.2L383.5 697.0L381.9 697.8L381.1 699.4L380.3 697.8ZM386.6 694.9L388.2 694.1L389.0 692.5L389.8 694.1L391.4 694.9L389.8 695.7L389.0 697.3L388.2 695.7ZM394.4 699.9L396.0 699.1L396.8 697.5L397.6 699.1L399.2 699.9L397.6 700.7L396.8 702.3L396.0 700.7ZM402.2 674.1L403.8 673.3L404.6 671.7L405.4 673.3L407.0 674.1L405.4 674.9L404.6 676.5L403.8 674.9ZM410.0 680.5L411.6 679.7L412.4 678.1L413.2 679.7L414.8 680.5L413.2 681.3L412.4 682.9L411.6 681.3ZM417.9 674.6L419.5 673.8L420.3 672.2L421.1 673.8L422.7 674.6L421.1 675.4L420.3 677.0L419.5 675.4ZM425.7 670.7L427.3 669.9L428.1 668.3L428.9 669.9L430.5 670.7L428.9 671.5L428.1 673.1L427.3 671.5ZM433.5 662.8L435.1 662.0L435.9 660.4L436.7 662.0L438.3 662.8L436.7 663.6L435.9 665.2L435.1 663.6ZM441.3 661.9L442.9 661.1L443.7 659.5L444.5 661.1L446.1 661.9L444.5 662.7L443.7 664.3L442.9 662.7ZM449.2 655.3L450.8 654.5L451.6 652.9L452.4 654.5L454.0 655.3L452.4 656.1L451.6 657.7L450.8 656.1ZM457.0 657.7L458.6 656.9L459.4 655.3L460.2 656.9L461.8 657.7L460.2 658.5L459.4 660.1L458.6 658.5ZM464.8 649.8L466.4 649.0L467.2 647.4L468.0 649.0L469.6 649.8L468.0 650.6L467.2 652.2L466.4 650.6ZM472.6 631.9L474.2 631.1L475.0 629.5L475.8 631.1L477.4 631.9L475.8 632.7L475.0 634.3L474.2 632.7ZM480.4 642.1L482.0 641.3L482.8 639.7L483.6 641.3L485.2 642.1L483.6 642.9L482.8 644.5L482.0 642.9ZM488.3 640.5L489.9 639.7L490.7 638.1L491.5 639.7L493.1 640.5L491.5 641.3L490.7 642.9L489.9 641.3ZM496.1 634.6L497.7 633.8L498.5 632.2L499.3 633.8L500.9 634.6L499.3 635.4L498.5 637.0L497.7 635.4ZM503.9 631.9L505.5 631.1L506.3 629.5L507.1 631.1L508.7 631.9L507.1 632.7L506.3 634.3L505.5 632.7ZM511.7 637.9L513.3 637.1L514.1 635.5L514.9 637.1L516.5 637.9L514.9 638.7L514.1 640.3L513.3 638.7ZM519.6 632.4L521.2 631.6L522.0 630.0L522.8 631.6L524.4 632.4L522.8 633.2L522.0 634.8L521.2 633.2ZM527.4 626.8L529.0 626.0L529.8 624.4L530.6 626.0L532.2 626.8L530.6 627.6L529.8 629.2L529.0 627.6ZM535.2 628.0L536.8 627.2L537.6 625.6L538.4 627.2L540.0 628.0L538.4 628.8L537.6 630.4L536.8 628.8ZM543.0 627.4L544.6 626.6L545.4 625.0L546.2 626.6L547.8 627.4L546.2 628.2L545.4 629.8L544.6 628.2ZM550.9 622.1L552.5 621.3L553.3 619.7L554.1 621.3L555.7 622.1L554.1 622.9L553.3 624.5L552.5 622.9ZM558.7 627.8L560.3 627.0L561.1 625.4L561.9 627.0L563.5 627.8L561.9 628.6L561.1 630.2L560.3 628.6ZM566.5 624.9L568.1 624.1L568.9 622.5L569.7 624.1L571.3 624.9L569.7 625.7L568.9 627.3L568.1 625.7ZM574.3 625.6L575.9 624.8L576.7 623.2L577.5 624.8L579.1 625.6L577.5 626.4L576.7 628.0L575.9 626.4ZM582.2 620.3L583.8 619.5L584.6 617.9L585.4 619.5L587.0 620.3L585.4 621.1L584.6 622.7L583.8 621.1ZM590.0 627.4L591.6 626.6L592.4 625.0L593.2 626.6L594.8 627.4L593.2 628.2L592.4 629.8L591.6 628.2ZM597.8 624.0L599.4 623.2L600.2 621.6L601.0 623.2L602.6 624.0L601.0 624.8L600.2 626.4L599.4 624.8ZM605.6 623.3L607.2 622.5L608.0 620.9L608.8 622.5L610.4 623.3L608.8 624.1L608.0 625.7L607.2 624.1ZM613.5 620.8L615.1 620.0L615.9 618.4L616.7 620.0L618.3 620.8L616.7 621.6L615.9 623.2L615.1 621.6ZM621.3 620.6L622.9 619.8L623.7 618.2L624.5 619.8L626.1 620.6L624.5 621.4L623.7 623.0L622.9 621.4ZM629.1 619.6L630.7 618.8L631.5 617.2L632.3 618.8L633.9 619.6L632.3 620.4L631.5 622.0L630.7 620.4ZM636.9 623.2L638.5 622.4L639.3 620.8L640.1 622.4L641.7 623.2L640.1 624.0L639.3 625.6L638.5 624.0ZM644.8 619.9L646.4 619.1L647.2 617.5L648.0 619.1L649.6 619.9L648.0 620.7L647.2 622.3L646.4 620.7ZM652.6 621.0L654.2 620.2L655.0 618.6L655.8 620.2L657.4 621.0L655.8 621.8L655.0 623.4L654.2 621.8ZM660.4 621.2L662.0 620.4L662.8 618.8L663.6 620.4L665.2 621.2L663.6 622.0L662.8 623.6L662.0 622.0ZM668.2 619.8L669.8 619.0L670.6 617.4L671.4 619.0L673.0 619.8L671.4 620.6L670.6 622.2L669.8 620.6ZM676.0 621.0L677.6 620.2L678.4 618.6L679.2 620.2L680.8 621.0L679.2 621.8L678.4 623.4L677.6 621.8ZM683.9 621.8L685.5 621.0L686.3 619.4L687.1 621.0L688.7 621.8L687.1 622.6L686.3 624.2L685.5 622.6ZM691.7 620.3L693.3 619.5L694.1 617.9L694.9 619.5L696.5 620.3L694.9 621.1L694.1 622.7L693.3 621.1ZM699.5 620.9L701.1 620.1L701.9 618.5L702.7 620.1L704.3 620.9L702.7 621.7L701.9 623.3L701.1 621.7ZM707.3 620.3L708.9 619.5L709.7 617.9L710.5 619.5L712.1 620.3L710.5 621.1L709.7 622.7L708.9 621.1ZM715.2 619.6L716.8 618.8L717.6 617.2L718.4 618.8L720.0 619.6L718.4 620.4L717.6 622.0L716.8 620.4ZM723.0 619.6L724.6 618.8L725.4 617.2L726.2 618.8L727.8 619.6L726.2 620.4L725.4 622.0L724.6 620.4ZM730.8 619.6L732.4 618.8L733.2 617.2L734.0 618.8L735.6 619.6L734.0 620.4L733.2 622.0L732.4 620.4ZM738.6 619.8L740.2 619.0L741.0 617.4L741.8 619.0L743.4 619.8L741.8 620.6L741.0 622.2L740.2 620.6ZM746.5 620.2L748.1 619.4L748.9 617.8L749.7 619.4L751.3 620.2L749.7 621.0L748.9 622.6L748.1 621.0ZM754.3 619.9L755.9 619.1L756.7 617.5L757.5 619.1L759.1 619.9L757.5 620.7L756.7 622.3L755.9 620.7ZM762.1 619.9L763.7 619.1L764.5 617.5L765.3 619.1L766.9 619.9L765.3 620.7L764.5 622.3L763.7 620.7ZM769.9 619.9L771.5 619.1L772.3 617.5L773.1 619.1L774.7 619.9L773.1 620.7L772.3 622.3L771.5 620.7ZM777.8 619.6L779.4 618.8L780.2 617.2L781.0 618.8L782.6 619.6L781.0 620.4L780.2 622.0L779.4 620.4ZM785.6 619.7L787.2 618.9L788.0 617.3L788.8 618.9L790.4 619.7L788.8 620.5L788.0 622.1L787.2 620.5ZM793.4 619.9L795.0 619.1L795.8 617.5L796.6 619.1L798.2 619.9L796.6 620.7L795.8 622.3L795.0 620.7ZM801.2 619.6L802.8 618.8L803.6 617.2L804.4 618.8L806.0 619.6L804.4 620.4L803.6 622.0L802.8 620.4ZM809.1 619.6L810.7 618.8L811.5 617.2L812.3 618.8L813.9 619.6L812.3 620.4L811.5 622.0L810.7 620.4ZM816.9 619.6L818.5 618.8L819.3 617.2L820.1 618.8L821.7 619.6L820.1 620.4L819.3 622.0L818.5 620.4ZM824.7 619.6L826.3 618.8L827.1 617.2L827.9 618.8L829.5 619.6L827.9 620.4L827.1 622.0L826.3 620.4ZM832.5 619.6L834.1 618.8L834.9 617.2L835.7 618.8L837.3 619.6L835.7 620.4L834.9 622.0L834.1 620.4ZM840.4 619.6L842.0 618.8L842.8 617.2L843.6 618.8L845.2 619.6L843.6 620.4L842.8 622.0L842.0 620.4ZM848.2 619.6L849.8 618.8L850.6 617.2L851.4 618.8L853.0 619.6L851.4 620.4L850.6 622.0L849.8 620.4ZM856.0 619.6L857.6 618.8L858.4 617.2L859.2 618.8L860.8 619.6L859.2 620.4L858.4 622.0L857.6 620.4ZM73.6 1135.4L75.2 1134.6L76.0 1133.0L76.8 1134.6L78.4 1135.4L76.8 1136.2L76.0 1137.8L75.2 1136.2ZM81.4 1133.3L83.0 1132.5L83.8 1130.9L84.6 1132.5L86.2 1133.3L84.6 1134.1L83.8 1135.7L83.0 1134.1ZM89.2 1135.2L90.8 1134.4L91.6 1132.8L92.4 1134.4L94.0 1135.2L92.4 1136.0L91.6 1137.6L90.8 1136.0ZM97.1 1131.2L98.7 1130.4L99.5 1128.8L100.3 1130.4L101.9 1131.2L100.3 1132.0L99.5 1133.6L98.7 1132.0ZM104.9 1130.0L106.5 1129.2L107.3 1127.6L108.1 1129.2L109.7 1130.0L108.1 1130.8L107.3 1132.4L106.5 1130.8ZM112.7 1127.1L114.3 1126.3L115.1 1124.7L115.9 1126.3L117.5 1127.1L115.9 1127.9L115.1 1129.5L114.3 1127.9ZM120.5 1130.8L122.1 1130.0L122.9 1128.4L123.7 1130.0L125.3 1130.8L123.7 1131.6L122.9 1133.2L122.1 1131.6ZM128.4 1118.2L130.0 1117.4L130.8 1115.8L131.6 1117.4L133.2 1118.2L131.6 1119.0L130.8 1120.6L130.0 1119.0ZM136.2 1121.8L137.8 1121.0L138.6 1119.4L139.4 1121.0L141.0 1121.8L139.4 1122.6L138.6 1124.2L137.8 1122.6ZM144.0 1125.2L145.6 1124.4L146.4 1122.8L147.2 1124.4L148.8 1125.2L147.2 1126.0L146.4 1127.6L145.6 1126.0ZM151.8 1125.3L153.4 1124.5L154.2 1122.9L155.0 1124.5L156.6 1125.3L155.0 1126.1L154.2 1127.7L153.4 1126.1ZM159.7 1115.6L161.3 1114.8L162.1 1113.2L162.9 1114.8L164.5 1115.6L162.9 1116.4L162.1 1118.0L161.3 1116.4ZM167.5 1111.3L169.1 1110.5L169.9 1108.9L170.7 1110.5L172.3 1111.3L170.7 1112.1L169.9 1113.7L169.1 1112.1ZM175.3 1111.4L176.9 1110.6L177.7 1109.0L178.5 1110.6L180.1 1111.4L178.5 1112.2L177.7 1113.8L176.9 1112.2ZM183.1 1102.6L184.7 1101.8L185.5 1100.2L186.3 1101.8L187.9 1102.6L186.3 1103.4L185.5 1105.0L184.7 1103.4ZM191.0 1103.1L192.6 1102.3L193.4 1100.7L194.2 1102.3L195.8 1103.1L194.2 1103.9L193.4 1105.5L192.6 1103.9ZM198.8 1090.3L200.4 1089.5L201.2 1087.9L202.0 1089.5L203.6 1090.3L202.0 1091.1L201.2 1092.7L200.4 1091.1ZM206.6 1094.5L208.2 1093.7L209.0 1092.1L209.8 1093.7L211.4 1094.5L209.8 1095.3L209.0 1096.9L208.2 1095.3ZM214.4 1084.0L216.0 1083.2L216.8 1081.6L217.6 1083.2L219.2 1084.0L217.6 1084.8L216.8 1086.4L216.0 1084.8ZM222.3 1070.0L223.9 1069.2L224.7 1067.6L225.5 1069.2L227.1 1070.0L225.5 1070.8L224.7 1072.4L223.9 1070.8ZM230.1 1050.0L231.7 1049.2L232.5 1047.6L233.3 1049.2L234.9 1050.0L233.3 1050.8L232.5 1052.4L231.7 1050.8ZM237.9 1074.2L239.5 1073.4L240.3 1071.8L241.1 1073.4L242.7 1074.2L241.1 1075.0L240.3 1076.6L239.5 1075.0ZM245.7 1062.7L247.3 1061.9L248.1 1060.3L248.9 1061.9L250.5 1062.7L248.9 1063.5L248.1 1065.1L247.3 1063.5ZM253.6 1059.2L255.2 1058.4L256.0 1056.8L256.8 1058.4L258.4 1059.2L256.8 1060.0L256.0 1061.6L255.2 1060.0ZM261.4 1035.8L263.0 1035.0L263.8 1033.4L264.6 1035.0L266.2 1035.8L264.6 1036.6L263.8 1038.2L263.0 1036.6ZM269.2 1047.4L270.8 1046.6L271.6 1045.0L272.4 1046.6L274.0 1047.4L272.4 1048.2L271.6 1049.8L270.8 1048.2ZM277.0 1032.6L278.6 1031.8L279.4 1030.2L280.2 1031.8L281.8 1032.6L280.2 1033.4L279.4 1035.0L278.6 1033.4ZM284.8 1019.3L286.4 1018.5L287.2 1016.9L288.0 1018.5L289.6 1019.3L288.0 1020.1L287.2 1021.7L286.4 1020.1ZM292.7 1021.0L294.3 1020.2L295.1 1018.6L295.9 1020.2L297.5 1021.0L295.9 1021.8L295.1 1023.4L294.3 1021.8ZM300.5 1012.0L302.1 1011.2L302.9 1009.6L303.7 1011.2L305.3 1012.0L303.7 1012.8L302.9 1014.4L302.1 1012.8ZM308.3 997.4L309.9 996.6L310.7 995.0L311.5 996.6L313.1 997.4L311.5 998.2L310.7 999.8L309.9 998.2ZM316.1 1007.2L317.7 1006.4L318.5 1004.8L319.3 1006.4L320.9 1007.2L319.3 1008.0L318.5 1009.6L317.7 1008.0ZM324.0 990.2L325.6 989.4L326.4 987.8L327.2 989.4L328.8 990.2L327.2 991.0L326.4 992.6L325.6 991.0ZM331.8 968.2L333.4 967.4L334.2 965.8L335.0 967.4L336.6 968.2L335.0 969.0L334.2 970.6L333.4 969.0ZM339.6 951.5L341.2 950.7L342.0 949.1L342.8 950.7L344.4 951.5L342.8 952.3L342.0 953.9L341.2 952.3ZM347.4 945.7L349.0 944.9L349.8 943.3L350.6 944.9L352.2 945.7L350.6 946.5L349.8 948.1L349.0 946.5ZM355.3 955.7L356.9 954.9L357.7 953.3L358.5 954.9L360.1 955.7L358.5 956.5L357.7 958.1L356.9 956.5ZM363.1 929.3L364.7 928.5L365.5 926.9L366.3 928.5L367.9 929.3L366.3 930.1L365.5 931.7L364.7 930.1ZM370.9 903.2L372.5 902.4L373.3 900.8L374.1 902.4L375.7 903.2L374.1 904.0L373.3 905.6L372.5 904.0ZM378.7 896.3L380.3 895.5L381.1 893.9L381.9 895.5L383.5 896.3L381.9 897.1L381.1 898.7L380.3 897.1ZM386.6 894.6L388.2 893.8L389.0 892.2L389.8 893.8L391.4 894.6L389.8 895.4L389.0 897.0L388.2 895.4ZM394.4 895.2L396.0 894.4L396.8 892.8L397.6 894.4L399.2 895.2L397.6 896.0L396.8 897.6L396.0 896.0ZM402.2 866.0L403.8 865.2L404.6 863.6L405.4 865.2L407.0 866.0L405.4 866.8L404.6 868.4L403.8 866.8ZM410.0 872.1L411.6 871.3L412.4 869.7L413.2 871.3L414.8 872.1L413.2 872.9L412.4 874.5L411.6 872.9ZM417.9 870.2L419.5 869.4L420.3 867.8L421.1 869.4L422.7 870.2L421.1 871.0L420.3 872.6L419.5 871.0ZM425.7 856.3L427.3 855.5L428.1 853.9L428.9 855.5L430.5 856.3L428.9 857.1L428.1 858.7L427.3 857.1ZM433.5 818.6L435.1 817.8L435.9 816.2L436.7 817.8L438.3 818.6L436.7 819.4L435.9 821.0L435.1 819.4ZM441.3 825.4L442.9 824.6L443.7 823.0L444.5 824.6L446.1 825.4L444.5 826.2L443.7 827.8L442.9 826.2ZM449.2 805.0L450.8 804.2L451.6 802.6L452.4 804.2L454.0 805.0L452.4 805.8L451.6 807.4L450.8 805.8ZM457.0 817.2L458.6 816.4L459.4 814.8L460.2 816.4L461.8 817.2L460.2 818.0L459.4 819.6L458.6 818.0ZM464.8 791.5L466.4 790.7L467.2 789.1L468.0 790.7L469.6 791.5L468.0 792.3L467.2 793.9L466.4 792.3ZM472.6 802.6L474.2 801.8L475.0 800.2L475.8 801.8L477.4 802.6L475.8 803.4L475.0 805.0L474.2 803.4ZM480.4 789.5L482.0 788.7L482.8 787.1L483.6 788.7L485.2 789.5L483.6 790.3L482.8 791.9L482.0 790.3ZM488.3 750.5L489.9 749.7L490.7 748.1L491.5 749.7L493.1 750.5L491.5 751.3L490.7 752.9L489.9 751.3ZM496.1 764.0L497.7 763.2L498.5 761.6L499.3 763.2L500.9 764.0L499.3 764.8L498.5 766.4L497.7 764.8ZM503.9 772.0L505.5 771.2L506.3 769.6L507.1 771.2L508.7 772.0L507.1 772.8L506.3 774.4L505.5 772.8ZM511.7 760.5L513.3 759.7L514.1 758.1L514.9 759.7L516.5 760.5L514.9 761.3L514.1 762.9L513.3 761.3ZM519.6 749.5L521.2 748.7L522.0 747.1L522.8 748.7L524.4 749.5L522.8 750.3L522.0 751.9L521.2 750.3ZM527.4 733.5L529.0 732.7L529.8 731.1L530.6 732.7L532.2 733.5L530.6 734.3L529.8 735.9L529.0 734.3ZM535.2 746.5L536.8 745.7L537.6 744.1L538.4 745.7L540.0 746.5L538.4 747.3L537.6 748.9L536.8 747.3ZM543.0 754.2L544.6 753.4L545.4 751.8L546.2 753.4L547.8 754.2L546.2 755.0L545.4 756.6L544.6 755.0ZM550.9 733.0L552.5 732.2L553.3 730.6L554.1 732.2L555.7 733.0L554.1 733.8L553.3 735.4L552.5 733.8ZM558.7 724.6L560.3 723.8L561.1 722.2L561.9 723.8L563.5 724.6L561.9 725.4L561.1 727.0L560.3 725.4ZM566.5 718.7L568.1 717.9L568.9 716.3L569.7 717.9L571.3 718.7L569.7 719.5L568.9 721.1L568.1 719.5ZM574.3 701.9L575.9 701.1L576.7 699.5L577.5 701.1L579.1 701.9L577.5 702.7L576.7 704.3L575.9 702.7ZM582.2 707.4L583.8 706.6L584.6 705.0L585.4 706.6L587.0 707.4L585.4 708.2L584.6 709.8L583.8 708.2ZM590.0 698.3L591.6 697.5L592.4 695.9L593.2 697.5L594.8 698.3L593.2 699.1L592.4 700.7L591.6 699.1ZM597.8 712.4L599.4 711.6L600.2 710.0L601.0 711.6L602.6 712.4L601.0 713.2L600.2 714.8L599.4 713.2ZM605.6 689.9L607.2 689.1L608.0 687.5L608.8 689.1L610.4 689.9L608.8 690.7L608.0 692.3L607.2 690.7ZM613.5 675.2L615.1 674.4L615.9 672.8L616.7 674.4L618.3 675.2L616.7 676.0L615.9 677.6L615.1 676.0ZM621.3 683.7L622.9 682.9L623.7 681.3L624.5 682.9L626.1 683.7L624.5 684.5L623.7 686.1L622.9 684.5ZM629.1 684.9L630.7 684.1L631.5 682.5L632.3 684.1L633.9 684.9L632.3 685.7L631.5 687.3L630.7 685.7ZM636.9 682.5L638.5 681.7L639.3 680.1L640.1 681.7L641.7 682.5L640.1 683.3L639.3 684.9L638.5 683.3ZM644.8 665.7L646.4 664.9L647.2 663.3L648.0 664.9L649.6 665.7L648.0 666.5L647.2 668.1L646.4 666.5ZM652.6 685.2L654.2 684.4L655.0 682.8L655.8 684.4L657.4 685.2L655.8 686.0L655.0 687.6L654.2 686.0ZM660.4 675.6L662.0 674.8L662.8 673.2L663.6 674.8L665.2 675.6L663.6 676.4L662.8 678.0L662.0 676.4ZM668.2 668.4L669.8 667.6L670.6 666.0L671.4 667.6L673.0 668.4L671.4 669.2L670.6 670.8L669.8 669.2ZM676.0 663.7L677.6 662.9L678.4 661.3L679.2 662.9L680.8 663.7L679.2 664.5L678.4 666.1L677.6 664.5ZM683.9 670.2L685.5 669.4L686.3 667.8L687.1 669.4L688.7 670.2L687.1 671.0L686.3 672.6L685.5 671.0ZM691.7 662.3L693.3 661.5L694.1 659.9L694.9 661.5L696.5 662.3L694.9 663.1L694.1 664.7L693.3 663.1ZM699.5 664.3L701.1 663.5L701.9 661.9L702.7 663.5L704.3 664.3L702.7 665.1L701.9 666.7L701.1 665.1ZM707.3 659.3L708.9 658.5L709.7 656.9L710.5 658.5L712.1 659.3L710.5 660.1L709.7 661.7L708.9 660.1ZM715.2 659.0L716.8 658.2L717.6 656.6L718.4 658.2L720.0 659.0L718.4 659.8L717.6 661.4L716.8 659.8ZM723.0 663.6L724.6 662.8L725.4 661.2L726.2 662.8L727.8 663.6L726.2 664.4L725.4 666.0L724.6 664.4ZM730.8 654.3L732.4 653.5L733.2 651.9L734.0 653.5L735.6 654.3L734.0 655.1L733.2 656.7L732.4 655.1ZM738.6 646.9L740.2 646.1L741.0 644.5L741.8 646.1L743.4 646.9L741.8 647.7L741.0 649.3L740.2 647.7ZM746.5 656.6L748.1 655.8L748.9 654.2L749.7 655.8L751.3 656.6L749.7 657.4L748.9 659.0L748.1 657.4ZM754.3 650.5L755.9 649.7L756.7 648.1L757.5 649.7L759.1 650.5L757.5 651.3L756.7 652.9L755.9 651.3ZM762.1 643.6L763.7 642.8L764.5 641.2L765.3 642.8L766.9 643.6L765.3 644.4L764.5 646.0L763.7 644.4ZM769.9 652.0L771.5 651.2L772.3 649.6L773.1 651.2L774.7 652.0L773.1 652.8L772.3 654.4L771.5 652.8ZM777.8 643.5L779.4 642.7L780.2 641.1L781.0 642.7L782.6 643.5L781.0 644.3L780.2 645.9L779.4 644.3ZM785.6 648.8L787.2 648.0L788.0 646.4L788.8 648.0L790.4 648.8L788.8 649.6L788.0 651.2L787.2 649.6ZM793.4 635.8L795.0 635.0L795.8 633.4L796.6 635.0L798.2 635.8L796.6 636.6L795.8 638.2L795.0 636.6ZM801.2 628.6L802.8 627.8L803.6 626.2L804.4 627.8L806.0 628.6L804.4 629.4L803.6 631.0L802.8 629.4ZM809.1 629.1L810.7 628.3L811.5 626.7L812.3 628.3L813.9 629.1L812.3 629.9L811.5 631.5L810.7 629.9ZM816.9 638.8L818.5 638.0L819.3 636.4L820.1 638.0L821.7 638.8L820.1 639.6L819.3 641.2L818.5 639.6ZM824.7 633.1L826.3 632.3L827.1 630.7L827.9 632.3L829.5 633.1L827.9 633.9L827.1 635.5L826.3 633.9ZM832.5 634.7L834.1 633.9L834.9 632.3L835.7 633.9L837.3 634.7L835.7 635.5L834.9 637.1L834.1 635.5ZM840.4 633.4L842.0 632.6L842.8 631.0L843.6 632.6L845.2 633.4L843.6 634.2L842.8 635.8L842.0 634.2ZM848.2 626.2L849.8 625.4L850.6 623.8L851.4 625.4L853.0 626.2L851.4 627.0L850.6 628.6L849.8 627.0ZM856.0 635.4L857.6 634.6L858.4 633.0L859.2 634.6L860.8 635.4L859.2 636.2L858.4 637.8L857.6 636.2ZM73.6 1135.4L75.2 1134.6L76.0 1133.0L76.8 1134.6L78.4 1135.4L76.8 1136.2L76.0 1137.8L75.2 1136.2ZM81.4 1135.3L83.0 1134.5L83.8 1132.9L84.6 1134.5L86.2 1135.3L84.6 1136.1L83.8 1137.7L83.0 1136.1ZM89.2 1134.0L90.8 1133.2L91.6 1131.6L92.4 1133.2L94.0 1134.0L92.4 1134.8L91.6 1136.4L90.8 1134.8ZM97.1 1134.3L98.7 1133.5L99.5 1131.9L100.3 1133.5L101.9 1134.3L100.3 1135.1L99.5 1136.7L98.7 1135.1ZM104.9 1134.8L106.5 1134.0L107.3 1132.4L108.1 1134.0L109.7 1134.8L108.1 1135.6L107.3 1137.2L106.5 1135.6ZM112.7 1132.6L114.3 1131.8L115.1 1130.2L115.9 1131.8L117.5 1132.6L115.9 1133.4L115.1 1135.0L114.3 1133.4ZM120.5 1130.6L122.1 1129.8L122.9 1128.2L123.7 1129.8L125.3 1130.6L123.7 1131.4L122.9 1133.0L122.1 1131.4ZM128.4 1130.9L130.0 1130.1L130.8 1128.5L131.6 1130.1L133.2 1130.9L131.6 1131.7L130.8 1133.3L130.0 1131.7ZM136.2 1128.4L137.8 1127.6L138.6 1126.0L139.4 1127.6L141.0 1128.4L139.4 1129.2L138.6 1130.8L137.8 1129.2ZM144.0 1129.8L145.6 1129.0L146.4 1127.4L147.2 1129.0L148.8 1129.8L147.2 1130.6L146.4 1132.2L145.6 1130.6ZM151.8 1133.8L153.4 1133.0L154.2 1131.4L155.0 1133.0L156.6 1133.8L155.0 1134.6L154.2 1136.2L153.4 1134.6ZM159.7 1121.9L161.3 1121.1L162.1 1119.5L162.9 1121.1L164.5 1121.9L162.9 1122.7L162.1 1124.3L161.3 1122.7ZM167.5 1120.8L169.1 1120.0L169.9 1118.4L170.7 1120.0L172.3 1120.8L170.7 1121.6L169.9 1123.2L169.1 1121.6ZM175.3 1121.2L176.9 1120.4L177.7 1118.8L178.5 1120.4L180.1 1121.2L178.5 1122.0L177.7 1123.6L176.9 1122.0ZM183.1 1119.8L184.7 1119.0L185.5 1117.4L186.3 1119.0L187.9 1119.8L186.3 1120.6L185.5 1122.2L184.7 1120.6ZM191.0 1113.5L192.6 1112.7L193.4 1111.1L194.2 1112.7L195.8 1113.5L194.2 1114.3L193.4 1115.9L192.6 1114.3ZM198.8 1118.7L200.4 1117.9L201.2 1116.3L202.0 1117.9L203.6 1118.7L202.0 1119.5L201.2 1121.1L200.4 1119.5ZM206.6 1118.1L208.2 1117.3L209.0 1115.7L209.8 1117.3L211.4 1118.1L209.8 1118.9L209.0 1120.5L208.2 1118.9ZM214.4 1113.5L216.0 1112.7L216.8 1111.1L217.6 1112.7L219.2 1113.5L217.6 1114.3L216.8 1115.9L216.0 1114.3ZM222.3 1103.7L223.9 1102.9L224.7 1101.3L225.5 1102.9L227.1 1103.7L225.5 1104.5L224.7 1106.1L223.9 1104.5ZM230.1 1116.1L231.7 1115.3L232.5 1113.7L233.3 1115.3L234.9 1116.1L233.3 1116.9L232.5 1118.5L231.7 1116.9ZM237.9 1098.5L239.5 1097.7L240.3 1096.1L241.1 1097.7L242.7 1098.5L241.1 1099.3L240.3 1100.9L239.5 1099.3ZM245.7 1107.2L247.3 1106.4L248.1 1104.8L248.9 1106.4L250.5 1107.2L248.9 1108.0L248.1 1109.6L247.3 1108.0ZM253.6 1107.7L255.2 1106.9L256.0 1105.3L256.8 1106.9L258.4 1107.7L256.8 1108.5L256.0 1110.1L255.2 1108.5ZM261.4 1089.3L263.0 1088.5L263.8 1086.9L264.6 1088.5L266.2 1089.3L264.6 1090.1L263.8 1091.7L263.0 1090.1ZM269.2 1095.5L270.8 1094.7L271.6 1093.1L272.4 1094.7L274.0 1095.5L272.4 1096.3L271.6 1097.9L270.8 1096.3ZM277.0 1101.1L278.6 1100.3L279.4 1098.7L280.2 1100.3L281.8 1101.1L280.2 1101.9L279.4 1103.5L278.6 1101.9ZM284.8 1091.2L286.4 1090.4L287.2 1088.8L288.0 1090.4L289.6 1091.2L288.0 1092.0L287.2 1093.6L286.4 1092.0ZM292.7 1078.1L294.3 1077.3L295.1 1075.7L295.9 1077.3L297.5 1078.1L295.9 1078.9L295.1 1080.5L294.3 1078.9ZM300.5 1072.3L302.1 1071.5L302.9 1069.9L303.7 1071.5L305.3 1072.3L303.7 1073.1L302.9 1074.7L302.1 1073.1ZM308.3 1081.5L309.9 1080.7L310.7 1079.1L311.5 1080.7L313.1 1081.5L311.5 1082.3L310.7 1083.9L309.9 1082.3ZM316.1 1070.8L317.7 1070.0L318.5 1068.4L319.3 1070.0L320.9 1070.8L319.3 1071.6L318.5 1073.2L317.7 1071.6ZM324.0 1064.1L325.6 1063.3L326.4 1061.7L327.2 1063.3L328.8 1064.1L327.2 1064.9L326.4 1066.5L325.6 1064.9ZM331.8 1071.8L333.4 1071.0L334.2 1069.4L335.0 1071.0L336.6 1071.8L335.0 1072.6L334.2 1074.2L333.4 1072.6ZM339.6 1058.7L341.2 1057.9L342.0 1056.3L342.8 1057.9L344.4 1058.7L342.8 1059.5L342.0 1061.1L341.2 1059.5ZM347.4 1057.8L349.0 1057.0L349.8 1055.4L350.6 1057.0L352.2 1057.8L350.6 1058.6L349.8 1060.2L349.0 1058.6ZM355.3 1058.1L356.9 1057.3L357.7 1055.7L358.5 1057.3L360.1 1058.1L358.5 1058.9L357.7 1060.5L356.9 1058.9ZM363.1 1053.2L364.7 1052.4L365.5 1050.8L366.3 1052.4L367.9 1053.2L366.3 1054.0L365.5 1055.6L364.7 1054.0ZM370.9 1043.0L372.5 1042.2L373.3 1040.6L374.1 1042.2L375.7 1043.0L374.1 1043.8L373.3 1045.4L372.5 1043.8ZM378.7 1038.5L380.3 1037.7L381.1 1036.1L381.9 1037.7L383.5 1038.5L381.9 1039.3L381.1 1040.9L380.3 1039.3ZM386.6 1039.7L388.2 1038.9L389.0 1037.3L389.8 1038.9L391.4 1039.7L389.8 1040.5L389.0 1042.1L388.2 1040.5ZM394.4 1033.2L396.0 1032.4L396.8 1030.8L397.6 1032.4L399.2 1033.2L397.6 1034.0L396.8 1035.6L396.0 1034.0ZM402.2 1011.8L403.8 1011.0L404.6 1009.4L405.4 1011.0L407.0 1011.8L405.4 1012.6L404.6 1014.2L403.8 1012.6ZM410.0 1016.1L411.6 1015.3L412.4 1013.7L413.2 1015.3L414.8 1016.1L413.2 1016.9L412.4 1018.5L411.6 1016.9ZM417.9 1003.4L419.5 1002.6L420.3 1001.0L421.1 1002.6L422.7 1003.4L421.1 1004.2L420.3 1005.8L419.5 1004.2ZM425.7 994.3L427.3 993.5L428.1 991.9L428.9 993.5L430.5 994.3L428.9 995.1L428.1 996.7L427.3 995.1ZM433.5 995.6L435.1 994.8L435.9 993.2L436.7 994.8L438.3 995.6L436.7 996.4L435.9 998.0L435.1 996.4ZM441.3 970.9L442.9 970.1L443.7 968.5L444.5 970.1L446.1 970.9L444.5 971.7L443.7 973.3L442.9 971.7ZM449.2 1000.8L450.8 1000.0L451.6 998.4L452.4 1000.0L454.0 1000.8L452.4 1001.6L451.6 1003.2L450.8 1001.6ZM457.0 976.3L458.6 975.5L459.4 973.9L460.2 975.5L461.8 976.3L460.2 977.1L459.4 978.7L458.6 977.1ZM464.8 984.0L466.4 983.2L467.2 981.6L468.0 983.2L469.6 984.0L468.0 984.8L467.2 986.4L466.4 984.8ZM472.6 952.5L474.2 951.7L475.0 950.1L475.8 951.7L477.4 952.5L475.8 953.3L475.0 954.9L474.2 953.3ZM480.4 948.6L482.0 947.8L482.8 946.2L483.6 947.8L485.2 948.6L483.6 949.4L482.8 951.0L482.0 949.4ZM488.3 987.3L489.9 986.5L490.7 984.9L491.5 986.5L493.1 987.3L491.5 988.1L490.7 989.7L489.9 988.1ZM496.1 969.8L497.7 969.0L498.5 967.4L499.3 969.0L500.9 969.8L499.3 970.6L498.5 972.2L497.7 970.6ZM503.9 944.2L505.5 943.4L506.3 941.8L507.1 943.4L508.7 944.2L507.1 945.0L506.3 946.6L505.5 945.0ZM511.7 937.1L513.3 936.3L514.1 934.7L514.9 936.3L516.5 937.1L514.9 937.9L514.1 939.5L513.3 937.9ZM519.6 932.3L521.2 931.5L522.0 929.9L522.8 931.5L524.4 932.3L522.8 933.1L522.0 934.7L521.2 933.1ZM527.4 937.0L529.0 936.2L529.8 934.6L530.6 936.2L532.2 937.0L530.6 937.8L529.8 939.4L529.0 937.8ZM535.2 925.0L536.8 924.2L537.6 922.6L538.4 924.2L540.0 925.0L538.4 925.8L537.6 927.4L536.8 925.8ZM543.0 917.2L544.6 916.4L545.4 914.8L546.2 916.4L547.8 917.2L546.2 918.0L545.4 919.6L544.6 918.0ZM550.9 921.2L552.5 920.4L553.3 918.8L554.1 920.4L555.7 921.2L554.1 922.0L553.3 923.6L552.5 922.0ZM558.7 901.9L560.3 901.1L561.1 899.5L561.9 901.1L563.5 901.9L561.9 902.7L561.1 904.3L560.3 902.7ZM566.5 938.8L568.1 938.0L568.9 936.4L569.7 938.0L571.3 938.8L569.7 939.6L568.9 941.2L568.1 939.6ZM574.3 896.8L575.9 896.0L576.7 894.4L577.5 896.0L579.1 896.8L577.5 897.6L576.7 899.2L575.9 897.6ZM582.2 913.3L583.8 912.5L584.6 910.9L585.4 912.5L587.0 913.3L585.4 914.1L584.6 915.7L583.8 914.1ZM590.0 882.8L591.6 882.0L592.4 880.4L593.2 882.0L594.8 882.8L593.2 883.6L592.4 885.2L591.6 883.6ZM597.8 893.3L599.4 892.5L600.2 890.9L601.0 892.5L602.6 893.3L601.0 894.1L600.2 895.7L599.4 894.1ZM605.6 897.1L607.2 896.3L608.0 894.7L608.8 896.3L610.4 897.1L608.8 897.9L608.0 899.5L607.2 897.9ZM613.5 876.3L615.1 875.5L615.9 873.9L616.7 875.5L618.3 876.3L616.7 877.1L615.9 878.7L615.1 877.1ZM621.3 888.4L622.9 887.6L623.7 886.0L624.5 887.6L626.1 888.4L624.5 889.2L623.7 890.8L622.9 889.2ZM629.1 884.0L630.7 883.2L631.5 881.6L632.3 883.2L633.9 884.0L632.3 884.8L631.5 886.4L630.7 884.8ZM636.9 888.1L638.5 887.3L639.3 885.7L640.1 887.3L641.7 888.1L640.1 888.9L639.3 890.5L638.5 888.9ZM644.8 864.1L646.4 863.3L647.2 861.7L648.0 863.3L649.6 864.1L648.0 864.9L647.2 866.5L646.4 864.9ZM652.6 853.3L654.2 852.5L655.0 850.9L655.8 852.5L657.4 853.3L655.8 854.1L655.0 855.7L654.2 854.1ZM660.4 842.5L662.0 841.7L662.8 840.1L663.6 841.7L665.2 842.5L663.6 843.3L662.8 844.9L662.0 843.3ZM668.2 853.6L669.8 852.8L670.6 851.2L671.4 852.8L673.0 853.6L671.4 854.4L670.6 856.0L669.8 854.4ZM676.0 834.5L677.6 833.7L678.4 832.1L679.2 833.7L680.8 834.5L679.2 835.3L678.4 836.9L677.6 835.3ZM683.9 844.0L685.5 843.2L686.3 841.6L687.1 843.2L688.7 844.0L687.1 844.8L686.3 846.4L685.5 844.8ZM691.7 841.9L693.3 841.1L694.1 839.5L694.9 841.1L696.5 841.9L694.9 842.7L694.1 844.3L693.3 842.7ZM699.5 829.9L701.1 829.1L701.9 827.5L702.7 829.1L704.3 829.9L702.7 830.7L701.9 832.3L701.1 830.7ZM707.3 820.3L708.9 819.5L709.7 817.9L710.5 819.5L712.1 820.3L710.5 821.1L709.7 822.7L708.9 821.1ZM715.2 834.8L716.8 834.0L717.6 832.4L718.4 834.0L720.0 834.8L718.4 835.6L717.6 837.2L716.8 835.6ZM723.0 830.4L724.6 829.6L725.4 828.0L726.2 829.6L727.8 830.4L726.2 831.2L725.4 832.8L724.6 831.2ZM730.8 826.2L732.4 825.4L733.2 823.8L734.0 825.4L735.6 826.2L734.0 827.0L733.2 828.6L732.4 827.0ZM738.6 820.2L740.2 819.4L741.0 817.8L741.8 819.4L743.4 820.2L741.8 821.0L741.0 822.6L740.2 821.0ZM746.5 829.6L748.1 828.8L748.9 827.2L749.7 828.8L751.3 829.6L749.7 830.4L748.9 832.0L748.1 830.4ZM754.3 802.6L755.9 801.8L756.7 800.2L757.5 801.8L759.1 802.6L757.5 803.4L756.7 805.0L755.9 803.4ZM762.1 817.8L763.7 817.0L764.5 815.4L765.3 817.0L766.9 817.8L765.3 818.6L764.5 820.2L763.7 818.6ZM769.9 804.4L771.5 803.6L772.3 802.0L773.1 803.6L774.7 804.4L773.1 805.2L772.3 806.8L771.5 805.2ZM777.8 817.9L779.4 817.1L780.2 815.5L781.0 817.1L782.6 817.9L781.0 818.7L780.2 820.3L779.4 818.7ZM785.6 800.8L787.2 800.0L788.0 798.4L788.8 800.0L790.4 800.8L788.8 801.6L788.0 803.2L787.2 801.6ZM793.4 798.2L795.0 797.4L795.8 795.8L796.6 797.4L798.2 798.2L796.6 799.0L795.8 800.6L795.0 799.0ZM801.2 806.0L802.8 805.2L803.6 803.6L804.4 805.2L806.0 806.0L804.4 806.8L803.6 808.4L802.8 806.8ZM809.1 773.9L810.7 773.1L811.5 771.5L812.3 773.1L813.9 773.9L812.3 774.7L811.5 776.3L810.7 774.7ZM816.9 792.2L818.5 791.4L819.3 789.8L820.1 791.4L821.7 792.2L820.1 793.0L819.3 794.6L818.5 793.0ZM824.7 773.3L826.3 772.5L827.1 770.9L827.9 772.5L829.5 773.3L827.9 774.1L827.1 775.7L826.3 774.1ZM832.5 781.7L834.1 780.9L834.9 779.3L835.7 780.9L837.3 781.7L835.7 782.5L834.9 784.1L834.1 782.5ZM840.4 800.0L842.0 799.2L842.8 797.6L843.6 799.2L845.2 800.0L843.6 800.8L842.8 802.4L842.0 800.8ZM848.2 795.6L849.8 794.8L850.6 793.2L851.4 794.8L853.0 795.6L851.4 796.4L850.6 798.0L849.8 796.4ZM856.0 785.4L857.6 784.6L858.4 783.0L859.2 784.6L860.8 785.4L859.2 786.2L858.4 787.8L857.6 786.2Z" stroke="#000" stroke-width="0.6" fill="#000"/><text x="222.9" y="677.2" text-anchor="middle">0</text><text x="285" y="677.2" text-anchor="middle">1</text><text x="394.7" y="677.2" text-anchor="middle">2</text><text x="394.7" y="857.3" text-anchor="middle">3</text><text x="394.7" y="1013.4" text-anchor="middle">4</text></g><g><rect x="76.5" y="1227.2" width="782.50" height="515.00" fill="none" stroke="#000" stroke-width="2.8"/><path d="M233.00 1227.2v7.5M233.00 1742.2v-7.5M76.5 1639.20h8M859 1639.20h-8M389.50 1227.2v7.5M389.50 1742.2v-7.5M76.5 1536.20h8M859 1536.20h-8M546.00 1227.2v7.5M546.00 1742.2v-7.5M76.5 1433.20h8M859 1433.20h-8M702.50 1227.2v7.5M702.50 1742.2v-7.5M76.5 1330.20h8M859 1330.20h-8" stroke="#000" stroke-width="2" fill="none"/><text class="t" x="67.0" y="1749.50" text-anchor="end">0</text><text class="t" x="67.0" y="1646.50" text-anchor="end">20</text><text class="t" x="67.0" y="1543.50" text-anchor="end">40</text><text class="t" x="67.0" y="1440.50" text-anchor="end">60</text><text class="t" x="67.0" y="1337.50" text-anchor="end">80</text><text class="t" x="67.0" y="1234.50" text-anchor="end">100</text><text class="t" x="76.50" y="1765.70" text-anchor="middle">0</text><text class="t" x="233.00" y="1765.70" text-anchor="middle">0.2</text><text class="t" x="389.50" y="1765.70" text-anchor="middle">0.4</text><text class="t" x="546.00" y="1765.70" text-anchor="middle">0.6</text><text class="t" x="702.50" y="1765.70" text-anchor="middle">0.8</text><text class="t" x="859.00" y="1765.70" text-anchor="middle">1</text><text x="466.25" y="1792.30" text-anchor="middle">b-ion (y-ion) probability</text><text class="r" transform="translate(22.4 1484.70) rotate(-90)" text-anchor="middle">% of correct matches</text><text class="l" x="565" y="1670.80">Peptide length = 15</text><text class="l" x="565" y="1696.40">Number of peptides = 10,000</text><text class="l" x="565" y="1722.80">Number of top scores = 50</text><path d="M76.5 1742.2 L77.2 1737.8 L77.8 1732.9 L78.5 1727.9 L79.2 1722.7 L79.8 1717.5 L80.5 1712.2 L81.1 1706.8 L81.8 1701.4 L82.5 1695.9 L83.1 1690.4 L83.8 1684.8 L84.5 1679.2 L85.1 1673.6 L85.8 1668.0 L86.4 1662.3 L87.1 1656.6 L87.8 1650.9 L88.4 1645.1 L89.1 1639.3 L89.8 1633.6 L90.4 1627.9 L91.1 1622.3 L91.8 1616.7 L92.4 1611.3 L93.1 1605.9 L93.7 1600.6 L94.4 1595.4 L95.1 1590.3 L95.7 1585.4 L96.4 1580.5 L97.1 1575.7 L97.7 1571.0 L98.4 1566.5 L99.0 1562.0 L99.7 1557.6 L100.4 1553.3 L101.0 1549.1 L101.7 1545.0 L102.4 1540.9 L103.0 1537.0 L103.7 1533.1 L104.4 1529.2 L105.0 1525.5 L105.7 1521.8 L106.3 1518.2 L107.0 1514.6 L107.7 1511.1 L108.3 1507.6 L109.0 1504.2 L109.7 1500.8 L110.3 1497.4 L111.0 1494.1 L111.6 1490.9 L112.3 1487.6 L113.0 1484.4 L113.6 1481.2 L114.3 1478.1 L115.0 1475.0 L115.6 1471.9 L117.8 1461.8 L120.0 1451.9 L122.2 1442.1 L124.4 1432.5 L126.6 1422.9 L128.8 1413.4 L131.0 1404.1 L133.2 1394.8 L135.4 1385.6 L137.6 1376.5 L139.7 1367.5 L141.9 1358.7 L144.1 1350.1 L146.3 1341.6 L148.5 1333.5 L150.7 1325.5 L152.9 1317.9 L155.1 1310.5 L157.3 1303.5 L159.5 1296.8 L161.7 1290.5 L163.9 1284.6 L166.1 1279.0 L168.3 1273.8 L170.4 1269.0 L172.6 1264.5 L174.8 1260.4 L177.0 1256.6 L179.2 1253.2 L181.4 1250.1 L183.6 1247.3 L185.8 1244.8 L188.0 1242.5 L190.2 1240.5 L192.4 1238.8 L194.6 1237.2 L196.8 1235.8 L199.0 1234.6 L201.1 1233.5 L203.3 1232.6 L205.5 1231.8 L207.7 1231.1 L209.9 1230.5 L212.1 1230.0 L214.3 1229.5 L216.5 1229.2 L218.7 1228.8 L220.9 1228.6 L223.1 1228.3 L225.3 1228.1 L227.5 1228.0 L229.7 1227.8 L231.8 1227.7 L234.0 1227.6 L236.2 1227.6 L238.4 1227.5 L240.6 1227.4 L242.8 1227.4 L245.0 1227.4 L247.2 1227.3 L249.4 1227.3 L251.6 1227.3 L253.8 1227.3 L256.0 1227.3 L258.2 1227.2 L260.4 1227.2 L262.5 1227.2 L264.7 1227.2 L266.9 1227.2 L269.1 1227.2 L271.3 1227.2 L273.5 1227.2 L275.7 1227.2 L277.9 1227.2 L280.1 1227.2 L282.3 1227.2 L284.5 1227.2 L286.7 1227.2 L288.9 1227.2 L291.1 1227.2 L293.2 1227.2 L295.4 1227.2 L297.6 1227.2 L299.8 1227.2 L302.0 1227.2 L304.2 1227.2 L306.4 1227.2 L308.6 1227.2 L310.8 1227.2 L313.0 1227.2 L315.2 1227.2 L317.4 1227.2 L319.6 1227.2 L321.8 1227.2 L323.9 1227.2 L326.1 1227.2 L328.3 1227.2 L330.5 1227.2 L332.7 1227.2 L334.9 1227.2 L337.1 1227.2 L339.3 1227.2 L341.5 1227.2 L343.7 1227.2 L345.9 1227.2 L348.1 1227.2 L350.3 1227.2 L352.5 1227.2 L354.6 1227.2 L356.8 1227.2 L359.0 1227.2 L361.2 1227.2 L363.4 1227.2 L365.6 1227.2 L367.8 1227.2 L370.0 1227.2 L372.2 1227.2 L374.4 1227.2 L376.6 1227.2 L378.8 1227.2 L381.0 1227.2 L383.2 1227.2 L385.3 1227.2 L387.5 1227.2 L389.7 1227.2 L391.9 1227.2 L394.1 1227.2 L396.3 1227.2 L398.5 1227.2 L400.7 1227.2 L402.9 1227.2 L405.1 1227.2 L407.3 1227.2 L409.5 1227.2 L411.7 1227.2 L413.9 1227.2 L416.0 1227.2 L418.2 1227.2 L420.4 1227.2 L422.6 1227.2 L424.8 1227.2 L427.0 1227.2 L429.2 1227.2 L431.4 1227.2 L433.6 1227.2 L435.8 1227.2 L438.0 1227.2 L440.2 1227.2 L442.4 1227.2 L444.6 1227.2 L446.7 1227.2 L448.9 1227.2 L451.1 1227.2 L453.3 1227.2 L455.5 1227.2 L457.7 1227.2 L459.9 1227.2 L462.1 1227.2 L464.3 1227.2 L466.5 1227.2 L468.7 1227.2 L470.9 1227.2 L473.1 1227.2 L475.3 1227.2 L477.4 1227.2 L479.6 1227.2 L481.8 1227.2 L484.0 1227.2 L486.2 1227.2 L488.4 1227.2 L490.6 1227.2 L492.8 1227.2 L495.0 1227.2 L497.2 1227.2 L499.4 1227.2 L501.6 1227.2 L503.8 1227.2 L506.0 1227.2 L508.1 1227.2 L510.3 1227.2 L512.5 1227.2 L514.7 1227.2 L516.9 1227.2 L519.1 1227.2 L521.3 1227.2 L523.5 1227.2 L525.7 1227.2 L527.9 1227.2 L530.1 1227.2 L532.3 1227.2 L534.5 1227.2 L536.7 1227.2 L538.8 1227.2 L541.0 1227.2 L543.2 1227.2 L545.4 1227.2 L547.6 1227.2 L549.8 1227.2 L552.0 1227.2 L554.2 1227.2 L556.4 1227.2 L558.6 1227.2 L560.8 1227.2 L563.0 1227.2 L565.2 1227.2 L567.4 1227.2 L569.5 1227.2 L571.7 1227.2 L573.9 1227.2 L576.1 1227.2 L578.3 1227.2 L580.5 1227.2 L582.7 1227.2 L584.9 1227.2 L587.1 1227.2 L589.3 1227.2 L591.5 1227.2 L593.7 1227.2 L595.9 1227.2 L598.1 1227.2 L600.2 1227.2 L602.4 1227.2 L604.6 1227.2 L606.8 1227.2 L609.0 1227.2 L611.2 1227.2 L613.4 1227.2 L615.6 1227.2 L617.8 1227.2 L620.0 1227.2 L622.2 1227.2 L624.4 1227.2 L626.6 1227.2 L628.8 1227.2 L630.9 1227.2 L633.1 1227.2 L635.3 1227.2 L637.5 1227.2 L639.7 1227.2 L641.9 1227.2 L644.1 1227.2 L646.3 1227.2 L648.5 1227.2 L650.7 1227.2 L652.9 1227.2 L655.1 1227.2 L657.3 1227.2 L659.5 1227.2 L661.6 1227.2 L663.8 1227.2 L666.0 1227.2 L668.2 1227.2 L670.4 1227.2 L672.6 1227.2 L674.8 1227.2 L677.0 1227.2 L679.2 1227.2 L681.4 1227.2 L683.6 1227.2 L685.8 1227.2 L688.0 1227.2 L690.2 1227.2 L692.3 1227.2 L694.5 1227.2 L696.7 1227.2 L698.9 1227.2 L701.1 1227.2 L703.3 1227.2 L705.5 1227.2 L707.7 1227.2 L709.9 1227.2 L712.1 1227.2 L714.3 1227.2 L716.5 1227.2 L718.7 1227.2 L720.9 1227.2 L723.0 1227.2 L725.2 1227.2 L727.4 1227.2 L729.6 1227.2 L731.8 1227.2 L734.0 1227.2 L736.2 1227.2 L738.4 1227.2 L740.6 1227.2 L742.8 1227.2 L745.0 1227.2 L747.2 1227.2 L749.4 1227.2 L751.6 1227.2 L753.7 1227.2 L755.9 1227.2 L758.1 1227.2 L760.3 1227.2 L762.5 1227.2 L764.7 1227.2 L766.9 1227.2 L769.1 1227.2 L771.3 1227.2 L773.5 1227.2 L775.7 1227.2 L777.9 1227.2 L780.1 1227.2 L782.3 1227.2 L784.4 1227.2 L786.6 1227.2 L788.8 1227.2 L791.0 1227.2 L793.2 1227.2 L795.4 1227.2 L797.6 1227.2 L799.8 1227.2 L802.0 1227.2 L804.2 1227.2 L806.4 1227.2 L808.6 1227.2 L810.8 1227.2 L813.0 1227.2 L815.1 1227.2 L817.3 1227.2 L819.5 1227.2 L821.7 1227.2 L823.9 1227.2 L826.1 1227.2 L828.3 1227.2 L830.5 1227.2 L832.7 1227.2 L834.9 1227.2 L837.1 1227.2 L839.3 1227.2 L841.5 1227.2 L843.7 1227.2 L845.8 1227.2 L848.0 1227.2 L850.2 1227.2 L852.4 1227.2 L854.6 1227.2 L856.8 1227.2 L859.0 1227.2" fill="none" stroke="#000" stroke-width="2.4" stroke-linejoin="round"/><path d="M76.5 1742.2 L77.2 1741.7 L77.8 1741.1 L78.5 1740.4 L79.2 1739.7 L79.8 1739.0 L80.5 1738.3 L81.1 1737.5 L81.8 1736.7 L82.5 1735.9 L83.1 1735.1 L83.8 1734.3 L84.5 1733.5 L85.1 1732.6 L85.8 1731.7 L86.4 1730.8 L87.1 1730.0 L87.8 1729.1 L88.4 1728.2 L89.1 1727.2 L89.8 1726.2 L90.4 1725.2 L91.1 1724.1 L91.8 1723.0 L92.4 1721.8 L93.1 1720.6 L93.7 1719.3 L94.4 1718.0 L95.1 1716.6 L95.7 1715.2 L96.4 1713.8 L97.1 1712.2 L97.7 1710.6 L98.4 1709.0 L99.0 1707.3 L99.7 1705.6 L100.4 1703.8 L101.0 1702.0 L101.7 1700.1 L102.4 1698.1 L103.0 1696.1 L103.7 1694.1 L104.4 1692.0 L105.0 1689.8 L105.7 1687.6 L106.3 1685.4 L107.0 1683.1 L107.7 1680.8 L108.3 1678.4 L109.0 1676.0 L109.7 1673.5 L110.3 1671.1 L111.0 1668.5 L111.6 1666.0 L112.3 1663.4 L113.0 1660.7 L113.6 1658.1 L114.3 1655.4 L115.0 1652.7 L115.6 1649.9 L117.8 1640.7 L120.0 1631.2 L122.2 1621.6 L124.4 1611.8 L126.6 1602.0 L128.8 1592.2 L131.0 1582.4 L133.2 1572.6 L135.4 1563.0 L137.6 1553.4 L139.7 1543.9 L141.9 1534.6 L144.1 1525.5 L146.3 1516.5 L148.5 1507.7 L150.7 1499.0 L152.9 1490.5 L155.1 1482.3 L157.3 1474.2 L159.5 1466.2 L161.7 1458.5 L163.9 1450.9 L166.1 1443.5 L168.3 1436.3 L170.4 1429.2 L172.6 1422.3 L174.8 1415.5 L177.0 1408.9 L179.2 1402.4 L181.4 1396.1 L183.6 1389.9 L185.8 1383.9 L188.0 1377.9 L190.2 1372.2 L192.4 1366.5 L194.6 1361.0 L196.8 1355.5 L199.0 1350.3 L201.1 1345.1 L203.3 1340.1 L205.5 1335.1 L207.7 1330.4 L209.9 1325.7 L212.1 1321.1 L214.3 1316.7 L216.5 1312.4 L218.7 1308.2 L220.9 1304.2 L223.1 1300.2 L225.3 1296.4 L227.5 1292.7 L229.7 1289.2 L231.8 1285.7 L234.0 1282.4 L236.2 1279.2 L238.4 1276.2 L240.6 1273.2 L242.8 1270.4 L245.0 1267.7 L247.2 1265.1 L249.4 1262.7 L251.6 1260.3 L253.8 1258.1 L256.0 1255.9 L258.2 1253.9 L260.4 1252.0 L262.5 1250.2 L264.7 1248.5 L266.9 1246.9 L269.1 1245.4 L271.3 1243.9 L273.5 1242.6 L275.7 1241.4 L277.9 1240.2 L280.1 1239.1 L282.3 1238.1 L284.5 1237.1 L286.7 1236.3 L288.9 1235.5 L291.1 1234.7 L293.2 1234.0 L295.4 1233.4 L297.6 1232.8 L299.8 1232.2 L302.0 1231.7 L304.2 1231.3 L306.4 1230.9 L308.6 1230.5 L310.8 1230.2 L313.0 1229.8 L315.2 1229.6 L317.4 1229.3 L319.6 1229.1 L321.8 1228.9 L323.9 1228.7 L326.1 1228.5 L328.3 1228.4 L330.5 1228.2 L332.7 1228.1 L334.9 1228.0 L337.1 1227.9 L339.3 1227.8 L341.5 1227.7 L343.7 1227.7 L345.9 1227.6 L348.1 1227.5 L350.3 1227.5 L352.5 1227.5 L354.6 1227.4 L356.8 1227.4 L359.0 1227.4 L361.2 1227.3 L363.4 1227.3 L365.6 1227.3 L367.8 1227.3 L370.0 1227.3 L372.2 1227.3 L374.4 1227.3 L376.6 1227.2 L378.8 1227.2 L381.0 1227.2 L383.2 1227.2 L385.3 1227.2 L387.5 1227.2 L389.7 1227.2 L391.9 1227.2 L394.1 1227.2 L396.3 1227.2 L398.5 1227.2 L400.7 1227.2 L402.9 1227.2 L405.1 1227.2 L407.3 1227.2 L409.5 1227.2 L411.7 1227.2 L413.9 1227.2 L416.0 1227.2 L418.2 1227.2 L420.4 1227.2 L422.6 1227.2 L424.8 1227.2 L427.0 1227.2 L429.2 1227.2 L431.4 1227.2 L433.6 1227.2 L435.8 1227.2 L438.0 1227.2 L440.2 1227.2 L442.4 1227.2 L444.6 1227.2 L446.7 1227.2 L448.9 1227.2 L451.1 1227.2 L453.3 1227.2 L455.5 1227.2 L457.7 1227.2 L459.9 1227.2 L462.1 1227.2 L464.3 1227.2 L466.5 1227.2 L468.7 1227.2 L470.9 1227.2 L473.1 1227.2 L475.3 1227.2 L477.4 1227.2 L479.6 1227.2 L481.8 1227.2 L484.0 1227.2 L486.2 1227.2 L488.4 1227.2 L490.6 1227.2 L492.8 1227.2 L495.0 1227.2 L497.2 1227.2 L499.4 1227.2 L501.6 1227.2 L503.8 1227.2 L506.0 1227.2 L508.1 1227.2 L510.3 1227.2 L512.5 1227.2 L514.7 1227.2 L516.9 1227.2 L519.1 1227.2 L521.3 1227.2 L523.5 1227.2 L525.7 1227.2 L527.9 1227.2 L530.1 1227.2 L532.3 1227.2 L534.5 1227.2 L536.7 1227.2 L538.8 1227.2 L541.0 1227.2 L543.2 1227.2 L545.4 1227.2 L547.6 1227.2 L549.8 1227.2 L552.0 1227.2 L554.2 1227.2 L556.4 1227.2 L558.6 1227.2 L560.8 1227.2 L563.0 1227.2 L565.2 1227.2 L567.4 1227.2 L569.5 1227.2 L571.7 1227.2 L573.9 1227.2 L576.1 1227.2 L578.3 1227.2 L580.5 1227.2 L582.7 1227.2 L584.9 1227.2 L587.1 1227.2 L589.3 1227.2 L591.5 1227.2 L593.7 1227.2 L595.9 1227.2 L598.1 1227.2 L600.2 1227.2 L602.4 1227.2 L604.6 1227.2 L606.8 1227.2 L609.0 1227.2 L611.2 1227.2 L613.4 1227.2 L615.6 1227.2 L617.8 1227.2 L620.0 1227.2 L622.2 1227.2 L624.4 1227.2 L626.6 1227.2 L628.8 1227.2 L630.9 1227.2 L633.1 1227.2 L635.3 1227.2 L637.5 1227.2 L639.7 1227.2 L641.9 1227.2 L644.1 1227.2 L646.3 1227.2 L648.5 1227.2 L650.7 1227.2 L652.9 1227.2 L655.1 1227.2 L657.3 1227.2 L659.5 1227.2 L661.6 1227.2 L663.8 1227.2 L666.0 1227.2 L668.2 1227.2 L670.4 1227.2 L672.6 1227.2 L674.8 1227.2 L677.0 1227.2 L679.2 1227.2 L681.4 1227.2 L683.6 1227.2 L685.8 1227.2 L688.0 1227.2 L690.2 1227.2 L692.3 1227.2 L694.5 1227.2 L696.7 1227.2 L698.9 1227.2 L701.1 1227.2 L703.3 1227.2 L705.5 1227.2 L707.7 1227.2 L709.9 1227.2 L712.1 1227.2 L714.3 1227.2 L716.5 1227.2 L718.7 1227.2 L720.9 1227.2 L723.0 1227.2 L725.2 1227.2 L727.4 1227.2 L729.6 1227.2 L731.8 1227.2 L734.0 1227.2 L736.2 1227.2 L738.4 1227.2 L740.6 1227.2 L742.8 1227.2 L745.0 1227.2 L747.2 1227.2 L749.4 1227.2 L751.6 1227.2 L753.7 1227.2 L755.9 1227.2 L758.1 1227.2 L760.3 1227.2 L762.5 1227.2 L764.7 1227.2 L766.9 1227.2 L769.1 1227.2 L771.3 1227.2 L773.5 1227.2 L775.7 1227.2 L777.9 1227.2 L780.1 1227.2 L782.3 1227.2 L784.4 1227.2 L786.6 1227.2 L788.8 1227.2 L791.0 1227.2 L793.2 1227.2 L795.4 1227.2 L797.6 1227.2 L799.8 1227.2 L802.0 1227.2 L804.2 1227.2 L806.4 1227.2 L808.6 1227.2 L810.8 1227.2 L813.0 1227.2 L815.1 1227.2 L817.3 1227.2 L819.5 1227.2 L821.7 1227.2 L823.9 1227.2 L826.1 1227.2 L828.3 1227.2 L830.5 1227.2 L832.7 1227.2 L834.9 1227.2 L837.1 1227.2 L839.3 1227.2 L841.5 1227.2 L843.7 1227.2 L845.8 1227.2 L848.0 1227.2 L850.2 1227.2 L852.4 1227.2 L854.6 1227.2 L856.8 1227.2 L859.0 1227.2" fill="none" stroke="#000" stroke-width="2.4" stroke-linejoin="round"/><path d="M76.5 1742.2 L77.2 1742.2 L77.8 1742.2 L78.5 1742.1 L79.2 1742.1 L79.8 1742.0 L80.5 1741.9 L81.1 1741.7 L81.8 1741.6 L82.5 1741.4 L83.1 1741.1 L83.8 1740.9 L84.5 1740.6 L85.1 1740.2 L85.8 1739.9 L86.4 1739.5 L87.1 1739.1 L87.8 1738.6 L88.4 1738.1 L89.1 1737.6 L89.8 1737.0 L90.4 1736.4 L91.1 1735.8 L91.8 1735.1 L92.4 1734.3 L93.1 1733.6 L93.7 1732.8 L94.4 1731.9 L95.1 1731.2 L95.7 1730.3 L96.4 1729.4 L97.1 1728.5 L97.7 1727.7 L98.4 1726.8 L99.0 1725.9 L99.7 1725.0 L100.4 1724.2 L101.0 1723.3 L101.7 1722.4 L102.4 1721.6 L103.0 1720.7 L103.7 1719.9 L104.4 1719.0 L105.0 1718.2 L105.7 1717.3 L106.3 1716.5 L107.0 1715.6 L107.7 1714.8 L108.3 1714.0 L109.0 1713.1 L109.7 1712.3 L110.3 1711.5 L111.0 1710.6 L111.6 1709.8 L112.3 1709.0 L113.0 1708.1 L113.6 1707.3 L114.3 1706.5 L115.0 1705.6 L115.6 1704.8 L117.8 1702.0 L120.0 1699.2 L122.2 1696.3 L124.4 1693.4 L126.6 1690.5 L128.8 1687.5 L131.0 1684.4 L133.2 1681.3 L135.4 1678.1 L137.6 1674.9 L139.7 1671.5 L141.9 1668.2 L144.1 1664.7 L146.3 1661.2 L148.5 1657.6 L150.7 1653.9 L152.9 1650.2 L155.1 1646.3 L157.3 1642.5 L159.5 1638.5 L161.7 1634.5 L163.9 1630.4 L166.1 1626.3 L168.3 1622.0 L170.4 1617.8 L172.6 1613.4 L174.8 1609.0 L177.0 1604.6 L179.2 1600.1 L181.4 1595.5 L183.6 1590.9 L185.8 1586.3 L188.0 1581.6 L190.2 1576.9 L192.4 1572.1 L194.6 1567.3 L196.8 1562.5 L199.0 1557.6 L201.1 1552.7 L203.3 1547.8 L205.5 1542.9 L207.7 1537.9 L209.9 1533.0 L212.1 1528.0 L214.3 1523.0 L216.5 1518.0 L218.7 1513.1 L220.9 1508.1 L223.1 1503.1 L225.3 1498.2 L227.5 1493.2 L229.7 1488.3 L231.8 1483.4 L234.0 1478.5 L236.2 1473.6 L238.4 1468.8 L240.6 1464.0 L242.8 1459.2 L245.0 1454.4 L247.2 1449.7 L249.4 1445.0 L251.6 1440.4 L253.8 1435.8 L256.0 1431.2 L258.2 1426.7 L260.4 1422.3 L262.5 1417.9 L264.7 1413.5 L266.9 1409.2 L269.1 1404.9 L271.3 1400.7 L273.5 1396.6 L275.7 1392.5 L277.9 1388.5 L280.1 1384.5 L282.3 1380.6 L284.5 1376.7 L286.7 1373.0 L288.9 1369.2 L291.1 1365.6 L293.2 1362.0 L295.4 1358.4 L297.6 1354.9 L299.8 1351.5 L302.0 1348.2 L304.2 1344.9 L306.4 1341.6 L308.6 1338.5 L310.8 1335.4 L313.0 1332.3 L315.2 1329.4 L317.4 1326.4 L319.6 1323.6 L321.8 1320.8 L323.9 1318.1 L326.1 1315.4 L328.3 1312.8 L330.5 1310.2 L332.7 1307.7 L334.9 1305.3 L337.1 1302.9 L339.3 1300.6 L341.5 1298.3 L343.7 1296.1 L345.9 1293.9 L348.1 1291.8 L350.3 1289.8 L352.5 1287.8 L354.6 1285.8 L356.8 1283.9 L359.0 1282.1 L361.2 1280.3 L363.4 1278.5 L365.6 1276.8 L367.8 1275.1 L370.0 1273.5 L372.2 1272.0 L374.4 1270.4 L376.6 1268.9 L378.8 1267.5 L381.0 1266.1 L383.2 1264.7 L385.3 1263.4 L387.5 1262.1 L389.7 1260.9 L391.9 1259.7 L394.1 1258.5 L396.3 1257.4 L398.5 1256.3 L400.7 1255.2 L402.9 1254.2 L405.1 1253.1 L407.3 1252.2 L409.5 1251.2 L411.7 1250.3 L413.9 1249.4 L416.0 1248.6 L418.2 1247.8 L420.4 1247.0 L422.6 1246.2 L424.8 1245.4 L427.0 1244.7 L429.2 1244.0 L431.4 1243.3 L433.6 1242.7 L435.8 1242.0 L438.0 1241.4 L440.2 1240.9 L442.4 1240.3 L444.6 1239.7 L446.7 1239.2 L448.9 1238.7 L451.1 1238.2 L453.3 1237.7 L455.5 1237.3 L457.7 1236.8 L459.9 1236.4 L462.1 1236.0 L464.3 1235.6 L466.5 1235.2 L468.7 1234.9 L470.9 1234.5 L473.1 1234.2 L475.3 1233.9 L477.4 1233.6 L479.6 1233.3 L481.8 1233.0 L484.0 1232.7 L486.2 1232.5 L488.4 1232.2 L490.6 1232.0 L492.8 1231.7 L495.0 1231.5 L497.2 1231.3 L499.4 1231.1 L501.6 1230.9 L503.8 1230.7 L506.0 1230.5 L508.1 1230.4 L510.3 1230.2 L512.5 1230.0 L514.7 1229.9 L516.9 1229.8 L519.1 1229.6 L521.3 1229.5 L523.5 1229.4 L525.7 1229.2 L527.9 1229.1 L530.1 1229.0 L532.3 1228.9 L534.5 1228.8 L536.7 1228.7 L538.8 1228.6 L541.0 1228.6 L543.2 1228.5 L545.4 1228.4 L547.6 1228.3 L549.8 1228.3 L552.0 1228.2 L554.2 1228.1 L556.4 1228.1 L558.6 1228.0 L560.8 1228.0 L563.0 1227.9 L565.2 1227.9 L567.4 1227.8 L569.5 1227.8 L571.7 1227.8 L573.9 1227.7 L576.1 1227.7 L578.3 1227.7 L580.5 1227.6 L582.7 1227.6 L584.9 1227.6 L587.1 1227.5 L589.3 1227.5 L591.5 1227.5 L593.7 1227.5 L595.9 1227.5 L598.1 1227.4 L600.2 1227.4 L602.4 1227.4 L604.6 1227.4 L606.8 1227.4 L609.0 1227.4 L611.2 1227.3 L613.4 1227.3 L615.6 1227.3 L617.8 1227.3 L620.0 1227.3 L622.2 1227.3 L624.4 1227.3 L626.6 1227.3 L628.8 1227.3 L630.9 1227.3 L633.1 1227.3 L635.3 1227.3 L637.5 1227.3 L639.7 1227.2 L641.9 1227.2 L644.1 1227.2 L646.3 1227.2 L648.5 1227.2 L650.7 1227.2 L652.9 1227.2 L655.1 1227.2 L657.3 1227.2 L659.5 1227.2 L661.6 1227.2 L663.8 1227.2 L666.0 1227.2 L668.2 1227.2 L670.4 1227.2 L672.6 1227.2 L674.8 1227.2 L677.0 1227.2 L679.2 1227.2 L681.4 1227.2 L683.6 1227.2 L685.8 1227.2 L688.0 1227.2 L690.2 1227.2 L692.3 1227.2 L694.5 1227.2 L696.7 1227.2 L698.9 1227.2 L701.1 1227.2 L703.3 1227.2 L705.5 1227.2 L707.7 1227.2 L709.9 1227.2 L712.1 1227.2 L714.3 1227.2 L716.5 1227.2 L718.7 1227.2 L720.9 1227.2 L723.0 1227.2 L725.2 1227.2 L727.4 1227.2 L729.6 1227.2 L731.8 1227.2 L734.0 1227.2 L736.2 1227.2 L738.4 1227.2 L740.6 1227.2 L742.8 1227.2 L745.0 1227.2 L747.2 1227.2 L749.4 1227.2 L751.6 1227.2 L753.7 1227.2 L755.9 1227.2 L758.1 1227.2 L760.3 1227.2 L762.5 1227.2 L764.7 1227.2 L766.9 1227.2 L769.1 1227.2 L771.3 1227.2 L773.5 1227.2 L775.7 1227.2 L777.9 1227.2 L780.1 1227.2 L782.3 1227.2 L784.4 1227.2 L786.6 1227.2 L788.8 1227.2 L791.0 1227.2 L793.2 1227.2 L795.4 1227.2 L797.6 1227.2 L799.8 1227.2 L802.0 1227.2 L804.2 1227.2 L806.4 1227.2 L808.6 1227.2 L810.8 1227.2 L813.0 1227.2 L815.1 1227.2 L817.3 1227.2 L819.5 1227.2 L821.7 1227.2 L823.9 1227.2 L826.1 1227.2 L828.3 1227.2 L830.5 1227.2 L832.7 1227.2 L834.9 1227.2 L837.1 1227.2 L839.3 1227.2 L841.5 1227.2 L843.7 1227.2 L845.8 1227.2 L848.0 1227.2 L850.2 1227.2 L852.4 1227.2 L854.6 1227.2 L856.8 1227.2 L859.0 1227.2" fill="none" stroke="#000" stroke-width="2.4" stroke-linejoin="round"/><path d="M76.5 1742.2 L77.2 1742.0 L77.8 1741.8 L78.5 1741.6 L79.2 1741.3 L79.8 1741.1 L80.5 1740.9 L81.1 1740.6 L81.8 1740.4 L82.5 1740.1 L83.1 1739.9 L83.8 1739.6 L84.5 1739.4 L85.1 1739.2 L85.8 1738.9 L86.4 1738.7 L87.1 1738.4 L87.8 1738.1 L88.4 1737.9 L89.1 1737.6 L89.8 1737.4 L90.4 1737.1 L91.1 1736.9 L91.8 1736.6 L92.4 1736.4 L93.1 1736.1 L93.7 1735.8 L94.4 1735.6 L95.1 1735.3 L95.7 1735.1 L96.4 1734.8 L97.1 1734.5 L97.7 1734.3 L98.4 1734.0 L99.0 1733.7 L99.7 1733.5 L100.4 1733.2 L101.0 1733.0 L101.7 1732.7 L102.4 1732.4 L103.0 1732.1 L103.7 1731.8 L104.4 1731.5 L105.0 1731.3 L105.7 1731.0 L106.3 1730.7 L107.0 1730.4 L107.7 1730.0 L108.3 1729.7 L109.0 1729.4 L109.7 1729.1 L110.3 1728.8 L111.0 1728.4 L111.6 1728.1 L112.3 1727.7 L113.0 1727.4 L113.6 1727.0 L114.3 1726.7 L115.0 1726.3 L115.6 1726.0 L117.8 1724.7 L120.0 1723.5 L122.2 1722.2 L124.4 1720.8 L126.6 1719.4 L128.8 1718.0 L131.0 1716.5 L133.2 1715.0 L135.4 1713.5 L137.6 1711.9 L139.7 1710.3 L141.9 1708.6 L144.1 1706.9 L146.3 1705.2 L148.5 1703.5 L150.7 1701.7 L152.9 1699.8 L155.1 1698.0 L157.3 1696.1 L159.5 1694.2 L161.7 1692.2 L163.9 1690.2 L166.1 1688.2 L168.3 1686.1 L170.4 1684.0 L172.6 1681.9 L174.8 1679.7 L177.0 1677.5 L179.2 1675.3 L181.4 1673.0 L183.6 1670.7 L185.8 1668.4 L188.0 1666.1 L190.2 1663.7 L192.4 1661.3 L194.6 1658.8 L196.8 1656.3 L199.0 1653.8 L201.1 1651.3 L203.3 1648.7 L205.5 1646.1 L207.7 1643.5 L209.9 1640.8 L212.1 1638.2 L214.3 1635.5 L216.5 1632.7 L218.7 1630.0 L220.9 1627.2 L223.1 1624.4 L225.3 1621.5 L227.5 1618.7 L229.7 1615.8 L231.8 1612.9 L234.0 1609.9 L236.2 1607.0 L238.4 1604.0 L240.6 1601.0 L242.8 1598.0 L245.0 1594.9 L247.2 1591.9 L249.4 1588.8 L251.6 1585.7 L253.8 1582.6 L256.0 1579.4 L258.2 1576.3 L260.4 1573.1 L262.5 1569.9 L264.7 1566.7 L266.9 1563.5 L269.1 1560.3 L271.3 1557.1 L273.5 1553.9 L275.7 1550.6 L277.9 1547.3 L280.1 1544.1 L282.3 1540.8 L284.5 1537.5 L286.7 1534.2 L288.9 1530.9 L291.1 1527.6 L293.2 1524.4 L295.4 1521.1 L297.6 1517.7 L299.8 1514.4 L302.0 1511.1 L304.2 1507.8 L306.4 1504.5 L308.6 1501.3 L310.8 1498.0 L313.0 1494.7 L315.2 1491.4 L317.4 1488.1 L319.6 1484.8 L321.8 1481.6 L323.9 1478.3 L326.1 1475.1 L328.3 1471.9 L330.5 1468.6 L332.7 1465.4 L334.9 1462.2 L337.1 1459.1 L339.3 1455.9 L341.5 1452.7 L343.7 1449.6 L345.9 1446.5 L348.1 1443.4 L350.3 1440.3 L352.5 1437.2 L354.6 1434.1 L356.8 1431.1 L359.0 1428.1 L361.2 1425.1 L363.4 1422.1 L365.6 1419.2 L367.8 1416.2 L370.0 1413.3 L372.2 1410.5 L374.4 1407.6 L376.6 1404.8 L378.8 1401.9 L381.0 1399.2 L383.2 1396.4 L385.3 1393.7 L387.5 1390.9 L389.7 1388.3 L391.9 1385.6 L394.1 1383.0 L396.3 1380.4 L398.5 1377.8 L400.7 1375.2 L402.9 1372.7 L405.1 1370.2 L407.3 1367.7 L409.5 1365.3 L411.7 1362.9 L413.9 1360.5 L416.0 1358.1 L418.2 1355.8 L420.4 1353.5 L422.6 1351.2 L424.8 1349.0 L427.0 1346.7 L429.2 1344.6 L431.4 1342.4 L433.6 1340.3 L435.8 1338.2 L438.0 1336.1 L440.2 1334.0 L442.4 1332.0 L444.6 1330.0 L446.7 1328.1 L448.9 1326.1 L451.1 1324.2 L453.3 1322.4 L455.5 1320.5 L457.7 1318.7 L459.9 1316.9 L462.1 1315.1 L464.3 1313.4 L466.5 1311.7 L468.7 1310.0 L470.9 1308.3 L473.1 1306.7 L475.3 1305.1 L477.4 1303.5 L479.6 1301.9 L481.8 1300.4 L484.0 1298.9 L486.2 1297.4 L488.4 1295.9 L490.6 1294.5 L492.8 1293.1 L495.0 1291.7 L497.2 1290.4 L499.4 1289.0 L501.6 1287.7 L503.8 1286.4 L506.0 1285.1 L508.1 1283.9 L510.3 1282.7 L512.5 1281.5 L514.7 1280.3 L516.9 1279.1 L519.1 1278.0 L521.3 1276.9 L523.5 1275.8 L525.7 1274.7 L527.9 1273.6 L530.1 1272.6 L532.3 1271.6 L534.5 1270.6 L536.7 1269.6 L538.8 1268.6 L541.0 1267.7 L543.2 1266.8 L545.4 1265.8 L547.6 1265.0 L549.8 1264.1 L552.0 1263.2 L554.2 1262.4 L556.4 1261.6 L558.6 1260.8 L560.8 1260.0 L563.0 1259.2 L565.2 1258.4 L567.4 1257.7 L569.5 1257.0 L571.7 1256.2 L573.9 1255.5 L576.1 1254.9 L578.3 1254.2 L580.5 1253.5 L582.7 1252.9 L584.9 1252.3 L587.1 1251.6 L589.3 1251.0 L591.5 1250.4 L593.7 1249.9 L595.9 1249.3 L598.1 1248.7 L600.2 1248.2 L602.4 1247.7 L604.6 1247.1 L606.8 1246.6 L609.0 1246.1 L611.2 1245.6 L613.4 1245.2 L615.6 1244.7 L617.8 1244.2 L620.0 1243.8 L622.2 1243.4 L624.4 1242.9 L626.6 1242.5 L628.8 1242.1 L630.9 1241.7 L633.1 1241.3 L635.3 1240.9 L637.5 1240.5 L639.7 1240.2 L641.9 1239.8 L644.1 1239.5 L646.3 1239.1 L648.5 1238.8 L650.7 1238.5 L652.9 1238.2 L655.1 1237.8 L657.3 1237.5 L659.5 1237.2 L661.6 1237.0 L663.8 1236.7 L666.0 1236.4 L668.2 1236.1 L670.4 1235.9 L672.6 1235.6 L674.8 1235.4 L677.0 1235.1 L679.2 1234.9 L681.4 1234.6 L683.6 1234.4 L685.8 1234.2 L688.0 1234.0 L690.2 1233.8 L692.3 1233.5 L694.5 1233.3 L696.7 1233.2 L698.9 1233.0 L701.1 1232.8 L703.3 1232.6 L705.5 1232.4 L707.7 1232.2 L709.9 1232.1 L712.1 1231.9 L714.3 1231.7 L716.5 1231.6 L718.7 1231.4 L720.9 1231.3 L723.0 1231.1 L725.2 1231.0 L727.4 1230.9 L729.6 1230.7 L731.8 1230.6 L734.0 1230.5 L736.2 1230.4 L738.4 1230.2 L740.6 1230.1 L742.8 1230.0 L745.0 1229.9 L747.2 1229.8 L749.4 1229.7 L751.6 1229.6 L753.7 1229.5 L755.9 1229.4 L758.1 1229.3 L760.3 1229.2 L762.5 1229.1 L764.7 1229.0 L766.9 1229.0 L769.1 1228.9 L771.3 1228.8 L773.5 1228.7 L775.7 1228.7 L777.9 1228.6 L780.1 1228.5 L782.3 1228.5 L784.4 1228.4 L786.6 1228.3 L788.8 1228.3 L791.0 1228.2 L793.2 1228.2 L795.4 1228.1 L797.6 1228.0 L799.8 1228.0 L802.0 1227.9 L804.2 1227.9 L806.4 1227.9 L808.6 1227.8 L810.8 1227.8 L813.0 1227.7 L815.1 1227.7 L817.3 1227.7 L819.5 1227.6 L821.7 1227.6 L823.9 1227.6 L826.1 1227.5 L828.3 1227.5 L830.5 1227.5 L832.7 1227.4 L834.9 1227.4 L837.1 1227.4 L839.3 1227.4 L841.5 1227.3 L843.7 1227.3 L845.8 1227.3 L848.0 1227.3 L850.2 1227.3 L852.4 1227.3 L854.6 1227.2 L856.8 1227.2 L859.0 1227.2" fill="none" stroke="#000" stroke-width="2.4" stroke-linejoin="round"/><path d="M76.5 1742.2 L77.2 1742.2 L77.8 1742.1 L78.5 1742.0 L79.2 1742.0 L79.8 1741.9 L80.5 1741.8 L81.1 1741.7 L81.8 1741.6 L82.5 1741.4 L83.1 1741.3 L83.8 1741.2 L84.5 1741.1 L85.1 1740.9 L85.8 1740.8 L86.4 1740.6 L87.1 1740.5 L87.8 1740.3 L88.4 1740.2 L89.1 1740.0 L89.8 1739.9 L90.4 1739.7 L91.1 1739.5 L91.8 1739.3 L92.4 1739.2 L93.1 1739.0 L93.7 1738.8 L94.4 1738.6 L95.1 1738.4 L95.7 1738.2 L96.4 1738.0 L97.1 1737.8 L97.7 1737.6 L98.4 1737.4 L99.0 1737.2 L99.7 1737.0 L100.4 1736.8 L101.0 1736.6 L101.7 1736.4 L102.4 1736.1 L103.0 1735.9 L103.7 1735.7 L104.4 1735.5 L105.0 1735.2 L105.7 1735.0 L106.3 1734.8 L107.0 1734.6 L107.7 1734.3 L108.3 1734.1 L109.0 1733.8 L109.7 1733.6 L110.3 1733.4 L111.0 1733.1 L111.6 1732.9 L112.3 1732.7 L113.0 1732.4 L113.6 1732.2 L114.3 1732.0 L115.0 1731.7 L115.6 1731.5 L117.8 1730.7 L120.0 1729.9 L122.2 1729.1 L124.4 1728.3 L126.6 1727.5 L128.8 1726.7 L131.0 1725.9 L133.2 1725.1 L135.4 1724.3 L137.6 1723.4 L139.7 1722.6 L141.9 1721.8 L144.1 1720.9 L146.3 1720.0 L148.5 1719.1 L150.7 1718.2 L152.9 1717.3 L155.1 1716.4 L157.3 1715.5 L159.5 1714.5 L161.7 1713.6 L163.9 1712.6 L166.1 1711.7 L168.3 1710.7 L170.4 1709.7 L172.6 1708.6 L174.8 1707.6 L177.0 1706.6 L179.2 1705.5 L181.4 1704.4 L183.6 1703.3 L185.8 1702.2 L188.0 1701.1 L190.2 1700.0 L192.4 1698.8 L194.6 1697.7 L196.8 1696.5 L199.0 1695.3 L201.1 1694.1 L203.3 1692.9 L205.5 1691.7 L207.7 1690.4 L209.9 1689.1 L212.1 1687.9 L214.3 1686.6 L216.5 1685.2 L218.7 1683.9 L220.9 1682.6 L223.1 1681.2 L225.3 1679.8 L227.5 1678.4 L229.7 1677.0 L231.8 1675.6 L234.0 1674.2 L236.2 1672.7 L238.4 1671.2 L240.6 1669.8 L242.8 1668.3 L245.0 1666.7 L247.2 1665.2 L249.4 1663.7 L251.6 1662.1 L253.8 1660.5 L256.0 1659.0 L258.2 1657.3 L260.4 1655.7 L262.5 1654.1 L264.7 1652.4 L266.9 1650.8 L269.1 1649.1 L271.3 1647.4 L273.5 1645.7 L275.7 1644.0 L277.9 1642.3 L280.1 1640.5 L282.3 1638.8 L284.5 1637.0 L286.7 1635.2 L288.9 1633.4 L291.1 1631.6 L293.2 1629.8 L295.4 1628.0 L297.6 1626.1 L299.8 1624.3 L302.0 1622.4 L304.2 1620.5 L306.4 1618.6 L308.6 1616.7 L310.8 1614.8 L313.0 1612.9 L315.2 1611.0 L317.4 1609.0 L319.6 1607.1 L321.8 1605.1 L323.9 1603.1 L326.1 1601.2 L328.3 1599.2 L330.5 1597.2 L332.7 1595.2 L334.9 1593.2 L337.1 1591.2 L339.3 1589.1 L341.5 1587.1 L343.7 1585.1 L345.9 1583.0 L348.1 1581.0 L350.3 1578.9 L352.5 1576.9 L354.6 1574.8 L356.8 1572.7 L359.0 1570.6 L361.2 1568.6 L363.4 1566.5 L365.6 1564.4 L367.8 1562.3 L370.0 1560.2 L372.2 1558.1 L374.4 1556.0 L376.6 1553.9 L378.8 1551.8 L381.0 1549.7 L383.2 1547.6 L385.3 1545.5 L387.5 1543.4 L389.7 1541.3 L391.9 1539.2 L394.1 1537.0 L396.3 1534.9 L398.5 1532.8 L400.7 1530.7 L402.9 1528.6 L405.1 1526.5 L407.3 1524.4 L409.5 1522.3 L411.7 1520.2 L413.9 1518.1 L416.0 1516.0 L418.2 1513.9 L420.4 1511.8 L422.6 1509.7 L424.8 1507.7 L427.0 1505.6 L429.2 1503.5 L431.4 1501.4 L433.6 1499.4 L435.8 1497.3 L438.0 1495.3 L440.2 1493.2 L442.4 1491.2 L444.6 1489.1 L446.7 1487.1 L448.9 1485.1 L451.1 1483.1 L453.3 1481.1 L455.5 1479.0 L457.7 1477.0 L459.9 1475.1 L462.1 1473.1 L464.3 1471.1 L466.5 1469.1 L468.7 1467.2 L470.9 1465.2 L473.1 1463.3 L475.3 1461.3 L477.4 1459.4 L479.6 1457.5 L481.8 1455.6 L484.0 1453.7 L486.2 1451.8 L488.4 1449.9 L490.6 1448.0 L492.8 1446.2 L495.0 1444.3 L497.2 1442.5 L499.4 1440.7 L501.6 1438.8 L503.8 1437.0 L506.0 1435.2 L508.1 1433.4 L510.3 1431.6 L512.5 1429.9 L514.7 1428.1 L516.9 1426.4 L519.1 1424.6 L521.3 1422.9 L523.5 1421.2 L525.7 1419.5 L527.9 1417.8 L530.1 1416.1 L532.3 1414.4 L534.5 1412.8 L536.7 1411.1 L538.8 1409.5 L541.0 1407.8 L543.2 1406.2 L545.4 1404.6 L547.6 1403.0 L549.8 1401.4 L552.0 1399.9 L554.2 1398.3 L556.4 1396.8 L558.6 1395.2 L560.8 1393.7 L563.0 1392.2 L565.2 1390.7 L567.4 1389.2 L569.5 1387.7 L571.7 1386.2 L573.9 1384.8 L576.1 1383.3 L578.3 1381.9 L580.5 1380.5 L582.7 1379.1 L584.9 1377.7 L587.1 1376.3 L589.3 1374.9 L591.5 1373.5 L593.7 1372.2 L595.9 1370.8 L598.1 1369.5 L600.2 1368.2 L602.4 1366.9 L604.6 1365.6 L606.8 1364.3 L609.0 1363.0 L611.2 1361.8 L613.4 1360.5 L615.6 1359.3 L617.8 1358.1 L620.0 1356.8 L622.2 1355.6 L624.4 1354.4 L626.6 1353.2 L628.8 1352.1 L630.9 1350.9 L633.1 1349.7 L635.3 1348.6 L637.5 1347.5 L639.7 1346.4 L641.9 1345.2 L644.1 1344.1 L646.3 1343.1 L648.5 1342.0 L650.7 1340.9 L652.9 1339.8 L655.1 1338.8 L657.3 1337.8 L659.5 1336.7 L661.6 1335.7 L663.8 1334.7 L666.0 1333.7 L668.2 1332.7 L670.4 1331.7 L672.6 1330.8 L674.8 1329.8 L677.0 1328.9 L679.2 1327.9 L681.4 1327.0 L683.6 1326.1 L685.8 1325.2 L688.0 1324.2 L690.2 1323.4 L692.3 1322.5 L694.5 1321.6 L696.7 1320.7 L698.9 1319.9 L701.1 1319.0 L703.3 1318.2 L705.5 1317.4 L707.7 1316.5 L709.9 1315.7 L712.1 1314.9 L714.3 1314.1 L716.5 1313.3 L718.7 1312.6 L720.9 1311.8 L723.0 1311.0 L725.2 1310.3 L727.4 1309.5 L729.6 1308.8 L731.8 1308.1 L734.0 1307.4 L736.2 1306.7 L738.4 1306.0 L740.6 1305.3 L742.8 1304.6 L745.0 1303.9 L747.2 1303.2 L749.4 1302.6 L751.6 1301.9 L753.7 1301.3 L755.9 1300.6 L758.1 1300.0 L760.3 1299.4 L762.5 1298.8 L764.7 1298.2 L766.9 1297.6 L769.1 1297.0 L771.3 1296.4 L773.5 1295.8 L775.7 1295.3 L777.9 1294.7 L780.1 1294.1 L782.3 1293.6 L784.4 1293.1 L786.6 1292.5 L788.8 1292.0 L791.0 1291.5 L793.2 1291.0 L795.4 1290.5 L797.6 1290.0 L799.8 1289.6 L802.0 1289.1 L804.2 1288.7 L806.4 1288.2 L808.6 1287.8 L810.8 1287.3 L813.0 1286.9 L815.1 1286.5 L817.3 1286.1 L819.5 1285.8 L821.7 1285.4 L823.9 1285.0 L826.1 1284.7 L828.3 1284.4 L830.5 1284.1 L832.7 1283.8 L834.9 1283.5 L837.1 1283.2 L839.3 1283.0 L841.5 1282.8 L843.7 1282.7 L845.8 1282.5 L848.0 1282.5 L850.2 1282.4 L852.4 1282.4 L854.6 1282.4 L856.8 1282.4 L859.0 1282.4" fill="none" stroke="#000" stroke-width="2.4" stroke-linejoin="round"/><path d="M74.1 1742.2L75.7 1741.4L76.5 1739.8L77.3 1741.4L78.9 1742.2L77.3 1743.0L76.5 1744.6L75.7 1743.0ZM81.9 1680.0L83.5 1679.2L84.3 1677.6L85.1 1679.2L86.7 1680.0L85.1 1680.8L84.3 1682.4L83.5 1680.8ZM89.8 1616.6L91.4 1615.8L92.2 1614.2L93.0 1615.8L94.6 1616.6L93.0 1617.4L92.2 1619.0L91.4 1617.4ZM97.6 1578.2L99.2 1577.4L100.0 1575.8L100.8 1577.4L102.4 1578.2L100.8 1579.0L100.0 1580.6L99.2 1579.0ZM105.4 1513.2L107.0 1512.4L107.8 1510.8L108.6 1512.4L110.2 1513.2L108.6 1514.0L107.8 1515.6L107.0 1514.0ZM113.2 1500.4L114.8 1499.6L115.6 1498.0L116.4 1499.6L118.0 1500.4L116.4 1501.2L115.6 1502.8L114.8 1501.2ZM121.0 1431.9L122.6 1431.1L123.4 1429.5L124.2 1431.1L125.8 1431.9L124.2 1432.7L123.4 1434.3L122.6 1432.7ZM128.9 1411.6L130.5 1410.8L131.3 1409.2L132.1 1410.8L133.7 1411.6L132.1 1412.4L131.3 1414.0L130.5 1412.4ZM136.7 1378.4L138.3 1377.6L139.1 1376.0L139.9 1377.6L141.5 1378.4L139.9 1379.2L139.1 1380.8L138.3 1379.2ZM144.5 1341.7L146.1 1340.9L146.9 1339.3L147.7 1340.9L149.3 1341.7L147.7 1342.5L146.9 1344.1L146.1 1342.5ZM152.3 1309.1L153.9 1308.3L154.8 1306.7L155.6 1308.3L157.2 1309.1L155.6 1309.9L154.8 1311.5L153.9 1309.9ZM160.2 1299.9L161.8 1299.1L162.6 1297.5L163.4 1299.1L165.0 1299.9L163.4 1300.7L162.6 1302.3L161.8 1300.7ZM168.0 1281.4L169.6 1280.6L170.4 1279.0L171.2 1280.6L172.8 1281.4L171.2 1282.2L170.4 1283.8L169.6 1282.2ZM175.8 1260.9L177.4 1260.1L178.2 1258.5L179.0 1260.1L180.6 1260.9L179.0 1261.7L178.2 1263.3L177.4 1261.7ZM183.7 1254.0L185.2 1253.2L186.1 1251.6L186.9 1253.2L188.5 1254.0L186.9 1254.8L186.1 1256.4L185.2 1254.8ZM191.5 1241.2L193.1 1240.4L193.9 1238.8L194.7 1240.4L196.3 1241.2L194.7 1242.0L193.9 1243.6L193.1 1242.0ZM199.3 1228.8L200.9 1228.0L201.7 1226.4L202.5 1228.0L204.1 1228.8L202.5 1229.6L201.7 1231.2L200.9 1229.6ZM207.1 1232.8L208.7 1232.0L209.5 1230.4L210.3 1232.0L211.9 1232.8L210.3 1233.6L209.5 1235.2L208.7 1233.6ZM214.9 1228.0L216.5 1227.2L217.3 1225.6L218.2 1227.2L219.8 1228.0L218.2 1228.8L217.3 1230.4L216.5 1228.8ZM222.8 1229.7L224.4 1228.9L225.2 1227.3L226.0 1228.9L227.6 1229.7L226.0 1230.5L225.2 1232.1L224.4 1230.5ZM230.6 1227.4L232.2 1226.6L233.0 1225.0L233.8 1226.6L235.4 1227.4L233.8 1228.2L233.0 1229.8L232.2 1228.2ZM238.4 1227.6L240.0 1226.8L240.8 1225.2L241.6 1226.8L243.2 1227.6L241.6 1228.4L240.8 1230.0L240.0 1228.4ZM246.2 1227.3L247.8 1226.5L248.7 1224.9L249.5 1226.5L251.1 1227.3L249.5 1228.1L248.7 1229.7L247.8 1228.1ZM254.1 1227.2L255.7 1226.4L256.5 1224.8L257.3 1226.4L258.9 1227.2L257.3 1228.0L256.5 1229.6L255.7 1228.0ZM261.9 1227.2L263.5 1226.4L264.3 1224.8L265.1 1226.4L266.7 1227.2L265.1 1228.0L264.3 1229.6L263.5 1228.0ZM269.7 1227.2L271.3 1226.4L272.1 1224.8L272.9 1226.4L274.5 1227.2L272.9 1228.0L272.1 1229.6L271.3 1228.0ZM277.6 1227.2L279.2 1226.4L280.0 1224.8L280.8 1226.4L282.4 1227.2L280.8 1228.0L280.0 1229.6L279.2 1228.0ZM285.4 1227.2L287.0 1226.4L287.8 1224.8L288.6 1226.4L290.2 1227.2L288.6 1228.0L287.8 1229.6L287.0 1228.0ZM293.2 1227.2L294.8 1226.4L295.6 1224.8L296.4 1226.4L298.0 1227.2L296.4 1228.0L295.6 1229.6L294.8 1228.0ZM301.0 1227.2L302.6 1226.4L303.4 1224.8L304.2 1226.4L305.8 1227.2L304.2 1228.0L303.4 1229.6L302.6 1228.0ZM308.9 1227.2L310.4 1226.4L311.2 1224.8L312.1 1226.4L313.6 1227.2L312.1 1228.0L311.2 1229.6L310.4 1228.0ZM316.7 1227.2L318.3 1226.4L319.1 1224.8L319.9 1226.4L321.5 1227.2L319.9 1228.0L319.1 1229.6L318.3 1228.0ZM324.5 1227.2L326.1 1226.4L326.9 1224.8L327.7 1226.4L329.3 1227.2L327.7 1228.0L326.9 1229.6L326.1 1228.0ZM332.3 1227.2L333.9 1226.4L334.7 1224.8L335.5 1226.4L337.1 1227.2L335.5 1228.0L334.7 1229.6L333.9 1228.0ZM340.2 1227.2L341.8 1226.4L342.6 1224.8L343.4 1226.4L344.9 1227.2L343.4 1228.0L342.6 1229.6L341.8 1228.0ZM348.0 1227.2L349.6 1226.4L350.4 1224.8L351.2 1226.4L352.8 1227.2L351.2 1228.0L350.4 1229.6L349.6 1228.0ZM355.8 1227.2L357.4 1226.4L358.2 1224.8L359.0 1226.4L360.6 1227.2L359.0 1228.0L358.2 1229.6L357.4 1228.0ZM363.6 1227.2L365.2 1226.4L366.0 1224.8L366.8 1226.4L368.4 1227.2L366.8 1228.0L366.0 1229.6L365.2 1228.0ZM371.5 1227.2L373.1 1226.4L373.9 1224.8L374.7 1226.4L376.2 1227.2L374.7 1228.0L373.9 1229.6L373.1 1228.0ZM379.3 1227.2L380.9 1226.4L381.7 1224.8L382.5 1226.4L384.1 1227.2L382.5 1228.0L381.7 1229.6L380.9 1228.0ZM387.1 1227.2L388.7 1226.4L389.5 1224.8L390.3 1226.4L391.9 1227.2L390.3 1228.0L389.5 1229.6L388.7 1228.0ZM394.9 1227.2L396.5 1226.4L397.3 1224.8L398.1 1226.4L399.7 1227.2L398.1 1228.0L397.3 1229.6L396.5 1228.0ZM402.8 1227.2L404.3 1226.4L405.1 1224.8L405.9 1226.4L407.5 1227.2L405.9 1228.0L405.1 1229.6L404.3 1228.0ZM410.6 1227.2L412.2 1226.4L413.0 1224.8L413.8 1226.4L415.4 1227.2L413.8 1228.0L413.0 1229.6L412.2 1228.0ZM418.4 1227.2L420.0 1226.4L420.8 1224.8L421.6 1226.4L423.2 1227.2L421.6 1228.0L420.8 1229.6L420.0 1228.0ZM426.2 1227.2L427.8 1226.4L428.6 1224.8L429.4 1226.4L431.0 1227.2L429.4 1228.0L428.6 1229.6L427.8 1228.0ZM434.1 1227.2L435.6 1226.4L436.4 1224.8L437.2 1226.4L438.8 1227.2L437.2 1228.0L436.4 1229.6L435.6 1228.0ZM441.9 1227.2L443.5 1226.4L444.3 1224.8L445.1 1226.4L446.7 1227.2L445.1 1228.0L444.3 1229.6L443.5 1228.0ZM449.7 1227.2L451.3 1226.4L452.1 1224.8L452.9 1226.4L454.5 1227.2L452.9 1228.0L452.1 1229.6L451.3 1228.0ZM457.5 1227.2L459.1 1226.4L459.9 1224.8L460.7 1226.4L462.3 1227.2L460.7 1228.0L459.9 1229.6L459.1 1228.0ZM465.4 1227.2L466.9 1226.4L467.8 1224.8L468.6 1226.4L470.1 1227.2L468.6 1228.0L467.8 1229.6L466.9 1228.0ZM473.2 1227.2L474.8 1226.4L475.6 1224.8L476.4 1226.4L478.0 1227.2L476.4 1228.0L475.6 1229.6L474.8 1228.0ZM481.0 1227.2L482.6 1226.4L483.4 1224.8L484.2 1226.4L485.8 1227.2L484.2 1228.0L483.4 1229.6L482.6 1228.0ZM488.8 1227.2L490.4 1226.4L491.2 1224.8L492.0 1226.4L493.6 1227.2L492.0 1228.0L491.2 1229.6L490.4 1228.0ZM496.7 1227.2L498.2 1226.4L499.1 1224.8L499.9 1226.4L501.4 1227.2L499.9 1228.0L499.1 1229.6L498.2 1228.0ZM504.5 1227.2L506.1 1226.4L506.9 1224.8L507.7 1226.4L509.3 1227.2L507.7 1228.0L506.9 1229.6L506.1 1228.0ZM512.3 1227.2L513.9 1226.4L514.7 1224.8L515.5 1226.4L517.1 1227.2L515.5 1228.0L514.7 1229.6L513.9 1228.0ZM520.1 1227.2L521.7 1226.4L522.5 1224.8L523.3 1226.4L524.9 1227.2L523.3 1228.0L522.5 1229.6L521.7 1228.0ZM527.9 1227.2L529.5 1226.4L530.3 1224.8L531.1 1226.4L532.7 1227.2L531.1 1228.0L530.3 1229.6L529.5 1228.0ZM535.8 1227.2L537.4 1226.4L538.2 1224.8L539.0 1226.4L540.6 1227.2L539.0 1228.0L538.2 1229.6L537.4 1228.0ZM543.6 1227.2L545.2 1226.4L546.0 1224.8L546.8 1226.4L548.4 1227.2L546.8 1228.0L546.0 1229.6L545.2 1228.0ZM551.4 1227.2L553.0 1226.4L553.8 1224.8L554.6 1226.4L556.2 1227.2L554.6 1228.0L553.8 1229.6L553.0 1228.0ZM559.2 1227.2L560.9 1226.4L561.6 1224.8L562.4 1226.4L564.0 1227.2L562.4 1228.0L561.6 1229.6L560.9 1228.0ZM567.1 1227.2L568.7 1226.4L569.5 1224.8L570.3 1226.4L571.9 1227.2L570.3 1228.0L569.5 1229.6L568.7 1228.0ZM574.9 1227.2L576.5 1226.4L577.3 1224.8L578.1 1226.4L579.7 1227.2L578.1 1228.0L577.3 1229.6L576.5 1228.0ZM582.7 1227.2L584.3 1226.4L585.1 1224.8L585.9 1226.4L587.5 1227.2L585.9 1228.0L585.1 1229.6L584.3 1228.0ZM590.6 1227.2L592.2 1226.4L593.0 1224.8L593.8 1226.4L595.4 1227.2L593.8 1228.0L593.0 1229.6L592.2 1228.0ZM598.4 1227.2L600.0 1226.4L600.8 1224.8L601.6 1226.4L603.2 1227.2L601.6 1228.0L600.8 1229.6L600.0 1228.0ZM606.2 1227.2L607.8 1226.4L608.6 1224.8L609.4 1226.4L611.0 1227.2L609.4 1228.0L608.6 1229.6L607.8 1228.0ZM614.0 1227.2L615.6 1226.4L616.4 1224.8L617.2 1226.4L618.8 1227.2L617.2 1228.0L616.4 1229.6L615.6 1228.0ZM621.9 1227.2L623.5 1226.4L624.2 1224.8L625.0 1226.4L626.6 1227.2L625.0 1228.0L624.2 1229.6L623.5 1228.0ZM629.7 1227.2L631.3 1226.4L632.1 1224.8L632.9 1226.4L634.5 1227.2L632.9 1228.0L632.1 1229.6L631.3 1228.0ZM637.5 1227.2L639.1 1226.4L639.9 1224.8L640.7 1226.4L642.3 1227.2L640.7 1228.0L639.9 1229.6L639.1 1228.0ZM645.3 1227.2L646.9 1226.4L647.7 1224.8L648.5 1226.4L650.1 1227.2L648.5 1228.0L647.7 1229.6L646.9 1228.0ZM653.1 1227.2L654.8 1226.4L655.5 1224.8L656.3 1226.4L657.9 1227.2L656.3 1228.0L655.5 1229.6L654.8 1228.0ZM661.0 1227.2L662.6 1226.4L663.4 1224.8L664.2 1226.4L665.8 1227.2L664.2 1228.0L663.4 1229.6L662.6 1228.0ZM668.8 1227.2L670.4 1226.4L671.2 1224.8L672.0 1226.4L673.6 1227.2L672.0 1228.0L671.2 1229.6L670.4 1228.0ZM676.6 1227.2L678.2 1226.4L679.0 1224.8L679.8 1226.4L681.4 1227.2L679.8 1228.0L679.0 1229.6L678.2 1228.0ZM684.5 1227.2L686.1 1226.4L686.9 1224.8L687.6 1226.4L689.2 1227.2L687.6 1228.0L686.9 1229.6L686.1 1228.0ZM692.3 1227.2L693.9 1226.4L694.7 1224.8L695.5 1226.4L697.1 1227.2L695.5 1228.0L694.7 1229.6L693.9 1228.0ZM700.1 1227.2L701.7 1226.4L702.5 1224.8L703.3 1226.4L704.9 1227.2L703.3 1228.0L702.5 1229.6L701.7 1228.0ZM707.9 1227.2L709.5 1226.4L710.3 1224.8L711.1 1226.4L712.7 1227.2L711.1 1228.0L710.3 1229.6L709.5 1228.0ZM715.8 1227.2L717.4 1226.4L718.1 1224.8L718.9 1226.4L720.5 1227.2L718.9 1228.0L718.1 1229.6L717.4 1228.0ZM723.6 1227.2L725.2 1226.4L726.0 1224.8L726.8 1226.4L728.4 1227.2L726.8 1228.0L726.0 1229.6L725.2 1228.0ZM731.4 1227.2L733.0 1226.4L733.8 1224.8L734.6 1226.4L736.2 1227.2L734.6 1228.0L733.8 1229.6L733.0 1228.0ZM739.2 1227.2L740.8 1226.4L741.6 1224.8L742.4 1226.4L744.0 1227.2L742.4 1228.0L741.6 1229.6L740.8 1228.0ZM747.1 1227.2L748.7 1226.4L749.5 1224.8L750.2 1226.4L751.9 1227.2L750.2 1228.0L749.5 1229.6L748.7 1228.0ZM754.9 1227.2L756.5 1226.4L757.3 1224.8L758.1 1226.4L759.7 1227.2L758.1 1228.0L757.3 1229.6L756.5 1228.0ZM762.7 1227.2L764.3 1226.4L765.1 1224.8L765.9 1226.4L767.5 1227.2L765.9 1228.0L765.1 1229.6L764.3 1228.0ZM770.5 1227.2L772.1 1226.4L772.9 1224.8L773.7 1226.4L775.3 1227.2L773.7 1228.0L772.9 1229.6L772.1 1228.0ZM778.4 1227.2L780.0 1226.4L780.8 1224.8L781.5 1226.4L783.1 1227.2L781.5 1228.0L780.8 1229.6L780.0 1228.0ZM786.2 1227.2L787.8 1226.4L788.6 1224.8L789.4 1226.4L791.0 1227.2L789.4 1228.0L788.6 1229.6L787.8 1228.0ZM794.0 1227.2L795.6 1226.4L796.4 1224.8L797.2 1226.4L798.8 1227.2L797.2 1228.0L796.4 1229.6L795.6 1228.0ZM801.8 1227.2L803.4 1226.4L804.2 1224.8L805.0 1226.4L806.6 1227.2L805.0 1228.0L804.2 1229.6L803.4 1228.0ZM809.6 1227.2L811.2 1226.4L812.0 1224.8L812.8 1226.4L814.4 1227.2L812.8 1228.0L812.0 1229.6L811.2 1228.0ZM817.5 1227.2L819.1 1226.4L819.9 1224.8L820.7 1226.4L822.3 1227.2L820.7 1228.0L819.9 1229.6L819.1 1228.0ZM825.3 1227.2L826.9 1226.4L827.7 1224.8L828.5 1226.4L830.1 1227.2L828.5 1228.0L827.7 1229.6L826.9 1228.0ZM833.1 1227.2L834.7 1226.4L835.5 1224.8L836.3 1226.4L837.9 1227.2L836.3 1228.0L835.5 1229.6L834.7 1228.0ZM841.0 1227.2L842.6 1226.4L843.4 1224.8L844.1 1226.4L845.8 1227.2L844.1 1228.0L843.4 1229.6L842.6 1228.0ZM848.8 1227.2L850.4 1226.4L851.2 1224.8L852.0 1226.4L853.6 1227.2L852.0 1228.0L851.2 1229.6L850.4 1228.0ZM856.6 1227.2L858.2 1226.4L859.0 1224.8L859.8 1226.4L861.4 1227.2L859.8 1228.0L859.0 1229.6L858.2 1228.0ZM74.1 1742.2L75.7 1741.4L76.5 1739.8L77.3 1741.4L78.9 1742.2L77.3 1743.0L76.5 1744.6L75.7 1743.0ZM81.9 1733.8L83.5 1733.0L84.3 1731.4L85.1 1733.0L86.7 1733.8L85.1 1734.6L84.3 1736.2L83.5 1734.6ZM89.8 1726.7L91.4 1725.9L92.2 1724.3L93.0 1725.9L94.6 1726.7L93.0 1727.5L92.2 1729.1L91.4 1727.5ZM97.6 1706.1L99.2 1705.3L100.0 1703.7L100.8 1705.3L102.4 1706.1L100.8 1706.9L100.0 1708.5L99.2 1706.9ZM105.4 1671.6L107.0 1670.8L107.8 1669.2L108.6 1670.8L110.2 1671.6L108.6 1672.4L107.8 1674.0L107.0 1672.4ZM113.2 1646.3L114.8 1645.5L115.6 1643.9L116.4 1645.5L118.0 1646.3L116.4 1647.1L115.6 1648.7L114.8 1647.1ZM121.0 1610.5L122.6 1609.7L123.4 1608.1L124.2 1609.7L125.8 1610.5L124.2 1611.3L123.4 1612.9L122.6 1611.3ZM128.9 1576.8L130.5 1576.0L131.3 1574.4L132.1 1576.0L133.7 1576.8L132.1 1577.6L131.3 1579.2L130.5 1577.6ZM136.7 1546.0L138.3 1545.2L139.1 1543.6L139.9 1545.2L141.5 1546.0L139.9 1546.8L139.1 1548.4L138.3 1546.8ZM144.5 1515.7L146.1 1514.9L146.9 1513.3L147.7 1514.9L149.3 1515.7L147.7 1516.5L146.9 1518.1L146.1 1516.5ZM152.3 1487.5L153.9 1486.7L154.8 1485.1L155.6 1486.7L157.2 1487.5L155.6 1488.3L154.8 1489.9L153.9 1488.3ZM160.2 1445.7L161.8 1444.9L162.6 1443.3L163.4 1444.9L165.0 1445.7L163.4 1446.5L162.6 1448.1L161.8 1446.5ZM168.0 1443.0L169.6 1442.2L170.4 1440.6L171.2 1442.2L172.8 1443.0L171.2 1443.8L170.4 1445.4L169.6 1443.8ZM175.8 1388.9L177.4 1388.1L178.2 1386.5L179.0 1388.1L180.6 1388.9L179.0 1389.7L178.2 1391.3L177.4 1389.7ZM183.7 1382.8L185.2 1382.0L186.1 1380.4L186.9 1382.0L188.5 1382.8L186.9 1383.6L186.1 1385.2L185.2 1383.6ZM191.5 1371.2L193.1 1370.4L193.9 1368.8L194.7 1370.4L196.3 1371.2L194.7 1372.0L193.9 1373.6L193.1 1372.0ZM199.3 1349.1L200.9 1348.3L201.7 1346.7L202.5 1348.3L204.1 1349.1L202.5 1349.9L201.7 1351.5L200.9 1349.9ZM207.1 1333.4L208.7 1332.6L209.5 1331.0L210.3 1332.6L211.9 1333.4L210.3 1334.2L209.5 1335.8L208.7 1334.2ZM214.9 1309.2L216.5 1308.4L217.3 1306.8L218.2 1308.4L219.8 1309.2L218.2 1310.0L217.3 1311.6L216.5 1310.0ZM222.8 1302.9L224.4 1302.1L225.2 1300.5L226.0 1302.1L227.6 1302.9L226.0 1303.7L225.2 1305.3L224.4 1303.7ZM230.6 1274.8L232.2 1274.0L233.0 1272.4L233.8 1274.0L235.4 1274.8L233.8 1275.6L233.0 1277.2L232.2 1275.6ZM238.4 1278.7L240.0 1277.9L240.8 1276.3L241.6 1277.9L243.2 1278.7L241.6 1279.5L240.8 1281.1L240.0 1279.5ZM246.2 1278.4L247.8 1277.6L248.7 1276.0L249.5 1277.6L251.1 1278.4L249.5 1279.2L248.7 1280.8L247.8 1279.2ZM254.1 1259.7L255.7 1258.9L256.5 1257.3L257.3 1258.9L258.9 1259.7L257.3 1260.5L256.5 1262.1L255.7 1260.5ZM261.9 1259.2L263.5 1258.4L264.3 1256.8L265.1 1258.4L266.7 1259.2L265.1 1260.0L264.3 1261.6L263.5 1260.0ZM269.7 1243.6L271.3 1242.8L272.1 1241.2L272.9 1242.8L274.5 1243.6L272.9 1244.4L272.1 1246.0L271.3 1244.4ZM277.6 1235.1L279.2 1234.3L280.0 1232.7L280.8 1234.3L282.4 1235.1L280.8 1235.9L280.0 1237.5L279.2 1235.9ZM285.4 1233.7L287.0 1232.9L287.8 1231.3L288.6 1232.9L290.2 1233.7L288.6 1234.5L287.8 1236.1L287.0 1234.5ZM293.2 1237.1L294.8 1236.3L295.6 1234.7L296.4 1236.3L298.0 1237.1L296.4 1237.9L295.6 1239.5L294.8 1237.9ZM301.0 1233.2L302.6 1232.4L303.4 1230.8L304.2 1232.4L305.8 1233.2L304.2 1234.0L303.4 1235.6L302.6 1234.0ZM308.9 1227.2L310.4 1226.4L311.2 1224.8L312.1 1226.4L313.6 1227.2L312.1 1228.0L311.2 1229.6L310.4 1228.0ZM316.7 1228.6L318.3 1227.8L319.1 1226.2L319.9 1227.8L321.5 1228.6L319.9 1229.4L319.1 1231.0L318.3 1229.4ZM324.5 1228.4L326.1 1227.6L326.9 1226.0L327.7 1227.6L329.3 1228.4L327.7 1229.2L326.9 1230.8L326.1 1229.2ZM332.3 1227.2L333.9 1226.4L334.7 1224.8L335.5 1226.4L337.1 1227.2L335.5 1228.0L334.7 1229.6L333.9 1228.0ZM340.2 1227.2L341.8 1226.4L342.6 1224.8L343.4 1226.4L344.9 1227.2L343.4 1228.0L342.6 1229.6L341.8 1228.0ZM348.0 1227.2L349.6 1226.4L350.4 1224.8L351.2 1226.4L352.8 1227.2L351.2 1228.0L350.4 1229.6L349.6 1228.0ZM355.8 1227.3L357.4 1226.5L358.2 1224.9L359.0 1226.5L360.6 1227.3L359.0 1228.1L358.2 1229.7L357.4 1228.1ZM363.6 1227.2L365.2 1226.4L366.0 1224.8L366.8 1226.4L368.4 1227.2L366.8 1228.0L366.0 1229.6L365.2 1228.0ZM371.5 1227.2L373.1 1226.4L373.9 1224.8L374.7 1226.4L376.2 1227.2L374.7 1228.0L373.9 1229.6L373.1 1228.0ZM379.3 1227.4L380.9 1226.6L381.7 1225.0L382.5 1226.6L384.1 1227.4L382.5 1228.2L381.7 1229.8L380.9 1228.2ZM387.1 1227.4L388.7 1226.6L389.5 1225.0L390.3 1226.6L391.9 1227.4L390.3 1228.2L389.5 1229.8L388.7 1228.2ZM394.9 1227.2L396.5 1226.4L397.3 1224.8L398.1 1226.4L399.7 1227.2L398.1 1228.0L397.3 1229.6L396.5 1228.0ZM402.8 1227.3L404.3 1226.5L405.1 1224.9L405.9 1226.5L407.5 1227.3L405.9 1228.1L405.1 1229.7L404.3 1228.1ZM410.6 1227.2L412.2 1226.4L413.0 1224.8L413.8 1226.4L415.4 1227.2L413.8 1228.0L413.0 1229.6L412.2 1228.0ZM418.4 1227.2L420.0 1226.4L420.8 1224.8L421.6 1226.4L423.2 1227.2L421.6 1228.0L420.8 1229.6L420.0 1228.0ZM426.2 1227.2L427.8 1226.4L428.6 1224.8L429.4 1226.4L431.0 1227.2L429.4 1228.0L428.6 1229.6L427.8 1228.0ZM434.1 1227.2L435.6 1226.4L436.4 1224.8L437.2 1226.4L438.8 1227.2L437.2 1228.0L436.4 1229.6L435.6 1228.0ZM441.9 1227.2L443.5 1226.4L444.3 1224.8L445.1 1226.4L446.7 1227.2L445.1 1228.0L444.3 1229.6L443.5 1228.0ZM449.7 1227.2L451.3 1226.4L452.1 1224.8L452.9 1226.4L454.5 1227.2L452.9 1228.0L452.1 1229.6L451.3 1228.0ZM457.5 1227.2L459.1 1226.4L459.9 1224.8L460.7 1226.4L462.3 1227.2L460.7 1228.0L459.9 1229.6L459.1 1228.0ZM465.4 1227.2L466.9 1226.4L467.8 1224.8L468.6 1226.4L470.1 1227.2L468.6 1228.0L467.8 1229.6L466.9 1228.0ZM473.2 1227.2L474.8 1226.4L475.6 1224.8L476.4 1226.4L478.0 1227.2L476.4 1228.0L475.6 1229.6L474.8 1228.0ZM481.0 1227.2L482.6 1226.4L483.4 1224.8L484.2 1226.4L485.8 1227.2L484.2 1228.0L483.4 1229.6L482.6 1228.0ZM488.8 1227.2L490.4 1226.4L491.2 1224.8L492.0 1226.4L493.6 1227.2L492.0 1228.0L491.2 1229.6L490.4 1228.0ZM496.7 1227.2L498.2 1226.4L499.1 1224.8L499.9 1226.4L501.4 1227.2L499.9 1228.0L499.1 1229.6L498.2 1228.0ZM504.5 1227.2L506.1 1226.4L506.9 1224.8L507.7 1226.4L509.3 1227.2L507.7 1228.0L506.9 1229.6L506.1 1228.0ZM512.3 1227.2L513.9 1226.4L514.7 1224.8L515.5 1226.4L517.1 1227.2L515.5 1228.0L514.7 1229.6L513.9 1228.0ZM520.1 1227.2L521.7 1226.4L522.5 1224.8L523.3 1226.4L524.9 1227.2L523.3 1228.0L522.5 1229.6L521.7 1228.0ZM527.9 1227.2L529.5 1226.4L530.3 1224.8L531.1 1226.4L532.7 1227.2L531.1 1228.0L530.3 1229.6L529.5 1228.0ZM535.8 1227.2L537.4 1226.4L538.2 1224.8L539.0 1226.4L540.6 1227.2L539.0 1228.0L538.2 1229.6L537.4 1228.0ZM543.6 1227.2L545.2 1226.4L546.0 1224.8L546.8 1226.4L548.4 1227.2L546.8 1228.0L546.0 1229.6L545.2 1228.0ZM551.4 1227.2L553.0 1226.4L553.8 1224.8L554.6 1226.4L556.2 1227.2L554.6 1228.0L553.8 1229.6L553.0 1228.0ZM559.2 1227.2L560.9 1226.4L561.6 1224.8L562.4 1226.4L564.0 1227.2L562.4 1228.0L561.6 1229.6L560.9 1228.0ZM567.1 1227.2L568.7 1226.4L569.5 1224.8L570.3 1226.4L571.9 1227.2L570.3 1228.0L569.5 1229.6L568.7 1228.0ZM574.9 1227.2L576.5 1226.4L577.3 1224.8L578.1 1226.4L579.7 1227.2L578.1 1228.0L577.3 1229.6L576.5 1228.0ZM582.7 1227.2L584.3 1226.4L585.1 1224.8L585.9 1226.4L587.5 1227.2L585.9 1228.0L585.1 1229.6L584.3 1228.0ZM590.6 1227.2L592.2 1226.4L593.0 1224.8L593.8 1226.4L595.4 1227.2L593.8 1228.0L593.0 1229.6L592.2 1228.0ZM598.4 1227.2L600.0 1226.4L600.8 1224.8L601.6 1226.4L603.2 1227.2L601.6 1228.0L600.8 1229.6L600.0 1228.0ZM606.2 1227.2L607.8 1226.4L608.6 1224.8L609.4 1226.4L611.0 1227.2L609.4 1228.0L608.6 1229.6L607.8 1228.0ZM614.0 1227.2L615.6 1226.4L616.4 1224.8L617.2 1226.4L618.8 1227.2L617.2 1228.0L616.4 1229.6L615.6 1228.0ZM621.9 1227.2L623.5 1226.4L624.2 1224.8L625.0 1226.4L626.6 1227.2L625.0 1228.0L624.2 1229.6L623.5 1228.0ZM629.7 1227.2L631.3 1226.4L632.1 1224.8L632.9 1226.4L634.5 1227.2L632.9 1228.0L632.1 1229.6L631.3 1228.0ZM637.5 1227.2L639.1 1226.4L639.9 1224.8L640.7 1226.4L642.3 1227.2L640.7 1228.0L639.9 1229.6L639.1 1228.0ZM645.3 1227.2L646.9 1226.4L647.7 1224.8L648.5 1226.4L650.1 1227.2L648.5 1228.0L647.7 1229.6L646.9 1228.0ZM653.1 1227.2L654.8 1226.4L655.5 1224.8L656.3 1226.4L657.9 1227.2L656.3 1228.0L655.5 1229.6L654.8 1228.0ZM661.0 1227.2L662.6 1226.4L663.4 1224.8L664.2 1226.4L665.8 1227.2L664.2 1228.0L663.4 1229.6L662.6 1228.0ZM668.8 1227.2L670.4 1226.4L671.2 1224.8L672.0 1226.4L673.6 1227.2L672.0 1228.0L671.2 1229.6L670.4 1228.0ZM676.6 1227.2L678.2 1226.4L679.0 1224.8L679.8 1226.4L681.4 1227.2L679.8 1228.0L679.0 1229.6L678.2 1228.0ZM684.5 1227.2L686.1 1226.4L686.9 1224.8L687.6 1226.4L689.2 1227.2L687.6 1228.0L686.9 1229.6L686.1 1228.0ZM692.3 1227.2L693.9 1226.4L694.7 1224.8L695.5 1226.4L697.1 1227.2L695.5 1228.0L694.7 1229.6L693.9 1228.0ZM700.1 1227.2L701.7 1226.4L702.5 1224.8L703.3 1226.4L704.9 1227.2L703.3 1228.0L702.5 1229.6L701.7 1228.0ZM707.9 1227.2L709.5 1226.4L710.3 1224.8L711.1 1226.4L712.7 1227.2L711.1 1228.0L710.3 1229.6L709.5 1228.0ZM715.8 1227.2L717.4 1226.4L718.1 1224.8L718.9 1226.4L720.5 1227.2L718.9 1228.0L718.1 1229.6L717.4 1228.0ZM723.6 1227.2L725.2 1226.4L726.0 1224.8L726.8 1226.4L728.4 1227.2L726.8 1228.0L726.0 1229.6L725.2 1228.0ZM731.4 1227.2L733.0 1226.4L733.8 1224.8L734.6 1226.4L736.2 1227.2L734.6 1228.0L733.8 1229.6L733.0 1228.0ZM739.2 1227.2L740.8 1226.4L741.6 1224.8L742.4 1226.4L744.0 1227.2L742.4 1228.0L741.6 1229.6L740.8 1228.0ZM747.1 1227.2L748.7 1226.4L749.5 1224.8L750.2 1226.4L751.9 1227.2L750.2 1228.0L749.5 1229.6L748.7 1228.0ZM754.9 1227.2L756.5 1226.4L757.3 1224.8L758.1 1226.4L759.7 1227.2L758.1 1228.0L757.3 1229.6L756.5 1228.0ZM762.7 1227.2L764.3 1226.4L765.1 1224.8L765.9 1226.4L767.5 1227.2L765.9 1228.0L765.1 1229.6L764.3 1228.0ZM770.5 1227.2L772.1 1226.4L772.9 1224.8L773.7 1226.4L775.3 1227.2L773.7 1228.0L772.9 1229.6L772.1 1228.0ZM778.4 1227.2L780.0 1226.4L780.8 1224.8L781.5 1226.4L783.1 1227.2L781.5 1228.0L780.8 1229.6L780.0 1228.0ZM786.2 1227.2L787.8 1226.4L788.6 1224.8L789.4 1226.4L791.0 1227.2L789.4 1228.0L788.6 1229.6L787.8 1228.0ZM794.0 1227.2L795.6 1226.4L796.4 1224.8L797.2 1226.4L798.8 1227.2L797.2 1228.0L796.4 1229.6L795.6 1228.0ZM801.8 1227.2L803.4 1226.4L804.2 1224.8L805.0 1226.4L806.6 1227.2L805.0 1228.0L804.2 1229.6L803.4 1228.0ZM809.6 1227.2L811.2 1226.4L812.0 1224.8L812.8 1226.4L814.4 1227.2L812.8 1228.0L812.0 1229.6L811.2 1228.0ZM817.5 1227.2L819.1 1226.4L819.9 1224.8L820.7 1226.4L822.3 1227.2L820.7 1228.0L819.9 1229.6L819.1 1228.0ZM825.3 1227.2L826.9 1226.4L827.7 1224.8L828.5 1226.4L830.1 1227.2L828.5 1228.0L827.7 1229.6L826.9 1228.0ZM833.1 1227.2L834.7 1226.4L835.5 1224.8L836.3 1226.4L837.9 1227.2L836.3 1228.0L835.5 1229.6L834.7 1228.0ZM841.0 1227.2L842.6 1226.4L843.4 1224.8L844.1 1226.4L845.8 1227.2L844.1 1228.0L843.4 1229.6L842.6 1228.0ZM848.8 1227.2L850.4 1226.4L851.2 1224.8L852.0 1226.4L853.6 1227.2L852.0 1228.0L851.2 1229.6L850.4 1228.0ZM856.6 1227.2L858.2 1226.4L859.0 1224.8L859.8 1226.4L861.4 1227.2L859.8 1228.0L859.0 1229.6L858.2 1228.0ZM74.1 1742.2L75.7 1741.4L76.5 1739.8L77.3 1741.4L78.9 1742.2L77.3 1743.0L76.5 1744.6L75.7 1743.0ZM81.9 1741.0L83.5 1740.2L84.3 1738.6L85.1 1740.2L86.7 1741.0L85.1 1741.8L84.3 1743.4L83.5 1741.8ZM89.8 1732.8L91.4 1732.0L92.2 1730.4L93.0 1732.0L94.6 1732.8L93.0 1733.6L92.2 1735.2L91.4 1733.6ZM97.6 1716.5L99.2 1715.7L100.0 1714.1L100.8 1715.7L102.4 1716.5L100.8 1717.3L100.0 1718.9L99.2 1717.3ZM105.4 1714.8L107.0 1714.0L107.8 1712.4L108.6 1714.0L110.2 1714.8L108.6 1715.6L107.8 1717.2L107.0 1715.6ZM113.2 1714.8L114.8 1714.0L115.6 1712.4L116.4 1714.0L118.0 1714.8L116.4 1715.6L115.6 1717.2L114.8 1715.6ZM121.0 1701.1L122.6 1700.3L123.4 1698.7L124.2 1700.3L125.8 1701.1L124.2 1701.9L123.4 1703.5L122.6 1701.9ZM128.9 1695.9L130.5 1695.1L131.3 1693.5L132.1 1695.1L133.7 1695.9L132.1 1696.7L131.3 1698.3L130.5 1696.7ZM136.7 1683.1L138.3 1682.3L139.1 1680.7L139.9 1682.3L141.5 1683.1L139.9 1683.9L139.1 1685.5L138.3 1683.9ZM144.5 1647.9L146.1 1647.1L146.9 1645.5L147.7 1647.1L149.3 1647.9L147.7 1648.7L146.9 1650.3L146.1 1648.7ZM152.3 1644.7L153.9 1643.9L154.8 1642.3L155.6 1643.9L157.2 1644.7L155.6 1645.5L154.8 1647.1L153.9 1645.5ZM160.2 1648.8L161.8 1648.0L162.6 1646.4L163.4 1648.0L165.0 1648.8L163.4 1649.6L162.6 1651.2L161.8 1649.6ZM168.0 1610.6L169.6 1609.8L170.4 1608.2L171.2 1609.8L172.8 1610.6L171.2 1611.4L170.4 1613.0L169.6 1611.4ZM175.8 1587.7L177.4 1586.9L178.2 1585.3L179.0 1586.9L180.6 1587.7L179.0 1588.5L178.2 1590.1L177.4 1588.5ZM183.7 1590.0L185.2 1589.2L186.1 1587.6L186.9 1589.2L188.5 1590.0L186.9 1590.8L186.1 1592.4L185.2 1590.8ZM191.5 1577.0L193.1 1576.2L193.9 1574.6L194.7 1576.2L196.3 1577.0L194.7 1577.8L193.9 1579.4L193.1 1577.8ZM199.3 1555.7L200.9 1554.9L201.7 1553.3L202.5 1554.9L204.1 1555.7L202.5 1556.5L201.7 1558.1L200.9 1556.5ZM207.1 1530.3L208.7 1529.5L209.5 1527.9L210.3 1529.5L211.9 1530.3L210.3 1531.1L209.5 1532.7L208.7 1531.1ZM214.9 1507.9L216.5 1507.1L217.3 1505.5L218.2 1507.1L219.8 1507.9L218.2 1508.7L217.3 1510.3L216.5 1508.7ZM222.8 1483.2L224.4 1482.4L225.2 1480.8L226.0 1482.4L227.6 1483.2L226.0 1484.0L225.2 1485.6L224.4 1484.0ZM230.6 1465.2L232.2 1464.4L233.0 1462.8L233.8 1464.4L235.4 1465.2L233.8 1466.0L233.0 1467.6L232.2 1466.0ZM238.4 1448.3L240.0 1447.5L240.8 1445.9L241.6 1447.5L243.2 1448.3L241.6 1449.1L240.8 1450.7L240.0 1449.1ZM246.2 1429.3L247.8 1428.5L248.7 1426.9L249.5 1428.5L251.1 1429.3L249.5 1430.1L248.7 1431.7L247.8 1430.1ZM254.1 1421.9L255.7 1421.1L256.5 1419.5L257.3 1421.1L258.9 1421.9L257.3 1422.7L256.5 1424.3L255.7 1422.7ZM261.9 1433.3L263.5 1432.5L264.3 1430.9L265.1 1432.5L266.7 1433.3L265.1 1434.1L264.3 1435.7L263.5 1434.1ZM269.7 1400.8L271.3 1400.0L272.1 1398.4L272.9 1400.0L274.5 1400.8L272.9 1401.6L272.1 1403.2L271.3 1401.6ZM277.6 1381.0L279.2 1380.2L280.0 1378.6L280.8 1380.2L282.4 1381.0L280.8 1381.8L280.0 1383.4L279.2 1381.8ZM285.4 1375.5L287.0 1374.7L287.8 1373.1L288.6 1374.7L290.2 1375.5L288.6 1376.3L287.8 1377.9L287.0 1376.3ZM293.2 1347.9L294.8 1347.1L295.6 1345.5L296.4 1347.1L298.0 1347.9L296.4 1348.7L295.6 1350.3L294.8 1348.7ZM301.0 1350.0L302.6 1349.2L303.4 1347.6L304.2 1349.2L305.8 1350.0L304.2 1350.8L303.4 1352.4L302.6 1350.8ZM308.9 1344.4L310.4 1343.6L311.2 1342.0L312.1 1343.6L313.6 1344.4L312.1 1345.2L311.2 1346.8L310.4 1345.2ZM316.7 1309.7L318.3 1308.9L319.1 1307.3L319.9 1308.9L321.5 1309.7L319.9 1310.5L319.1 1312.1L318.3 1310.5ZM324.5 1308.0L326.1 1307.2L326.9 1305.6L327.7 1307.2L329.3 1308.0L327.7 1308.8L326.9 1310.4L326.1 1308.8ZM332.3 1303.5L333.9 1302.7L334.7 1301.1L335.5 1302.7L337.1 1303.5L335.5 1304.3L334.7 1305.9L333.9 1304.3ZM340.2 1289.0L341.8 1288.2L342.6 1286.6L343.4 1288.2L344.9 1289.0L343.4 1289.8L342.6 1291.4L341.8 1289.8ZM348.0 1280.7L349.6 1279.9L350.4 1278.3L351.2 1279.9L352.8 1280.7L351.2 1281.5L350.4 1283.1L349.6 1281.5ZM355.8 1280.0L357.4 1279.2L358.2 1277.6L359.0 1279.2L360.6 1280.0L359.0 1280.8L358.2 1282.4L357.4 1280.8ZM363.6 1295.1L365.2 1294.3L366.0 1292.7L366.8 1294.3L368.4 1295.1L366.8 1295.9L366.0 1297.5L365.2 1295.9ZM371.5 1275.6L373.1 1274.8L373.9 1273.2L374.7 1274.8L376.2 1275.6L374.7 1276.4L373.9 1278.0L373.1 1276.4ZM379.3 1268.7L380.9 1267.9L381.7 1266.3L382.5 1267.9L384.1 1268.7L382.5 1269.5L381.7 1271.1L380.9 1269.5ZM387.1 1267.3L388.7 1266.5L389.5 1264.9L390.3 1266.5L391.9 1267.3L390.3 1268.1L389.5 1269.7L388.7 1268.1ZM394.9 1255.7L396.5 1254.9L397.3 1253.3L398.1 1254.9L399.7 1255.7L398.1 1256.5L397.3 1258.1L396.5 1256.5ZM402.8 1246.4L404.3 1245.6L405.1 1244.0L405.9 1245.6L407.5 1246.4L405.9 1247.2L405.1 1248.8L404.3 1247.2ZM410.6 1252.3L412.2 1251.5L413.0 1249.9L413.8 1251.5L415.4 1252.3L413.8 1253.1L413.0 1254.7L412.2 1253.1ZM418.4 1252.4L420.0 1251.6L420.8 1250.0L421.6 1251.6L423.2 1252.4L421.6 1253.2L420.8 1254.8L420.0 1253.2ZM426.2 1234.9L427.8 1234.1L428.6 1232.5L429.4 1234.1L431.0 1234.9L429.4 1235.7L428.6 1237.3L427.8 1235.7ZM434.1 1243.8L435.6 1243.0L436.4 1241.4L437.2 1243.0L438.8 1243.8L437.2 1244.6L436.4 1246.2L435.6 1244.6ZM441.9 1244.7L443.5 1243.9L444.3 1242.3L445.1 1243.9L446.7 1244.7L445.1 1245.5L444.3 1247.1L443.5 1245.5ZM449.7 1237.1L451.3 1236.3L452.1 1234.7L452.9 1236.3L454.5 1237.1L452.9 1237.9L452.1 1239.5L451.3 1237.9ZM457.5 1235.0L459.1 1234.2L459.9 1232.6L460.7 1234.2L462.3 1235.0L460.7 1235.8L459.9 1237.4L459.1 1235.8ZM465.4 1237.3L466.9 1236.5L467.8 1234.9L468.6 1236.5L470.1 1237.3L468.6 1238.1L467.8 1239.7L466.9 1238.1ZM473.2 1231.5L474.8 1230.7L475.6 1229.1L476.4 1230.7L478.0 1231.5L476.4 1232.3L475.6 1233.9L474.8 1232.3ZM481.0 1234.1L482.6 1233.3L483.4 1231.7L484.2 1233.3L485.8 1234.1L484.2 1234.9L483.4 1236.5L482.6 1234.9ZM488.8 1234.2L490.4 1233.4L491.2 1231.8L492.0 1233.4L493.6 1234.2L492.0 1235.0L491.2 1236.6L490.4 1235.0ZM496.7 1230.7L498.2 1229.9L499.1 1228.3L499.9 1229.9L501.4 1230.7L499.9 1231.5L499.1 1233.1L498.2 1231.5ZM504.5 1228.9L506.1 1228.1L506.9 1226.5L507.7 1228.1L509.3 1228.9L507.7 1229.7L506.9 1231.3L506.1 1229.7ZM512.3 1231.1L513.9 1230.3L514.7 1228.7L515.5 1230.3L517.1 1231.1L515.5 1231.9L514.7 1233.5L513.9 1231.9ZM520.1 1228.9L521.7 1228.1L522.5 1226.5L523.3 1228.1L524.9 1228.9L523.3 1229.7L522.5 1231.3L521.7 1229.7ZM527.9 1229.2L529.5 1228.4L530.3 1226.8L531.1 1228.4L532.7 1229.2L531.1 1230.0L530.3 1231.6L529.5 1230.0ZM535.8 1227.2L537.4 1226.4L538.2 1224.8L539.0 1226.4L540.6 1227.2L539.0 1228.0L538.2 1229.6L537.4 1228.0ZM543.6 1229.3L545.2 1228.5L546.0 1226.9L546.8 1228.5L548.4 1229.3L546.8 1230.1L546.0 1231.7L545.2 1230.1ZM551.4 1227.2L553.0 1226.4L553.8 1224.8L554.6 1226.4L556.2 1227.2L554.6 1228.0L553.8 1229.6L553.0 1228.0ZM559.2 1228.0L560.9 1227.2L561.6 1225.6L562.4 1227.2L564.0 1228.0L562.4 1228.8L561.6 1230.4L560.9 1228.8ZM567.1 1227.9L568.7 1227.1L569.5 1225.5L570.3 1227.1L571.9 1227.9L570.3 1228.7L569.5 1230.3L568.7 1228.7ZM574.9 1227.2L576.5 1226.4L577.3 1224.8L578.1 1226.4L579.7 1227.2L578.1 1228.0L577.3 1229.6L576.5 1228.0ZM582.7 1227.2L584.3 1226.4L585.1 1224.8L585.9 1226.4L587.5 1227.2L585.9 1228.0L585.1 1229.6L584.3 1228.0ZM590.6 1227.2L592.2 1226.4L593.0 1224.8L593.8 1226.4L595.4 1227.2L593.8 1228.0L593.0 1229.6L592.2 1228.0ZM598.4 1227.2L600.0 1226.4L600.8 1224.8L601.6 1226.4L603.2 1227.2L601.6 1228.0L600.8 1229.6L600.0 1228.0ZM606.2 1227.6L607.8 1226.8L608.6 1225.2L609.4 1226.8L611.0 1227.6L609.4 1228.4L608.6 1230.0L607.8 1228.4ZM614.0 1227.5L615.6 1226.7L616.4 1225.1L617.2 1226.7L618.8 1227.5L617.2 1228.3L616.4 1229.9L615.6 1228.3ZM621.9 1227.2L623.5 1226.4L624.2 1224.8L625.0 1226.4L626.6 1227.2L625.0 1228.0L624.2 1229.6L623.5 1228.0ZM629.7 1227.2L631.3 1226.4L632.1 1224.8L632.9 1226.4L634.5 1227.2L632.9 1228.0L632.1 1229.6L631.3 1228.0ZM637.5 1227.2L639.1 1226.4L639.9 1224.8L640.7 1226.4L642.3 1227.2L640.7 1228.0L639.9 1229.6L639.1 1228.0ZM645.3 1227.2L646.9 1226.4L647.7 1224.8L648.5 1226.4L650.1 1227.2L648.5 1228.0L647.7 1229.6L646.9 1228.0ZM653.1 1227.2L654.8 1226.4L655.5 1224.8L656.3 1226.4L657.9 1227.2L656.3 1228.0L655.5 1229.6L654.8 1228.0ZM661.0 1227.2L662.6 1226.4L663.4 1224.8L664.2 1226.4L665.8 1227.2L664.2 1228.0L663.4 1229.6L662.6 1228.0ZM668.8 1227.2L670.4 1226.4L671.2 1224.8L672.0 1226.4L673.6 1227.2L672.0 1228.0L671.2 1229.6L670.4 1228.0ZM676.6 1227.4L678.2 1226.6L679.0 1225.0L679.8 1226.6L681.4 1227.4L679.8 1228.2L679.0 1229.8L678.2 1228.2ZM684.5 1227.3L686.1 1226.5L686.9 1224.9L687.6 1226.5L689.2 1227.3L687.6 1228.1L686.9 1229.7L686.1 1228.1ZM692.3 1227.3L693.9 1226.5L694.7 1224.9L695.5 1226.5L697.1 1227.3L695.5 1228.1L694.7 1229.7L693.9 1228.1ZM700.1 1227.2L701.7 1226.4L702.5 1224.8L703.3 1226.4L704.9 1227.2L703.3 1228.0L702.5 1229.6L701.7 1228.0ZM707.9 1227.2L709.5 1226.4L710.3 1224.8L711.1 1226.4L712.7 1227.2L711.1 1228.0L710.3 1229.6L709.5 1228.0ZM715.8 1227.2L717.4 1226.4L718.1 1224.8L718.9 1226.4L720.5 1227.2L718.9 1228.0L718.1 1229.6L717.4 1228.0ZM723.6 1227.2L725.2 1226.4L726.0 1224.8L726.8 1226.4L728.4 1227.2L726.8 1228.0L726.0 1229.6L725.2 1228.0ZM731.4 1227.2L733.0 1226.4L733.8 1224.8L734.6 1226.4L736.2 1227.2L734.6 1228.0L733.8 1229.6L733.0 1228.0ZM739.2 1227.2L740.8 1226.4L741.6 1224.8L742.4 1226.4L744.0 1227.2L742.4 1228.0L741.6 1229.6L740.8 1228.0ZM747.1 1227.2L748.7 1226.4L749.5 1224.8L750.2 1226.4L751.9 1227.2L750.2 1228.0L749.5 1229.6L748.7 1228.0ZM754.9 1227.2L756.5 1226.4L757.3 1224.8L758.1 1226.4L759.7 1227.2L758.1 1228.0L757.3 1229.6L756.5 1228.0ZM762.7 1227.2L764.3 1226.4L765.1 1224.8L765.9 1226.4L767.5 1227.2L765.9 1228.0L765.1 1229.6L764.3 1228.0ZM770.5 1227.2L772.1 1226.4L772.9 1224.8L773.7 1226.4L775.3 1227.2L773.7 1228.0L772.9 1229.6L772.1 1228.0ZM778.4 1227.2L780.0 1226.4L780.8 1224.8L781.5 1226.4L783.1 1227.2L781.5 1228.0L780.8 1229.6L780.0 1228.0ZM786.2 1227.2L787.8 1226.4L788.6 1224.8L789.4 1226.4L791.0 1227.2L789.4 1228.0L788.6 1229.6L787.8 1228.0ZM794.0 1227.2L795.6 1226.4L796.4 1224.8L797.2 1226.4L798.8 1227.2L797.2 1228.0L796.4 1229.6L795.6 1228.0ZM801.8 1227.2L803.4 1226.4L804.2 1224.8L805.0 1226.4L806.6 1227.2L805.0 1228.0L804.2 1229.6L803.4 1228.0ZM809.6 1227.2L811.2 1226.4L812.0 1224.8L812.8 1226.4L814.4 1227.2L812.8 1228.0L812.0 1229.6L811.2 1228.0ZM817.5 1227.2L819.1 1226.4L819.9 1224.8L820.7 1226.4L822.3 1227.2L820.7 1228.0L819.9 1229.6L819.1 1228.0ZM825.3 1227.2L826.9 1226.4L827.7 1224.8L828.5 1226.4L830.1 1227.2L828.5 1228.0L827.7 1229.6L826.9 1228.0ZM833.1 1227.2L834.7 1226.4L835.5 1224.8L836.3 1226.4L837.9 1227.2L836.3 1228.0L835.5 1229.6L834.7 1228.0ZM841.0 1227.2L842.6 1226.4L843.4 1224.8L844.1 1226.4L845.8 1227.2L844.1 1228.0L843.4 1229.6L842.6 1228.0ZM848.8 1227.2L850.4 1226.4L851.2 1224.8L852.0 1226.4L853.6 1227.2L852.0 1228.0L851.2 1229.6L850.4 1228.0ZM856.6 1227.2L858.2 1226.4L859.0 1224.8L859.8 1226.4L861.4 1227.2L859.8 1228.0L859.0 1229.6L858.2 1228.0ZM74.1 1742.2L75.7 1741.4L76.5 1739.8L77.3 1741.4L78.9 1742.2L77.3 1743.0L76.5 1744.6L75.7 1743.0ZM81.9 1740.6L83.5 1739.8L84.3 1738.2L85.1 1739.8L86.7 1740.6L85.1 1741.4L84.3 1743.0L83.5 1741.4ZM89.8 1734.8L91.4 1734.0L92.2 1732.4L93.0 1734.0L94.6 1734.8L93.0 1735.6L92.2 1737.2L91.4 1735.6ZM97.6 1732.8L99.2 1732.0L100.0 1730.4L100.8 1732.0L102.4 1732.8L100.8 1733.6L100.0 1735.2L99.2 1733.6ZM105.4 1740.1L107.0 1739.3L107.8 1737.7L108.6 1739.3L110.2 1740.1L108.6 1740.9L107.8 1742.5L107.0 1740.9ZM113.2 1729.4L114.8 1728.6L115.6 1727.0L116.4 1728.6L118.0 1729.4L116.4 1730.2L115.6 1731.8L114.8 1730.2ZM121.0 1720.3L122.6 1719.5L123.4 1717.9L124.2 1719.5L125.8 1720.3L124.2 1721.1L123.4 1722.7L122.6 1721.1ZM128.9 1707.6L130.5 1706.8L131.3 1705.2L132.1 1706.8L133.7 1707.6L132.1 1708.4L131.3 1710.0L130.5 1708.4ZM136.7 1709.0L138.3 1708.2L139.1 1706.6L139.9 1708.2L141.5 1709.0L139.9 1709.8L139.1 1711.4L138.3 1709.8ZM144.5 1703.0L146.1 1702.2L146.9 1700.6L147.7 1702.2L149.3 1703.0L147.7 1703.8L146.9 1705.4L146.1 1703.8ZM152.3 1708.4L153.9 1707.6L154.8 1706.0L155.6 1707.6L157.2 1708.4L155.6 1709.2L154.8 1710.8L153.9 1709.2ZM160.2 1680.4L161.8 1679.6L162.6 1678.0L163.4 1679.6L165.0 1680.4L163.4 1681.2L162.6 1682.8L161.8 1681.2ZM168.0 1669.3L169.6 1668.5L170.4 1666.9L171.2 1668.5L172.8 1669.3L171.2 1670.1L170.4 1671.7L169.6 1670.1ZM175.8 1676.0L177.4 1675.2L178.2 1673.6L179.0 1675.2L180.6 1676.0L179.0 1676.8L178.2 1678.4L177.4 1676.8ZM183.7 1670.1L185.2 1669.3L186.1 1667.7L186.9 1669.3L188.5 1670.1L186.9 1670.9L186.1 1672.5L185.2 1670.9ZM191.5 1674.9L193.1 1674.1L193.9 1672.5L194.7 1674.1L196.3 1674.9L194.7 1675.7L193.9 1677.3L193.1 1675.7ZM199.3 1641.9L200.9 1641.1L201.7 1639.5L202.5 1641.1L204.1 1641.9L202.5 1642.7L201.7 1644.3L200.9 1642.7ZM207.1 1613.7L208.7 1612.9L209.5 1611.3L210.3 1612.9L211.9 1613.7L210.3 1614.5L209.5 1616.1L208.7 1614.5ZM214.9 1624.1L216.5 1623.3L217.3 1621.7L218.2 1623.3L219.8 1624.1L218.2 1624.9L217.3 1626.5L216.5 1624.9ZM222.8 1607.9L224.4 1607.1L225.2 1605.5L226.0 1607.1L227.6 1607.9L226.0 1608.7L225.2 1610.3L224.4 1608.7ZM230.6 1605.2L232.2 1604.4L233.0 1602.8L233.8 1604.4L235.4 1605.2L233.8 1606.0L233.0 1607.6L232.2 1606.0ZM238.4 1612.0L240.0 1611.2L240.8 1609.6L241.6 1611.2L243.2 1612.0L241.6 1612.8L240.8 1614.4L240.0 1612.8ZM246.2 1574.1L247.8 1573.3L248.7 1571.7L249.5 1573.3L251.1 1574.1L249.5 1574.9L248.7 1576.5L247.8 1574.9ZM254.1 1593.5L255.7 1592.7L256.5 1591.1L257.3 1592.7L258.9 1593.5L257.3 1594.3L256.5 1595.9L255.7 1594.3ZM261.9 1570.0L263.5 1569.2L264.3 1567.6L265.1 1569.2L266.7 1570.0L265.1 1570.8L264.3 1572.4L263.5 1570.8ZM269.7 1552.4L271.3 1551.6L272.1 1550.0L272.9 1551.6L274.5 1552.4L272.9 1553.2L272.1 1554.8L271.3 1553.2ZM277.6 1533.2L279.2 1532.4L280.0 1530.8L280.8 1532.4L282.4 1533.2L280.8 1534.0L280.0 1535.6L279.2 1534.0ZM285.4 1527.3L287.0 1526.5L287.8 1524.9L288.6 1526.5L290.2 1527.3L288.6 1528.1L287.8 1529.7L287.0 1528.1ZM293.2 1515.9L294.8 1515.1L295.6 1513.5L296.4 1515.1L298.0 1515.9L296.4 1516.7L295.6 1518.3L294.8 1516.7ZM301.0 1518.8L302.6 1518.0L303.4 1516.4L304.2 1518.0L305.8 1518.8L304.2 1519.6L303.4 1521.2L302.6 1519.6ZM308.9 1513.8L310.4 1513.0L311.2 1511.4L312.1 1513.0L313.6 1513.8L312.1 1514.6L311.2 1516.2L310.4 1514.6ZM316.7 1484.8L318.3 1484.0L319.1 1482.4L319.9 1484.0L321.5 1484.8L319.9 1485.6L319.1 1487.2L318.3 1485.6ZM324.5 1483.1L326.1 1482.3L326.9 1480.7L327.7 1482.3L329.3 1483.1L327.7 1483.9L326.9 1485.5L326.1 1483.9ZM332.3 1479.3L333.9 1478.5L334.7 1476.9L335.5 1478.5L337.1 1479.3L335.5 1480.1L334.7 1481.7L333.9 1480.1ZM340.2 1467.4L341.8 1466.6L342.6 1465.0L343.4 1466.6L344.9 1467.4L343.4 1468.2L342.6 1469.8L341.8 1468.2ZM348.0 1446.3L349.6 1445.5L350.4 1443.9L351.2 1445.5L352.8 1446.3L351.2 1447.1L350.4 1448.7L349.6 1447.1ZM355.8 1452.5L357.4 1451.7L358.2 1450.1L359.0 1451.7L360.6 1452.5L359.0 1453.3L358.2 1454.9L357.4 1453.3ZM363.6 1435.4L365.2 1434.6L366.0 1433.0L366.8 1434.6L368.4 1435.4L366.8 1436.2L366.0 1437.8L365.2 1436.2ZM371.5 1428.4L373.1 1427.6L373.9 1426.0L374.7 1427.6L376.2 1428.4L374.7 1429.2L373.9 1430.8L373.1 1429.2ZM379.3 1396.0L380.9 1395.2L381.7 1393.6L382.5 1395.2L384.1 1396.0L382.5 1396.8L381.7 1398.4L380.9 1396.8ZM387.1 1383.7L388.7 1382.9L389.5 1381.3L390.3 1382.9L391.9 1383.7L390.3 1384.5L389.5 1386.1L388.7 1384.5ZM394.9 1355.6L396.5 1354.8L397.3 1353.2L398.1 1354.8L399.7 1355.6L398.1 1356.4L397.3 1358.0L396.5 1356.4ZM402.8 1387.4L404.3 1386.6L405.1 1385.0L405.9 1386.6L407.5 1387.4L405.9 1388.2L405.1 1389.8L404.3 1388.2ZM410.6 1369.1L412.2 1368.3L413.0 1366.7L413.8 1368.3L415.4 1369.1L413.8 1369.9L413.0 1371.5L412.2 1369.9ZM418.4 1343.0L420.0 1342.2L420.8 1340.6L421.6 1342.2L423.2 1343.0L421.6 1343.8L420.8 1345.4L420.0 1343.8ZM426.2 1347.5L427.8 1346.7L428.6 1345.1L429.4 1346.7L431.0 1347.5L429.4 1348.3L428.6 1349.9L427.8 1348.3ZM434.1 1341.0L435.6 1340.2L436.4 1338.6L437.2 1340.2L438.8 1341.0L437.2 1341.8L436.4 1343.4L435.6 1341.8ZM441.9 1312.7L443.5 1311.9L444.3 1310.3L445.1 1311.9L446.7 1312.7L445.1 1313.5L444.3 1315.1L443.5 1313.5ZM449.7 1326.8L451.3 1326.0L452.1 1324.4L452.9 1326.0L454.5 1326.8L452.9 1327.6L452.1 1329.2L451.3 1327.6ZM457.5 1328.2L459.1 1327.4L459.9 1325.8L460.7 1327.4L462.3 1328.2L460.7 1329.0L459.9 1330.6L459.1 1329.0ZM465.4 1323.2L466.9 1322.4L467.8 1320.8L468.6 1322.4L470.1 1323.2L468.6 1324.0L467.8 1325.6L466.9 1324.0ZM473.2 1301.7L474.8 1300.9L475.6 1299.3L476.4 1300.9L478.0 1301.7L476.4 1302.5L475.6 1304.1L474.8 1302.5ZM481.0 1296.6L482.6 1295.8L483.4 1294.2L484.2 1295.8L485.8 1296.6L484.2 1297.4L483.4 1299.0L482.6 1297.4ZM488.8 1306.0L490.4 1305.2L491.2 1303.6L492.0 1305.2L493.6 1306.0L492.0 1306.8L491.2 1308.4L490.4 1306.8ZM496.7 1297.5L498.2 1296.7L499.1 1295.1L499.9 1296.7L501.4 1297.5L499.9 1298.3L499.1 1299.9L498.2 1298.3ZM504.5 1280.3L506.1 1279.5L506.9 1277.9L507.7 1279.5L509.3 1280.3L507.7 1281.1L506.9 1282.7L506.1 1281.1ZM512.3 1275.8L513.9 1275.0L514.7 1273.4L515.5 1275.0L517.1 1275.8L515.5 1276.6L514.7 1278.2L513.9 1276.6ZM520.1 1281.1L521.7 1280.3L522.5 1278.7L523.3 1280.3L524.9 1281.1L523.3 1281.9L522.5 1283.5L521.7 1281.9ZM527.9 1267.9L529.5 1267.1L530.3 1265.5L531.1 1267.1L532.7 1267.9L531.1 1268.7L530.3 1270.3L529.5 1268.7ZM535.8 1264.9L537.4 1264.1L538.2 1262.5L539.0 1264.1L540.6 1264.9L539.0 1265.7L538.2 1267.3L537.4 1265.7ZM543.6 1277.7L545.2 1276.9L546.0 1275.3L546.8 1276.9L548.4 1277.7L546.8 1278.5L546.0 1280.1L545.2 1278.5ZM551.4 1264.6L553.0 1263.8L553.8 1262.2L554.6 1263.8L556.2 1264.6L554.6 1265.4L553.8 1267.0L553.0 1265.4ZM559.2 1257.1L560.9 1256.3L561.6 1254.7L562.4 1256.3L564.0 1257.1L562.4 1257.9L561.6 1259.5L560.9 1257.9ZM567.1 1260.4L568.7 1259.6L569.5 1258.0L570.3 1259.6L571.9 1260.4L570.3 1261.2L569.5 1262.8L568.7 1261.2ZM574.9 1266.8L576.5 1266.0L577.3 1264.4L578.1 1266.0L579.7 1266.8L578.1 1267.6L577.3 1269.2L576.5 1267.6ZM582.7 1253.8L584.3 1253.0L585.1 1251.4L585.9 1253.0L587.5 1253.8L585.9 1254.6L585.1 1256.2L584.3 1254.6ZM590.6 1246.1L592.2 1245.3L593.0 1243.7L593.8 1245.3L595.4 1246.1L593.8 1246.9L593.0 1248.5L592.2 1246.9ZM598.4 1240.0L600.0 1239.2L600.8 1237.6L601.6 1239.2L603.2 1240.0L601.6 1240.8L600.8 1242.4L600.0 1240.8ZM606.2 1256.9L607.8 1256.1L608.6 1254.5L609.4 1256.1L611.0 1256.9L609.4 1257.7L608.6 1259.3L607.8 1257.7ZM614.0 1232.4L615.6 1231.6L616.4 1230.0L617.2 1231.6L618.8 1232.4L617.2 1233.2L616.4 1234.8L615.6 1233.2ZM621.9 1247.9L623.5 1247.1L624.2 1245.5L625.0 1247.1L626.6 1247.9L625.0 1248.7L624.2 1250.3L623.5 1248.7ZM629.7 1237.4L631.3 1236.6L632.1 1235.0L632.9 1236.6L634.5 1237.4L632.9 1238.2L632.1 1239.8L631.3 1238.2ZM637.5 1235.2L639.1 1234.4L639.9 1232.8L640.7 1234.4L642.3 1235.2L640.7 1236.0L639.9 1237.6L639.1 1236.0ZM645.3 1235.1L646.9 1234.3L647.7 1232.7L648.5 1234.3L650.1 1235.1L648.5 1235.9L647.7 1237.5L646.9 1235.9ZM653.1 1237.2L654.8 1236.4L655.5 1234.8L656.3 1236.4L657.9 1237.2L656.3 1238.0L655.5 1239.6L654.8 1238.0ZM661.0 1240.8L662.6 1240.0L663.4 1238.4L664.2 1240.0L665.8 1240.8L664.2 1241.6L663.4 1243.2L662.6 1241.6ZM668.8 1233.7L670.4 1232.9L671.2 1231.3L672.0 1232.9L673.6 1233.7L672.0 1234.5L671.2 1236.1L670.4 1234.5ZM676.6 1237.1L678.2 1236.3L679.0 1234.7L679.8 1236.3L681.4 1237.1L679.8 1237.9L679.0 1239.5L678.2 1237.9ZM684.5 1241.5L686.1 1240.7L686.9 1239.1L687.6 1240.7L689.2 1241.5L687.6 1242.3L686.9 1243.9L686.1 1242.3ZM692.3 1227.2L693.9 1226.4L694.7 1224.8L695.5 1226.4L697.1 1227.2L695.5 1228.0L694.7 1229.6L693.9 1228.0ZM700.1 1230.8L701.7 1230.0L702.5 1228.4L703.3 1230.0L704.9 1230.8L703.3 1231.6L702.5 1233.2L701.7 1231.6ZM707.9 1227.5L709.5 1226.7L710.3 1225.1L711.1 1226.7L712.7 1227.5L711.1 1228.3L710.3 1229.9L709.5 1228.3ZM715.8 1233.6L717.4 1232.8L718.1 1231.2L718.9 1232.8L720.5 1233.6L718.9 1234.4L718.1 1236.0L717.4 1234.4ZM723.6 1227.7L725.2 1226.9L726.0 1225.3L726.8 1226.9L728.4 1227.7L726.8 1228.5L726.0 1230.1L725.2 1228.5ZM731.4 1227.2L733.0 1226.4L733.8 1224.8L734.6 1226.4L736.2 1227.2L734.6 1228.0L733.8 1229.6L733.0 1228.0ZM739.2 1227.2L740.8 1226.4L741.6 1224.8L742.4 1226.4L744.0 1227.2L742.4 1228.0L741.6 1229.6L740.8 1228.0ZM747.1 1229.7L748.7 1228.9L749.5 1227.3L750.2 1228.9L751.9 1229.7L750.2 1230.5L749.5 1232.1L748.7 1230.5ZM754.9 1231.3L756.5 1230.5L757.3 1228.9L758.1 1230.5L759.7 1231.3L758.1 1232.1L757.3 1233.7L756.5 1232.1ZM762.7 1229.3L764.3 1228.5L765.1 1226.9L765.9 1228.5L767.5 1229.3L765.9 1230.1L765.1 1231.7L764.3 1230.1ZM770.5 1231.9L772.1 1231.1L772.9 1229.5L773.7 1231.1L775.3 1231.9L773.7 1232.7L772.9 1234.3L772.1 1232.7ZM778.4 1230.7L780.0 1229.9L780.8 1228.3L781.5 1229.9L783.1 1230.7L781.5 1231.5L780.8 1233.1L780.0 1231.5ZM786.2 1228.2L787.8 1227.4L788.6 1225.8L789.4 1227.4L791.0 1228.2L789.4 1229.0L788.6 1230.6L787.8 1229.0ZM794.0 1229.1L795.6 1228.3L796.4 1226.7L797.2 1228.3L798.8 1229.1L797.2 1229.9L796.4 1231.5L795.6 1229.9ZM801.8 1228.1L803.4 1227.3L804.2 1225.7L805.0 1227.3L806.6 1228.1L805.0 1228.9L804.2 1230.5L803.4 1228.9ZM809.6 1227.8L811.2 1227.0L812.0 1225.4L812.8 1227.0L814.4 1227.8L812.8 1228.6L812.0 1230.2L811.2 1228.6ZM817.5 1227.2L819.1 1226.4L819.9 1224.8L820.7 1226.4L822.3 1227.2L820.7 1228.0L819.9 1229.6L819.1 1228.0ZM825.3 1227.2L826.9 1226.4L827.7 1224.8L828.5 1226.4L830.1 1227.2L828.5 1228.0L827.7 1229.6L826.9 1228.0ZM833.1 1227.4L834.7 1226.6L835.5 1225.0L836.3 1226.6L837.9 1227.4L836.3 1228.2L835.5 1229.8L834.7 1228.2ZM841.0 1227.2L842.6 1226.4L843.4 1224.8L844.1 1226.4L845.8 1227.2L844.1 1228.0L843.4 1229.6L842.6 1228.0ZM848.8 1227.5L850.4 1226.7L851.2 1225.1L852.0 1226.7L853.6 1227.5L852.0 1228.3L851.2 1229.9L850.4 1228.3ZM856.6 1227.3L858.2 1226.5L859.0 1224.9L859.8 1226.5L861.4 1227.3L859.8 1228.1L859.0 1229.7L858.2 1228.1ZM74.1 1742.2L75.7 1741.4L76.5 1739.8L77.3 1741.4L78.9 1742.2L77.3 1743.0L76.5 1744.6L75.7 1743.0ZM81.9 1742.2L83.5 1741.4L84.3 1739.8L85.1 1741.4L86.7 1742.2L85.1 1743.0L84.3 1744.6L83.5 1743.0ZM89.8 1739.8L91.4 1739.0L92.2 1737.4L93.0 1739.0L94.6 1739.8L93.0 1740.6L92.2 1742.2L91.4 1740.6ZM97.6 1740.3L99.2 1739.5L100.0 1737.9L100.8 1739.5L102.4 1740.3L100.8 1741.1L100.0 1742.7L99.2 1741.1ZM105.4 1733.9L107.0 1733.1L107.8 1731.5L108.6 1733.1L110.2 1733.9L108.6 1734.7L107.8 1736.3L107.0 1734.7ZM113.2 1725.5L114.8 1724.7L115.6 1723.1L116.4 1724.7L118.0 1725.5L116.4 1726.3L115.6 1727.9L114.8 1726.3ZM121.0 1731.8L122.6 1731.0L123.4 1729.4L124.2 1731.0L125.8 1731.8L124.2 1732.6L123.4 1734.2L122.6 1732.6ZM128.9 1724.8L130.5 1724.0L131.3 1722.4L132.1 1724.0L133.7 1724.8L132.1 1725.6L131.3 1727.2L130.5 1725.6ZM136.7 1727.2L138.3 1726.4L139.1 1724.8L139.9 1726.4L141.5 1727.2L139.9 1728.0L139.1 1729.6L138.3 1728.0ZM144.5 1725.8L146.1 1725.0L146.9 1723.4L147.7 1725.0L149.3 1725.8L147.7 1726.6L146.9 1728.2L146.1 1726.6ZM152.3 1723.5L153.9 1722.7L154.8 1721.1L155.6 1722.7L157.2 1723.5L155.6 1724.3L154.8 1725.9L153.9 1724.3ZM160.2 1704.6L161.8 1703.8L162.6 1702.2L163.4 1703.8L165.0 1704.6L163.4 1705.4L162.6 1707.0L161.8 1705.4ZM168.0 1694.9L169.6 1694.1L170.4 1692.5L171.2 1694.1L172.8 1694.9L171.2 1695.7L170.4 1697.3L169.6 1695.7ZM175.8 1702.8L177.4 1702.0L178.2 1700.4L179.0 1702.0L180.6 1702.8L179.0 1703.6L178.2 1705.2L177.4 1703.6ZM183.7 1707.1L185.2 1706.3L186.1 1704.7L186.9 1706.3L188.5 1707.1L186.9 1707.9L186.1 1709.5L185.2 1707.9ZM191.5 1693.0L193.1 1692.2L193.9 1690.6L194.7 1692.2L196.3 1693.0L194.7 1693.8L193.9 1695.4L193.1 1693.8ZM199.3 1696.3L200.9 1695.5L201.7 1693.9L202.5 1695.5L204.1 1696.3L202.5 1697.1L201.7 1698.7L200.9 1697.1ZM207.1 1683.1L208.7 1682.3L209.5 1680.7L210.3 1682.3L211.9 1683.1L210.3 1683.9L209.5 1685.5L208.7 1683.9ZM214.9 1682.4L216.5 1681.6L217.3 1680.0L218.2 1681.6L219.8 1682.4L218.2 1683.2L217.3 1684.8L216.5 1683.2ZM222.8 1677.5L224.4 1676.7L225.2 1675.1L226.0 1676.7L227.6 1677.5L226.0 1678.3L225.2 1679.9L224.4 1678.3ZM230.6 1669.6L232.2 1668.8L233.0 1667.2L233.8 1668.8L235.4 1669.6L233.8 1670.4L233.0 1672.0L232.2 1670.4ZM238.4 1674.8L240.0 1674.0L240.8 1672.4L241.6 1674.0L243.2 1674.8L241.6 1675.6L240.8 1677.2L240.0 1675.6ZM246.2 1667.9L247.8 1667.1L248.7 1665.5L249.5 1667.1L251.1 1667.9L249.5 1668.7L248.7 1670.3L247.8 1668.7ZM254.1 1674.9L255.7 1674.1L256.5 1672.5L257.3 1674.1L258.9 1674.9L257.3 1675.7L256.5 1677.3L255.7 1675.7ZM261.9 1657.1L263.5 1656.3L264.3 1654.7L265.1 1656.3L266.7 1657.1L265.1 1657.9L264.3 1659.5L263.5 1657.9ZM269.7 1661.0L271.3 1660.2L272.1 1658.6L272.9 1660.2L274.5 1661.0L272.9 1661.8L272.1 1663.4L271.3 1661.8ZM277.6 1642.1L279.2 1641.3L280.0 1639.7L280.8 1641.3L282.4 1642.1L280.8 1642.9L280.0 1644.5L279.2 1642.9ZM285.4 1644.3L287.0 1643.5L287.8 1641.9L288.6 1643.5L290.2 1644.3L288.6 1645.1L287.8 1646.7L287.0 1645.1ZM293.2 1626.7L294.8 1625.9L295.6 1624.3L296.4 1625.9L298.0 1626.7L296.4 1627.5L295.6 1629.1L294.8 1627.5ZM301.0 1616.2L302.6 1615.4L303.4 1613.8L304.2 1615.4L305.8 1616.2L304.2 1617.0L303.4 1618.6L302.6 1617.0ZM308.9 1630.2L310.4 1629.4L311.2 1627.8L312.1 1629.4L313.6 1630.2L312.1 1631.0L311.2 1632.6L310.4 1631.0ZM316.7 1616.7L318.3 1615.9L319.1 1614.3L319.9 1615.9L321.5 1616.7L319.9 1617.5L319.1 1619.1L318.3 1617.5ZM324.5 1611.3L326.1 1610.5L326.9 1608.9L327.7 1610.5L329.3 1611.3L327.7 1612.1L326.9 1613.7L326.1 1612.1ZM332.3 1584.6L333.9 1583.8L334.7 1582.2L335.5 1583.8L337.1 1584.6L335.5 1585.4L334.7 1587.0L333.9 1585.4ZM340.2 1565.9L341.8 1565.1L342.6 1563.5L343.4 1565.1L344.9 1565.9L343.4 1566.7L342.6 1568.3L341.8 1566.7ZM348.0 1568.6L349.6 1567.8L350.4 1566.2L351.2 1567.8L352.8 1568.6L351.2 1569.4L350.4 1571.0L349.6 1569.4ZM355.8 1575.7L357.4 1574.9L358.2 1573.3L359.0 1574.9L360.6 1575.7L359.0 1576.5L358.2 1578.1L357.4 1576.5ZM363.6 1546.0L365.2 1545.2L366.0 1543.6L366.8 1545.2L368.4 1546.0L366.8 1546.8L366.0 1548.4L365.2 1546.8ZM371.5 1575.2L373.1 1574.4L373.9 1572.8L374.7 1574.4L376.2 1575.2L374.7 1576.0L373.9 1577.6L373.1 1576.0ZM379.3 1530.3L380.9 1529.5L381.7 1527.9L382.5 1529.5L384.1 1530.3L382.5 1531.1L381.7 1532.7L380.9 1531.1ZM387.1 1549.7L388.7 1548.9L389.5 1547.3L390.3 1548.9L391.9 1549.7L390.3 1550.5L389.5 1552.1L388.7 1550.5ZM394.9 1569.1L396.5 1568.3L397.3 1566.7L398.1 1568.3L399.7 1569.1L398.1 1569.9L397.3 1571.5L396.5 1569.9ZM402.8 1492.8L404.3 1492.0L405.1 1490.4L405.9 1492.0L407.5 1492.8L405.9 1493.6L405.1 1495.2L404.3 1493.6ZM410.6 1498.8L412.2 1498.0L413.0 1496.4L413.8 1498.0L415.4 1498.8L413.8 1499.6L413.0 1501.2L412.2 1499.6ZM418.4 1524.7L420.0 1523.9L420.8 1522.3L421.6 1523.9L423.2 1524.7L421.6 1525.5L420.8 1527.1L420.0 1525.5ZM426.2 1501.9L427.8 1501.1L428.6 1499.5L429.4 1501.1L431.0 1501.9L429.4 1502.7L428.6 1504.3L427.8 1502.7ZM434.1 1499.4L435.6 1498.6L436.4 1497.0L437.2 1498.6L438.8 1499.4L437.2 1500.2L436.4 1501.8L435.6 1500.2ZM441.9 1488.1L443.5 1487.3L444.3 1485.7L445.1 1487.3L446.7 1488.1L445.1 1488.9L444.3 1490.5L443.5 1488.9ZM449.7 1501.3L451.3 1500.5L452.1 1498.9L452.9 1500.5L454.5 1501.3L452.9 1502.1L452.1 1503.7L451.3 1502.1ZM457.5 1483.8L459.1 1483.0L459.9 1481.4L460.7 1483.0L462.3 1483.8L460.7 1484.6L459.9 1486.2L459.1 1484.6ZM465.4 1462.0L466.9 1461.2L467.8 1459.6L468.6 1461.2L470.1 1462.0L468.6 1462.8L467.8 1464.4L466.9 1462.8ZM473.2 1458.2L474.8 1457.4L475.6 1455.8L476.4 1457.4L478.0 1458.2L476.4 1459.0L475.6 1460.6L474.8 1459.0ZM481.0 1438.9L482.6 1438.1L483.4 1436.5L484.2 1438.1L485.8 1438.9L484.2 1439.7L483.4 1441.3L482.6 1439.7ZM488.8 1446.5L490.4 1445.7L491.2 1444.1L492.0 1445.7L493.6 1446.5L492.0 1447.3L491.2 1448.9L490.4 1447.3ZM496.7 1411.1L498.2 1410.3L499.1 1408.7L499.9 1410.3L501.4 1411.1L499.9 1411.9L499.1 1413.5L498.2 1411.9ZM504.5 1443.5L506.1 1442.7L506.9 1441.1L507.7 1442.7L509.3 1443.5L507.7 1444.3L506.9 1445.9L506.1 1444.3ZM512.3 1424.9L513.9 1424.1L514.7 1422.5L515.5 1424.1L517.1 1424.9L515.5 1425.7L514.7 1427.3L513.9 1425.7ZM520.1 1445.9L521.7 1445.1L522.5 1443.5L523.3 1445.1L524.9 1445.9L523.3 1446.7L522.5 1448.3L521.7 1446.7ZM527.9 1431.4L529.5 1430.6L530.3 1429.0L531.1 1430.6L532.7 1431.4L531.1 1432.2L530.3 1433.8L529.5 1432.2ZM535.8 1393.6L537.4 1392.8L538.2 1391.2L539.0 1392.8L540.6 1393.6L539.0 1394.4L538.2 1396.0L537.4 1394.4ZM543.6 1415.7L545.2 1414.9L546.0 1413.3L546.8 1414.9L548.4 1415.7L546.8 1416.5L546.0 1418.1L545.2 1416.5ZM551.4 1392.1L553.0 1391.3L553.8 1389.7L554.6 1391.3L556.2 1392.1L554.6 1392.9L553.8 1394.5L553.0 1392.9ZM559.2 1393.8L560.9 1393.0L561.6 1391.4L562.4 1393.0L564.0 1393.8L562.4 1394.6L561.6 1396.2L560.9 1394.6ZM567.1 1400.2L568.7 1399.4L569.5 1397.8L570.3 1399.4L571.9 1400.2L570.3 1401.0L569.5 1402.6L568.7 1401.0ZM574.9 1386.7L576.5 1385.9L577.3 1384.3L578.1 1385.9L579.7 1386.7L578.1 1387.5L577.3 1389.1L576.5 1387.5ZM582.7 1383.5L584.3 1382.7L585.1 1381.1L585.9 1382.7L587.5 1383.5L585.9 1384.3L585.1 1385.9L584.3 1384.3ZM590.6 1378.3L592.2 1377.5L593.0 1375.9L593.8 1377.5L595.4 1378.3L593.8 1379.1L593.0 1380.7L592.2 1379.1ZM598.4 1359.2L600.0 1358.4L600.8 1356.8L601.6 1358.4L603.2 1359.2L601.6 1360.0L600.8 1361.6L600.0 1360.0ZM606.2 1355.9L607.8 1355.1L608.6 1353.5L609.4 1355.1L611.0 1355.9L609.4 1356.7L608.6 1358.3L607.8 1356.7ZM614.0 1365.3L615.6 1364.5L616.4 1362.9L617.2 1364.5L618.8 1365.3L617.2 1366.1L616.4 1367.7L615.6 1366.1ZM621.9 1364.6L623.5 1363.8L624.2 1362.2L625.0 1363.8L626.6 1364.6L625.0 1365.4L624.2 1367.0L623.5 1365.4ZM629.7 1347.2L631.3 1346.4L632.1 1344.8L632.9 1346.4L634.5 1347.2L632.9 1348.0L632.1 1349.6L631.3 1348.0ZM637.5 1347.3L639.1 1346.5L639.9 1344.9L640.7 1346.5L642.3 1347.3L640.7 1348.1L639.9 1349.7L639.1 1348.1ZM645.3 1331.3L646.9 1330.5L647.7 1328.9L648.5 1330.5L650.1 1331.3L648.5 1332.1L647.7 1333.7L646.9 1332.1ZM653.1 1310.4L654.8 1309.6L655.5 1308.0L656.3 1309.6L657.9 1310.4L656.3 1311.2L655.5 1312.8L654.8 1311.2ZM661.0 1326.1L662.6 1325.3L663.4 1323.7L664.2 1325.3L665.8 1326.1L664.2 1326.9L663.4 1328.5L662.6 1326.9ZM668.8 1331.7L670.4 1330.9L671.2 1329.3L672.0 1330.9L673.6 1331.7L672.0 1332.5L671.2 1334.1L670.4 1332.5ZM676.6 1329.7L678.2 1328.9L679.0 1327.3L679.8 1328.9L681.4 1329.7L679.8 1330.5L679.0 1332.1L678.2 1330.5ZM684.5 1333.3L686.1 1332.5L686.9 1330.9L687.6 1332.5L689.2 1333.3L687.6 1334.1L686.9 1335.7L686.1 1334.1ZM692.3 1330.6L693.9 1329.8L694.7 1328.2L695.5 1329.8L697.1 1330.6L695.5 1331.4L694.7 1333.0L693.9 1331.4ZM700.1 1328.4L701.7 1327.6L702.5 1326.0L703.3 1327.6L704.9 1328.4L703.3 1329.2L702.5 1330.8L701.7 1329.2ZM707.9 1319.4L709.5 1318.6L710.3 1317.0L711.1 1318.6L712.7 1319.4L711.1 1320.2L710.3 1321.8L709.5 1320.2ZM715.8 1316.8L717.4 1316.0L718.1 1314.4L718.9 1316.0L720.5 1316.8L718.9 1317.6L718.1 1319.2L717.4 1317.6ZM723.6 1303.0L725.2 1302.2L726.0 1300.6L726.8 1302.2L728.4 1303.0L726.8 1303.8L726.0 1305.4L725.2 1303.8ZM731.4 1311.2L733.0 1310.4L733.8 1308.8L734.6 1310.4L736.2 1311.2L734.6 1312.0L733.8 1313.6L733.0 1312.0ZM739.2 1306.8L740.8 1306.0L741.6 1304.4L742.4 1306.0L744.0 1306.8L742.4 1307.6L741.6 1309.2L740.8 1307.6ZM747.1 1313.6L748.7 1312.8L749.5 1311.2L750.2 1312.8L751.9 1313.6L750.2 1314.4L749.5 1316.0L748.7 1314.4ZM754.9 1285.5L756.5 1284.7L757.3 1283.1L758.1 1284.7L759.7 1285.5L758.1 1286.3L757.3 1287.9L756.5 1286.3ZM762.7 1293.6L764.3 1292.8L765.1 1291.2L765.9 1292.8L767.5 1293.6L765.9 1294.4L765.1 1296.0L764.3 1294.4ZM770.5 1280.3L772.1 1279.5L772.9 1277.9L773.7 1279.5L775.3 1280.3L773.7 1281.1L772.9 1282.7L772.1 1281.1ZM778.4 1287.1L780.0 1286.3L780.8 1284.7L781.5 1286.3L783.1 1287.1L781.5 1287.9L780.8 1289.5L780.0 1287.9ZM786.2 1279.4L787.8 1278.6L788.6 1277.0L789.4 1278.6L791.0 1279.4L789.4 1280.2L788.6 1281.8L787.8 1280.2ZM794.0 1292.4L795.6 1291.6L796.4 1290.0L797.2 1291.6L798.8 1292.4L797.2 1293.2L796.4 1294.8L795.6 1293.2ZM801.8 1282.7L803.4 1281.9L804.2 1280.3L805.0 1281.9L806.6 1282.7L805.0 1283.5L804.2 1285.1L803.4 1283.5ZM809.6 1264.8L811.2 1264.0L812.0 1262.4L812.8 1264.0L814.4 1264.8L812.8 1265.6L812.0 1267.2L811.2 1265.6ZM817.5 1295.7L819.1 1294.9L819.9 1293.3L820.7 1294.9L822.3 1295.7L820.7 1296.5L819.9 1298.1L819.1 1296.5ZM825.3 1274.9L826.9 1274.1L827.7 1272.5L828.5 1274.1L830.1 1274.9L828.5 1275.7L827.7 1277.3L826.9 1275.7ZM833.1 1269.8L834.7 1269.0L835.5 1267.4L836.3 1269.0L837.9 1269.8L836.3 1270.6L835.5 1272.2L834.7 1270.6ZM841.0 1279.3L842.6 1278.5L843.4 1276.9L844.1 1278.5L845.8 1279.3L844.1 1280.1L843.4 1281.7L842.6 1280.1ZM848.8 1276.3L850.4 1275.5L851.2 1273.9L852.0 1275.5L853.6 1276.3L852.0 1277.1L851.2 1278.7L850.4 1277.1ZM856.6 1272.2L858.2 1271.4L859.0 1269.8L859.8 1271.4L861.4 1272.2L859.8 1273.0L859.0 1274.6L858.2 1273.0Z" stroke="#000" stroke-width="0.6" fill="#000"/><text x="180.9" y="1284.5" text-anchor="middle">0</text><text x="249" y="1284.5" text-anchor="middle">1</text><text x="394.7" y="1284.5" text-anchor="middle">2</text><text x="394.7" y="1440.4" text-anchor="middle">3</text><text x="394.7" y="1595.3" text-anchor="middle">4</text></g></svg>
</body></html>
